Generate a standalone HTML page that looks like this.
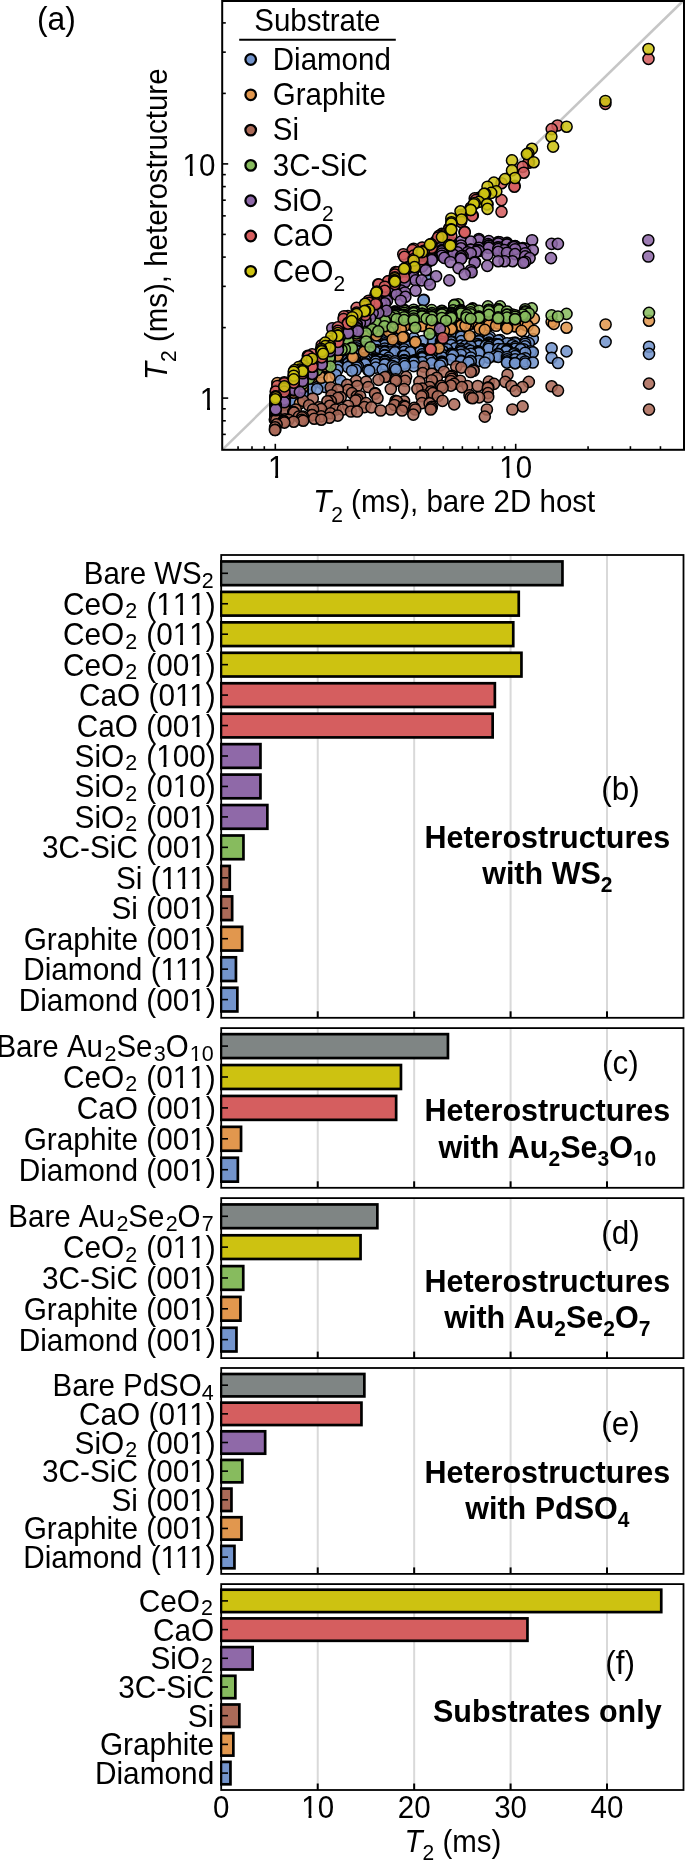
<!DOCTYPE html>
<html><head><meta charset="utf-8"><style>html,body{margin:0;padding:0;background:#fff;}svg{display:block;will-change:transform;}text{font-family:"Liberation Sans",sans-serif;font-kerning:none;font-feature-settings:"kern" 0;}</style></head>
<body><svg width="685" height="1861" viewBox="0 0 685 1861" font-family="Liberation Sans, sans-serif"><line x1="222.2" y1="449.8" x2="683.0" y2="1.0" stroke="#c6c6c6" stroke-width="2.5"/>
<circle cx="439.1" cy="253.8" r="5.55" fill="#7394cc" fill-opacity="0.87" stroke="#000" stroke-width="1.5"/>
<circle cx="427.9" cy="262.0" r="5.55" fill="#7394cc" fill-opacity="0.87" stroke="#000" stroke-width="1.5"/>
<circle cx="427.9" cy="280.4" r="5.55" fill="#7394cc" fill-opacity="0.87" stroke="#000" stroke-width="1.5"/>
<circle cx="423.8" cy="299.8" r="5.55" fill="#7394cc" fill-opacity="0.87" stroke="#000" stroke-width="1.5"/>
<circle cx="423.5" cy="300.2" r="5.55" fill="#7394cc" fill-opacity="0.87" stroke="#000" stroke-width="1.5"/>
<circle cx="459.3" cy="332.9" r="5.55" fill="#7394cc" fill-opacity="0.87" stroke="#000" stroke-width="1.5"/>
<circle cx="451.2" cy="335.5" r="5.55" fill="#7394cc" fill-opacity="0.87" stroke="#000" stroke-width="1.5"/>
<circle cx="451.2" cy="335.6" r="5.55" fill="#7394cc" fill-opacity="0.87" stroke="#000" stroke-width="1.5"/>
<circle cx="461.0" cy="335.6" r="5.55" fill="#7394cc" fill-opacity="0.87" stroke="#000" stroke-width="1.5"/>
<circle cx="375.7" cy="336.4" r="5.55" fill="#7394cc" fill-opacity="0.87" stroke="#000" stroke-width="1.5"/>
<circle cx="461.0" cy="336.7" r="5.55" fill="#7394cc" fill-opacity="0.87" stroke="#000" stroke-width="1.5"/>
<circle cx="431.7" cy="337.0" r="5.55" fill="#7394cc" fill-opacity="0.87" stroke="#000" stroke-width="1.5"/>
<circle cx="477.7" cy="337.0" r="5.55" fill="#7394cc" fill-opacity="0.87" stroke="#000" stroke-width="1.5"/>
<circle cx="489.9" cy="337.0" r="5.55" fill="#7394cc" fill-opacity="0.87" stroke="#000" stroke-width="1.5"/>
<circle cx="404.1" cy="337.8" r="5.55" fill="#7394cc" fill-opacity="0.87" stroke="#000" stroke-width="1.5"/>
<circle cx="413.7" cy="338.1" r="5.55" fill="#7394cc" fill-opacity="0.87" stroke="#000" stroke-width="1.5"/>
<circle cx="394.9" cy="338.2" r="5.55" fill="#7394cc" fill-opacity="0.87" stroke="#000" stroke-width="1.5"/>
<circle cx="470.7" cy="338.2" r="5.55" fill="#7394cc" fill-opacity="0.87" stroke="#000" stroke-width="1.5"/>
<circle cx="431.7" cy="338.4" r="5.55" fill="#7394cc" fill-opacity="0.87" stroke="#000" stroke-width="1.5"/>
<circle cx="394.9" cy="338.6" r="5.55" fill="#7394cc" fill-opacity="0.87" stroke="#000" stroke-width="1.5"/>
<circle cx="384.8" cy="338.9" r="5.55" fill="#7394cc" fill-opacity="0.87" stroke="#000" stroke-width="1.5"/>
<circle cx="532.8" cy="339.0" r="5.55" fill="#7394cc" fill-opacity="0.87" stroke="#000" stroke-width="1.5"/>
<circle cx="488.8" cy="339.1" r="5.55" fill="#7394cc" fill-opacity="0.87" stroke="#000" stroke-width="1.5"/>
<circle cx="431.7" cy="339.2" r="5.55" fill="#7394cc" fill-opacity="0.87" stroke="#000" stroke-width="1.5"/>
<circle cx="384.8" cy="339.3" r="5.55" fill="#7394cc" fill-opacity="0.87" stroke="#000" stroke-width="1.5"/>
<circle cx="404.1" cy="339.8" r="5.55" fill="#7394cc" fill-opacity="0.87" stroke="#000" stroke-width="1.5"/>
<circle cx="500.1" cy="340.1" r="5.55" fill="#7394cc" fill-opacity="0.87" stroke="#000" stroke-width="1.5"/>
<circle cx="375.7" cy="340.3" r="5.55" fill="#7394cc" fill-opacity="0.87" stroke="#000" stroke-width="1.5"/>
<circle cx="498.2" cy="340.6" r="5.55" fill="#7394cc" fill-opacity="0.87" stroke="#000" stroke-width="1.5"/>
<circle cx="404.1" cy="340.7" r="5.55" fill="#7394cc" fill-opacity="0.87" stroke="#000" stroke-width="1.5"/>
<circle cx="478.9" cy="341.0" r="5.55" fill="#7394cc" fill-opacity="0.87" stroke="#000" stroke-width="1.5"/>
<circle cx="461.3" cy="341.1" r="5.55" fill="#7394cc" fill-opacity="0.87" stroke="#000" stroke-width="1.5"/>
<circle cx="440.9" cy="341.1" r="5.55" fill="#7394cc" fill-opacity="0.87" stroke="#000" stroke-width="1.5"/>
<circle cx="422.5" cy="341.1" r="5.55" fill="#7394cc" fill-opacity="0.87" stroke="#000" stroke-width="1.5"/>
<circle cx="365.2" cy="341.2" r="5.55" fill="#7394cc" fill-opacity="0.87" stroke="#000" stroke-width="1.5"/>
<circle cx="451.2" cy="341.2" r="5.55" fill="#7394cc" fill-opacity="0.87" stroke="#000" stroke-width="1.5"/>
<circle cx="365.2" cy="341.3" r="5.55" fill="#7394cc" fill-opacity="0.87" stroke="#000" stroke-width="1.5"/>
<circle cx="478.9" cy="341.3" r="5.55" fill="#7394cc" fill-opacity="0.87" stroke="#000" stroke-width="1.5"/>
<circle cx="384.8" cy="341.4" r="5.55" fill="#7394cc" fill-opacity="0.87" stroke="#000" stroke-width="1.5"/>
<circle cx="394.9" cy="341.7" r="5.55" fill="#7394cc" fill-opacity="0.87" stroke="#000" stroke-width="1.5"/>
<circle cx="525.2" cy="341.7" r="5.55" fill="#7394cc" fill-opacity="0.87" stroke="#000" stroke-width="1.5"/>
<circle cx="375.7" cy="341.8" r="5.55" fill="#7394cc" fill-opacity="0.87" stroke="#000" stroke-width="1.5"/>
<circle cx="441.9" cy="341.9" r="5.55" fill="#7394cc" fill-opacity="0.87" stroke="#000" stroke-width="1.5"/>
<circle cx="605.6" cy="341.9" r="5.55" fill="#7394cc" fill-opacity="0.87" stroke="#000" stroke-width="1.5"/>
<circle cx="441.9" cy="342.0" r="5.55" fill="#7394cc" fill-opacity="0.87" stroke="#000" stroke-width="1.5"/>
<circle cx="451.2" cy="342.2" r="5.55" fill="#7394cc" fill-opacity="0.87" stroke="#000" stroke-width="1.5"/>
<circle cx="515.1" cy="342.5" r="5.55" fill="#7394cc" fill-opacity="0.87" stroke="#000" stroke-width="1.5"/>
<circle cx="375.7" cy="342.6" r="5.55" fill="#7394cc" fill-opacity="0.87" stroke="#000" stroke-width="1.5"/>
<circle cx="488.8" cy="342.6" r="5.55" fill="#7394cc" fill-opacity="0.87" stroke="#000" stroke-width="1.5"/>
<circle cx="528.8" cy="343.1" r="5.55" fill="#7394cc" fill-opacity="0.87" stroke="#000" stroke-width="1.5"/>
<circle cx="512.4" cy="343.1" r="5.55" fill="#7394cc" fill-opacity="0.87" stroke="#000" stroke-width="1.5"/>
<circle cx="384.8" cy="343.2" r="5.55" fill="#7394cc" fill-opacity="0.87" stroke="#000" stroke-width="1.5"/>
<circle cx="507.0" cy="343.2" r="5.55" fill="#7394cc" fill-opacity="0.87" stroke="#000" stroke-width="1.5"/>
<circle cx="375.7" cy="343.3" r="5.55" fill="#7394cc" fill-opacity="0.87" stroke="#000" stroke-width="1.5"/>
<circle cx="515.1" cy="343.4" r="5.55" fill="#7394cc" fill-opacity="0.87" stroke="#000" stroke-width="1.5"/>
<circle cx="488.8" cy="343.5" r="5.55" fill="#7394cc" fill-opacity="0.87" stroke="#000" stroke-width="1.5"/>
<circle cx="525.2" cy="343.7" r="5.55" fill="#7394cc" fill-opacity="0.87" stroke="#000" stroke-width="1.5"/>
<circle cx="441.9" cy="343.9" r="5.55" fill="#7394cc" fill-opacity="0.87" stroke="#000" stroke-width="1.5"/>
<circle cx="347.9" cy="344.1" r="5.55" fill="#7394cc" fill-opacity="0.87" stroke="#000" stroke-width="1.5"/>
<circle cx="496.1" cy="344.1" r="5.55" fill="#7394cc" fill-opacity="0.87" stroke="#000" stroke-width="1.5"/>
<circle cx="477.7" cy="344.1" r="5.55" fill="#7394cc" fill-opacity="0.87" stroke="#000" stroke-width="1.5"/>
<circle cx="498.2" cy="344.2" r="5.55" fill="#7394cc" fill-opacity="0.87" stroke="#000" stroke-width="1.5"/>
<circle cx="356.6" cy="344.5" r="5.55" fill="#7394cc" fill-opacity="0.87" stroke="#000" stroke-width="1.5"/>
<circle cx="413.7" cy="344.6" r="5.55" fill="#7394cc" fill-opacity="0.87" stroke="#000" stroke-width="1.5"/>
<circle cx="498.2" cy="344.6" r="5.55" fill="#7394cc" fill-opacity="0.87" stroke="#000" stroke-width="1.5"/>
<circle cx="488.8" cy="344.7" r="5.55" fill="#7394cc" fill-opacity="0.87" stroke="#000" stroke-width="1.5"/>
<circle cx="498.2" cy="344.7" r="5.55" fill="#7394cc" fill-opacity="0.87" stroke="#000" stroke-width="1.5"/>
<circle cx="384.8" cy="344.9" r="5.55" fill="#7394cc" fill-opacity="0.87" stroke="#000" stroke-width="1.5"/>
<circle cx="413.7" cy="344.9" r="5.55" fill="#7394cc" fill-opacity="0.87" stroke="#000" stroke-width="1.5"/>
<circle cx="451.2" cy="344.9" r="5.55" fill="#7394cc" fill-opacity="0.87" stroke="#000" stroke-width="1.5"/>
<circle cx="451.2" cy="345.0" r="5.55" fill="#7394cc" fill-opacity="0.87" stroke="#000" stroke-width="1.5"/>
<circle cx="441.9" cy="345.2" r="5.55" fill="#7394cc" fill-opacity="0.87" stroke="#000" stroke-width="1.5"/>
<circle cx="478.9" cy="345.2" r="5.55" fill="#7394cc" fill-opacity="0.87" stroke="#000" stroke-width="1.5"/>
<circle cx="485.8" cy="345.2" r="5.55" fill="#7394cc" fill-opacity="0.87" stroke="#000" stroke-width="1.5"/>
<circle cx="512.4" cy="345.2" r="5.55" fill="#7394cc" fill-opacity="0.87" stroke="#000" stroke-width="1.5"/>
<circle cx="406.1" cy="345.2" r="5.55" fill="#7394cc" fill-opacity="0.87" stroke="#000" stroke-width="1.5"/>
<circle cx="384.8" cy="345.3" r="5.55" fill="#7394cc" fill-opacity="0.87" stroke="#000" stroke-width="1.5"/>
<circle cx="347.9" cy="345.4" r="5.55" fill="#7394cc" fill-opacity="0.87" stroke="#000" stroke-width="1.5"/>
<circle cx="461.0" cy="345.6" r="5.55" fill="#7394cc" fill-opacity="0.87" stroke="#000" stroke-width="1.5"/>
<circle cx="461.0" cy="345.6" r="5.55" fill="#7394cc" fill-opacity="0.87" stroke="#000" stroke-width="1.5"/>
<circle cx="400.8" cy="345.6" r="5.55" fill="#7394cc" fill-opacity="0.87" stroke="#000" stroke-width="1.5"/>
<circle cx="375.7" cy="345.7" r="5.55" fill="#7394cc" fill-opacity="0.87" stroke="#000" stroke-width="1.5"/>
<circle cx="356.6" cy="345.8" r="5.55" fill="#7394cc" fill-opacity="0.87" stroke="#000" stroke-width="1.5"/>
<circle cx="413.7" cy="345.9" r="5.55" fill="#7394cc" fill-opacity="0.87" stroke="#000" stroke-width="1.5"/>
<circle cx="478.9" cy="346.1" r="5.55" fill="#7394cc" fill-opacity="0.87" stroke="#000" stroke-width="1.5"/>
<circle cx="485.8" cy="346.1" r="5.55" fill="#7394cc" fill-opacity="0.87" stroke="#000" stroke-width="1.5"/>
<circle cx="465.4" cy="346.1" r="5.55" fill="#7394cc" fill-opacity="0.87" stroke="#000" stroke-width="1.5"/>
<circle cx="406.1" cy="346.1" r="5.55" fill="#7394cc" fill-opacity="0.87" stroke="#000" stroke-width="1.5"/>
<circle cx="394.9" cy="346.4" r="5.55" fill="#7394cc" fill-opacity="0.87" stroke="#000" stroke-width="1.5"/>
<circle cx="470.7" cy="346.4" r="5.55" fill="#7394cc" fill-opacity="0.87" stroke="#000" stroke-width="1.5"/>
<circle cx="525.2" cy="346.4" r="5.55" fill="#7394cc" fill-opacity="0.87" stroke="#000" stroke-width="1.5"/>
<circle cx="337.9" cy="346.6" r="5.55" fill="#7394cc" fill-opacity="0.87" stroke="#000" stroke-width="1.5"/>
<circle cx="649.0" cy="346.7" r="5.55" fill="#7394cc" fill-opacity="0.87" stroke="#000" stroke-width="1.5"/>
<circle cx="488.8" cy="346.8" r="5.55" fill="#7394cc" fill-opacity="0.87" stroke="#000" stroke-width="1.5"/>
<circle cx="337.9" cy="346.9" r="5.55" fill="#7394cc" fill-opacity="0.87" stroke="#000" stroke-width="1.5"/>
<circle cx="488.8" cy="347.1" r="5.55" fill="#7394cc" fill-opacity="0.87" stroke="#000" stroke-width="1.5"/>
<circle cx="515.1" cy="347.1" r="5.55" fill="#7394cc" fill-opacity="0.87" stroke="#000" stroke-width="1.5"/>
<circle cx="365.2" cy="347.2" r="5.55" fill="#7394cc" fill-opacity="0.87" stroke="#000" stroke-width="1.5"/>
<circle cx="394.9" cy="347.7" r="5.55" fill="#7394cc" fill-opacity="0.87" stroke="#000" stroke-width="1.5"/>
<circle cx="347.9" cy="347.8" r="5.55" fill="#7394cc" fill-opacity="0.87" stroke="#000" stroke-width="1.5"/>
<circle cx="394.9" cy="347.9" r="5.55" fill="#7394cc" fill-opacity="0.87" stroke="#000" stroke-width="1.5"/>
<circle cx="356.6" cy="348.2" r="5.55" fill="#7394cc" fill-opacity="0.87" stroke="#000" stroke-width="1.5"/>
<circle cx="551.6" cy="348.2" r="5.55" fill="#7394cc" fill-opacity="0.87" stroke="#000" stroke-width="1.5"/>
<circle cx="455.2" cy="348.2" r="5.55" fill="#7394cc" fill-opacity="0.87" stroke="#000" stroke-width="1.5"/>
<circle cx="384.8" cy="348.5" r="5.55" fill="#7394cc" fill-opacity="0.87" stroke="#000" stroke-width="1.5"/>
<circle cx="394.9" cy="348.7" r="5.55" fill="#7394cc" fill-opacity="0.87" stroke="#000" stroke-width="1.5"/>
<circle cx="461.0" cy="348.7" r="5.55" fill="#7394cc" fill-opacity="0.87" stroke="#000" stroke-width="1.5"/>
<circle cx="488.8" cy="348.7" r="5.55" fill="#7394cc" fill-opacity="0.87" stroke="#000" stroke-width="1.5"/>
<circle cx="515.1" cy="348.8" r="5.55" fill="#7394cc" fill-opacity="0.87" stroke="#000" stroke-width="1.5"/>
<circle cx="441.9" cy="349.0" r="5.55" fill="#7394cc" fill-opacity="0.87" stroke="#000" stroke-width="1.5"/>
<circle cx="507.0" cy="349.0" r="5.55" fill="#7394cc" fill-opacity="0.87" stroke="#000" stroke-width="1.5"/>
<circle cx="498.2" cy="349.1" r="5.55" fill="#7394cc" fill-opacity="0.87" stroke="#000" stroke-width="1.5"/>
<circle cx="365.2" cy="349.2" r="5.55" fill="#7394cc" fill-opacity="0.87" stroke="#000" stroke-width="1.5"/>
<circle cx="523.6" cy="349.2" r="5.55" fill="#7394cc" fill-opacity="0.87" stroke="#000" stroke-width="1.5"/>
<circle cx="447.0" cy="349.2" r="5.55" fill="#7394cc" fill-opacity="0.87" stroke="#000" stroke-width="1.5"/>
<circle cx="347.9" cy="349.3" r="5.55" fill="#7394cc" fill-opacity="0.87" stroke="#000" stroke-width="1.5"/>
<circle cx="404.1" cy="349.3" r="5.55" fill="#7394cc" fill-opacity="0.87" stroke="#000" stroke-width="1.5"/>
<circle cx="467.4" cy="349.3" r="5.55" fill="#7394cc" fill-opacity="0.87" stroke="#000" stroke-width="1.5"/>
<circle cx="502.2" cy="349.3" r="5.55" fill="#7394cc" fill-opacity="0.87" stroke="#000" stroke-width="1.5"/>
<circle cx="520.6" cy="349.3" r="5.55" fill="#7394cc" fill-opacity="0.87" stroke="#000" stroke-width="1.5"/>
<circle cx="422.1" cy="349.4" r="5.55" fill="#7394cc" fill-opacity="0.87" stroke="#000" stroke-width="1.5"/>
<circle cx="347.9" cy="349.7" r="5.55" fill="#7394cc" fill-opacity="0.87" stroke="#000" stroke-width="1.5"/>
<circle cx="390.6" cy="349.7" r="5.55" fill="#7394cc" fill-opacity="0.87" stroke="#000" stroke-width="1.5"/>
<circle cx="422.1" cy="349.8" r="5.55" fill="#7394cc" fill-opacity="0.87" stroke="#000" stroke-width="1.5"/>
<circle cx="507.0" cy="350.0" r="5.55" fill="#7394cc" fill-opacity="0.87" stroke="#000" stroke-width="1.5"/>
<circle cx="347.9" cy="350.2" r="5.55" fill="#7394cc" fill-opacity="0.87" stroke="#000" stroke-width="1.5"/>
<circle cx="356.6" cy="350.2" r="5.55" fill="#7394cc" fill-opacity="0.87" stroke="#000" stroke-width="1.5"/>
<circle cx="420.4" cy="350.2" r="5.55" fill="#7394cc" fill-opacity="0.87" stroke="#000" stroke-width="1.5"/>
<circle cx="377.5" cy="350.2" r="5.55" fill="#7394cc" fill-opacity="0.87" stroke="#000" stroke-width="1.5"/>
<circle cx="375.7" cy="350.3" r="5.55" fill="#7394cc" fill-opacity="0.87" stroke="#000" stroke-width="1.5"/>
<circle cx="413.7" cy="350.5" r="5.55" fill="#7394cc" fill-opacity="0.87" stroke="#000" stroke-width="1.5"/>
<circle cx="461.0" cy="350.5" r="5.55" fill="#7394cc" fill-opacity="0.87" stroke="#000" stroke-width="1.5"/>
<circle cx="347.9" cy="350.6" r="5.55" fill="#7394cc" fill-opacity="0.87" stroke="#000" stroke-width="1.5"/>
<circle cx="356.6" cy="350.8" r="5.55" fill="#7394cc" fill-opacity="0.87" stroke="#000" stroke-width="1.5"/>
<circle cx="384.8" cy="350.8" r="5.55" fill="#7394cc" fill-opacity="0.87" stroke="#000" stroke-width="1.5"/>
<circle cx="470.7" cy="350.8" r="5.55" fill="#7394cc" fill-opacity="0.87" stroke="#000" stroke-width="1.5"/>
<circle cx="507.0" cy="350.8" r="5.55" fill="#7394cc" fill-opacity="0.87" stroke="#000" stroke-width="1.5"/>
<circle cx="413.7" cy="350.9" r="5.55" fill="#7394cc" fill-opacity="0.87" stroke="#000" stroke-width="1.5"/>
<circle cx="337.9" cy="351.1" r="5.55" fill="#7394cc" fill-opacity="0.87" stroke="#000" stroke-width="1.5"/>
<circle cx="506.3" cy="351.2" r="5.55" fill="#7394cc" fill-opacity="0.87" stroke="#000" stroke-width="1.5"/>
<circle cx="530.8" cy="351.3" r="5.55" fill="#7394cc" fill-opacity="0.87" stroke="#000" stroke-width="1.5"/>
<circle cx="442.9" cy="351.3" r="5.55" fill="#7394cc" fill-opacity="0.87" stroke="#000" stroke-width="1.5"/>
<circle cx="420.4" cy="351.3" r="5.55" fill="#7394cc" fill-opacity="0.87" stroke="#000" stroke-width="1.5"/>
<circle cx="477.7" cy="351.3" r="5.55" fill="#7394cc" fill-opacity="0.87" stroke="#000" stroke-width="1.5"/>
<circle cx="356.6" cy="351.4" r="5.55" fill="#7394cc" fill-opacity="0.87" stroke="#000" stroke-width="1.5"/>
<circle cx="356.6" cy="351.4" r="5.55" fill="#7394cc" fill-opacity="0.87" stroke="#000" stroke-width="1.5"/>
<circle cx="394.9" cy="351.4" r="5.55" fill="#7394cc" fill-opacity="0.87" stroke="#000" stroke-width="1.5"/>
<circle cx="566.5" cy="351.4" r="5.55" fill="#7394cc" fill-opacity="0.87" stroke="#000" stroke-width="1.5"/>
<circle cx="478.9" cy="351.7" r="5.55" fill="#7394cc" fill-opacity="0.87" stroke="#000" stroke-width="1.5"/>
<circle cx="365.2" cy="351.8" r="5.55" fill="#7394cc" fill-opacity="0.87" stroke="#000" stroke-width="1.5"/>
<circle cx="384.8" cy="351.8" r="5.55" fill="#7394cc" fill-opacity="0.87" stroke="#000" stroke-width="1.5"/>
<circle cx="378.3" cy="351.8" r="5.55" fill="#7394cc" fill-opacity="0.87" stroke="#000" stroke-width="1.5"/>
<circle cx="404.1" cy="351.9" r="5.55" fill="#7394cc" fill-opacity="0.87" stroke="#000" stroke-width="1.5"/>
<circle cx="461.0" cy="352.0" r="5.55" fill="#7394cc" fill-opacity="0.87" stroke="#000" stroke-width="1.5"/>
<circle cx="329.8" cy="352.1" r="5.55" fill="#7394cc" fill-opacity="0.87" stroke="#000" stroke-width="1.5"/>
<circle cx="347.9" cy="352.1" r="5.55" fill="#7394cc" fill-opacity="0.87" stroke="#000" stroke-width="1.5"/>
<circle cx="532.8" cy="352.3" r="5.55" fill="#7394cc" fill-opacity="0.87" stroke="#000" stroke-width="1.5"/>
<circle cx="410.2" cy="352.3" r="5.55" fill="#7394cc" fill-opacity="0.87" stroke="#000" stroke-width="1.5"/>
<circle cx="390.8" cy="352.3" r="5.55" fill="#7394cc" fill-opacity="0.87" stroke="#000" stroke-width="1.5"/>
<circle cx="375.7" cy="352.4" r="5.55" fill="#7394cc" fill-opacity="0.87" stroke="#000" stroke-width="1.5"/>
<circle cx="384.8" cy="352.4" r="5.55" fill="#7394cc" fill-opacity="0.87" stroke="#000" stroke-width="1.5"/>
<circle cx="394.9" cy="352.4" r="5.55" fill="#7394cc" fill-opacity="0.87" stroke="#000" stroke-width="1.5"/>
<circle cx="478.9" cy="352.5" r="5.55" fill="#7394cc" fill-opacity="0.87" stroke="#000" stroke-width="1.5"/>
<circle cx="347.9" cy="352.7" r="5.55" fill="#7394cc" fill-opacity="0.87" stroke="#000" stroke-width="1.5"/>
<circle cx="525.2" cy="352.7" r="5.55" fill="#7394cc" fill-opacity="0.87" stroke="#000" stroke-width="1.5"/>
<circle cx="365.2" cy="352.8" r="5.55" fill="#7394cc" fill-opacity="0.87" stroke="#000" stroke-width="1.5"/>
<circle cx="370.1" cy="352.8" r="5.55" fill="#7394cc" fill-opacity="0.87" stroke="#000" stroke-width="1.5"/>
<circle cx="478.9" cy="353.1" r="5.55" fill="#7394cc" fill-opacity="0.87" stroke="#000" stroke-width="1.5"/>
<circle cx="431.7" cy="353.3" r="5.55" fill="#7394cc" fill-opacity="0.87" stroke="#000" stroke-width="1.5"/>
<circle cx="514.4" cy="353.3" r="5.55" fill="#7394cc" fill-opacity="0.87" stroke="#000" stroke-width="1.5"/>
<circle cx="347.9" cy="353.5" r="5.55" fill="#7394cc" fill-opacity="0.87" stroke="#000" stroke-width="1.5"/>
<circle cx="431.7" cy="353.5" r="5.55" fill="#7394cc" fill-opacity="0.87" stroke="#000" stroke-width="1.5"/>
<circle cx="451.2" cy="353.6" r="5.55" fill="#7394cc" fill-opacity="0.87" stroke="#000" stroke-width="1.5"/>
<circle cx="470.7" cy="353.7" r="5.55" fill="#7394cc" fill-opacity="0.87" stroke="#000" stroke-width="1.5"/>
<circle cx="498.2" cy="353.7" r="5.55" fill="#7394cc" fill-opacity="0.87" stroke="#000" stroke-width="1.5"/>
<circle cx="337.9" cy="353.8" r="5.55" fill="#7394cc" fill-opacity="0.87" stroke="#000" stroke-width="1.5"/>
<circle cx="649.0" cy="353.9" r="5.55" fill="#7394cc" fill-opacity="0.87" stroke="#000" stroke-width="1.5"/>
<circle cx="356.6" cy="354.2" r="5.55" fill="#7394cc" fill-opacity="0.87" stroke="#000" stroke-width="1.5"/>
<circle cx="365.2" cy="354.2" r="5.55" fill="#7394cc" fill-opacity="0.87" stroke="#000" stroke-width="1.5"/>
<circle cx="441.9" cy="354.3" r="5.55" fill="#7394cc" fill-opacity="0.87" stroke="#000" stroke-width="1.5"/>
<circle cx="454.2" cy="354.3" r="5.55" fill="#7394cc" fill-opacity="0.87" stroke="#000" stroke-width="1.5"/>
<circle cx="465.4" cy="354.3" r="5.55" fill="#7394cc" fill-opacity="0.87" stroke="#000" stroke-width="1.5"/>
<circle cx="513.4" cy="354.3" r="5.55" fill="#7394cc" fill-opacity="0.87" stroke="#000" stroke-width="1.5"/>
<circle cx="422.1" cy="354.4" r="5.55" fill="#7394cc" fill-opacity="0.87" stroke="#000" stroke-width="1.5"/>
<circle cx="431.7" cy="354.4" r="5.55" fill="#7394cc" fill-opacity="0.87" stroke="#000" stroke-width="1.5"/>
<circle cx="451.2" cy="354.4" r="5.55" fill="#7394cc" fill-opacity="0.87" stroke="#000" stroke-width="1.5"/>
<circle cx="498.2" cy="354.4" r="5.55" fill="#7394cc" fill-opacity="0.87" stroke="#000" stroke-width="1.5"/>
<circle cx="461.0" cy="354.7" r="5.55" fill="#7394cc" fill-opacity="0.87" stroke="#000" stroke-width="1.5"/>
<circle cx="329.8" cy="355.0" r="5.55" fill="#7394cc" fill-opacity="0.87" stroke="#000" stroke-width="1.5"/>
<circle cx="384.8" cy="355.0" r="5.55" fill="#7394cc" fill-opacity="0.87" stroke="#000" stroke-width="1.5"/>
<circle cx="337.9" cy="355.3" r="5.55" fill="#7394cc" fill-opacity="0.87" stroke="#000" stroke-width="1.5"/>
<circle cx="451.2" cy="355.3" r="5.55" fill="#7394cc" fill-opacity="0.87" stroke="#000" stroke-width="1.5"/>
<circle cx="453.1" cy="355.4" r="5.55" fill="#7394cc" fill-opacity="0.87" stroke="#000" stroke-width="1.5"/>
<circle cx="356.6" cy="355.5" r="5.55" fill="#7394cc" fill-opacity="0.87" stroke="#000" stroke-width="1.5"/>
<circle cx="384.8" cy="355.5" r="5.55" fill="#7394cc" fill-opacity="0.87" stroke="#000" stroke-width="1.5"/>
<circle cx="431.7" cy="355.6" r="5.55" fill="#7394cc" fill-opacity="0.87" stroke="#000" stroke-width="1.5"/>
<circle cx="329.8" cy="355.7" r="5.55" fill="#7394cc" fill-opacity="0.87" stroke="#000" stroke-width="1.5"/>
<circle cx="356.6" cy="355.8" r="5.55" fill="#7394cc" fill-opacity="0.87" stroke="#000" stroke-width="1.5"/>
<circle cx="402.8" cy="355.8" r="5.55" fill="#7394cc" fill-opacity="0.87" stroke="#000" stroke-width="1.5"/>
<circle cx="404.1" cy="356.0" r="5.55" fill="#7394cc" fill-opacity="0.87" stroke="#000" stroke-width="1.5"/>
<circle cx="515.1" cy="356.0" r="5.55" fill="#7394cc" fill-opacity="0.87" stroke="#000" stroke-width="1.5"/>
<circle cx="337.9" cy="356.2" r="5.55" fill="#7394cc" fill-opacity="0.87" stroke="#000" stroke-width="1.5"/>
<circle cx="431.7" cy="356.3" r="5.55" fill="#7394cc" fill-opacity="0.87" stroke="#000" stroke-width="1.5"/>
<circle cx="495.0" cy="356.3" r="5.55" fill="#7394cc" fill-opacity="0.87" stroke="#000" stroke-width="1.5"/>
<circle cx="432.7" cy="356.3" r="5.55" fill="#7394cc" fill-opacity="0.87" stroke="#000" stroke-width="1.5"/>
<circle cx="347.9" cy="356.4" r="5.55" fill="#7394cc" fill-opacity="0.87" stroke="#000" stroke-width="1.5"/>
<circle cx="337.9" cy="356.5" r="5.55" fill="#7394cc" fill-opacity="0.87" stroke="#000" stroke-width="1.5"/>
<circle cx="337.9" cy="356.5" r="5.55" fill="#7394cc" fill-opacity="0.87" stroke="#000" stroke-width="1.5"/>
<circle cx="337.9" cy="356.5" r="5.55" fill="#7394cc" fill-opacity="0.87" stroke="#000" stroke-width="1.5"/>
<circle cx="422.1" cy="356.7" r="5.55" fill="#7394cc" fill-opacity="0.87" stroke="#000" stroke-width="1.5"/>
<circle cx="422.1" cy="356.9" r="5.55" fill="#7394cc" fill-opacity="0.87" stroke="#000" stroke-width="1.5"/>
<circle cx="498.2" cy="356.9" r="5.55" fill="#7394cc" fill-opacity="0.87" stroke="#000" stroke-width="1.5"/>
<circle cx="507.0" cy="357.0" r="5.55" fill="#7394cc" fill-opacity="0.87" stroke="#000" stroke-width="1.5"/>
<circle cx="441.9" cy="357.2" r="5.55" fill="#7394cc" fill-opacity="0.87" stroke="#000" stroke-width="1.5"/>
<circle cx="329.8" cy="357.3" r="5.55" fill="#7394cc" fill-opacity="0.87" stroke="#000" stroke-width="1.5"/>
<circle cx="368.3" cy="357.4" r="5.55" fill="#7394cc" fill-opacity="0.87" stroke="#000" stroke-width="1.5"/>
<circle cx="470.7" cy="357.5" r="5.55" fill="#7394cc" fill-opacity="0.87" stroke="#000" stroke-width="1.5"/>
<circle cx="422.1" cy="357.6" r="5.55" fill="#7394cc" fill-opacity="0.87" stroke="#000" stroke-width="1.5"/>
<circle cx="488.8" cy="357.7" r="5.55" fill="#7394cc" fill-opacity="0.87" stroke="#000" stroke-width="1.5"/>
<circle cx="551.6" cy="357.7" r="5.55" fill="#7394cc" fill-opacity="0.87" stroke="#000" stroke-width="1.5"/>
<circle cx="365.2" cy="357.8" r="5.55" fill="#7394cc" fill-opacity="0.87" stroke="#000" stroke-width="1.5"/>
<circle cx="388.5" cy="357.9" r="5.55" fill="#7394cc" fill-opacity="0.87" stroke="#000" stroke-width="1.5"/>
<circle cx="337.9" cy="358.0" r="5.55" fill="#7394cc" fill-opacity="0.87" stroke="#000" stroke-width="1.5"/>
<circle cx="347.9" cy="358.0" r="5.55" fill="#7394cc" fill-opacity="0.87" stroke="#000" stroke-width="1.5"/>
<circle cx="321.7" cy="358.2" r="5.55" fill="#7394cc" fill-opacity="0.87" stroke="#000" stroke-width="1.5"/>
<circle cx="329.8" cy="358.2" r="5.55" fill="#7394cc" fill-opacity="0.87" stroke="#000" stroke-width="1.5"/>
<circle cx="525.2" cy="358.2" r="5.55" fill="#7394cc" fill-opacity="0.87" stroke="#000" stroke-width="1.5"/>
<circle cx="422.1" cy="358.4" r="5.55" fill="#7394cc" fill-opacity="0.87" stroke="#000" stroke-width="1.5"/>
<circle cx="375.7" cy="358.5" r="5.55" fill="#7394cc" fill-opacity="0.87" stroke="#000" stroke-width="1.5"/>
<circle cx="365.2" cy="358.6" r="5.55" fill="#7394cc" fill-opacity="0.87" stroke="#000" stroke-width="1.5"/>
<circle cx="375.7" cy="358.6" r="5.55" fill="#7394cc" fill-opacity="0.87" stroke="#000" stroke-width="1.5"/>
<circle cx="356.6" cy="359.0" r="5.55" fill="#7394cc" fill-opacity="0.87" stroke="#000" stroke-width="1.5"/>
<circle cx="365.2" cy="359.1" r="5.55" fill="#7394cc" fill-opacity="0.87" stroke="#000" stroke-width="1.5"/>
<circle cx="431.7" cy="359.3" r="5.55" fill="#7394cc" fill-opacity="0.87" stroke="#000" stroke-width="1.5"/>
<circle cx="507.0" cy="359.3" r="5.55" fill="#7394cc" fill-opacity="0.87" stroke="#000" stroke-width="1.5"/>
<circle cx="515.1" cy="359.3" r="5.55" fill="#7394cc" fill-opacity="0.87" stroke="#000" stroke-width="1.5"/>
<circle cx="521.6" cy="359.4" r="5.55" fill="#7394cc" fill-opacity="0.87" stroke="#000" stroke-width="1.5"/>
<circle cx="378.5" cy="359.4" r="5.55" fill="#7394cc" fill-opacity="0.87" stroke="#000" stroke-width="1.5"/>
<circle cx="451.2" cy="359.5" r="5.55" fill="#7394cc" fill-opacity="0.87" stroke="#000" stroke-width="1.5"/>
<circle cx="375.7" cy="359.7" r="5.55" fill="#7394cc" fill-opacity="0.87" stroke="#000" stroke-width="1.5"/>
<circle cx="431.7" cy="359.8" r="5.55" fill="#7394cc" fill-opacity="0.87" stroke="#000" stroke-width="1.5"/>
<circle cx="431.7" cy="359.8" r="5.55" fill="#7394cc" fill-opacity="0.87" stroke="#000" stroke-width="1.5"/>
<circle cx="368.1" cy="359.9" r="5.55" fill="#7394cc" fill-opacity="0.87" stroke="#000" stroke-width="1.5"/>
<circle cx="380.4" cy="359.9" r="5.55" fill="#7394cc" fill-opacity="0.87" stroke="#000" stroke-width="1.5"/>
<circle cx="347.9" cy="360.0" r="5.55" fill="#7394cc" fill-opacity="0.87" stroke="#000" stroke-width="1.5"/>
<circle cx="404.1" cy="360.0" r="5.55" fill="#7394cc" fill-opacity="0.87" stroke="#000" stroke-width="1.5"/>
<circle cx="329.8" cy="360.2" r="5.55" fill="#7394cc" fill-opacity="0.87" stroke="#000" stroke-width="1.5"/>
<circle cx="365.2" cy="360.2" r="5.55" fill="#7394cc" fill-opacity="0.87" stroke="#000" stroke-width="1.5"/>
<circle cx="415.3" cy="360.4" r="5.55" fill="#7394cc" fill-opacity="0.87" stroke="#000" stroke-width="1.5"/>
<circle cx="429.6" cy="360.4" r="5.55" fill="#7394cc" fill-opacity="0.87" stroke="#000" stroke-width="1.5"/>
<circle cx="404.1" cy="360.4" r="5.55" fill="#7394cc" fill-opacity="0.87" stroke="#000" stroke-width="1.5"/>
<circle cx="387.7" cy="360.4" r="5.55" fill="#7394cc" fill-opacity="0.87" stroke="#000" stroke-width="1.5"/>
<circle cx="413.7" cy="360.5" r="5.55" fill="#7394cc" fill-opacity="0.87" stroke="#000" stroke-width="1.5"/>
<circle cx="461.0" cy="360.6" r="5.55" fill="#7394cc" fill-opacity="0.87" stroke="#000" stroke-width="1.5"/>
<circle cx="384.8" cy="360.7" r="5.55" fill="#7394cc" fill-opacity="0.87" stroke="#000" stroke-width="1.5"/>
<circle cx="413.7" cy="360.8" r="5.55" fill="#7394cc" fill-opacity="0.87" stroke="#000" stroke-width="1.5"/>
<circle cx="404.1" cy="360.9" r="5.55" fill="#7394cc" fill-opacity="0.87" stroke="#000" stroke-width="1.5"/>
<circle cx="375.7" cy="361.0" r="5.55" fill="#7394cc" fill-opacity="0.87" stroke="#000" stroke-width="1.5"/>
<circle cx="478.9" cy="361.0" r="5.55" fill="#7394cc" fill-opacity="0.87" stroke="#000" stroke-width="1.5"/>
<circle cx="321.7" cy="361.1" r="5.55" fill="#7394cc" fill-opacity="0.87" stroke="#000" stroke-width="1.5"/>
<circle cx="329.8" cy="361.1" r="5.55" fill="#7394cc" fill-opacity="0.87" stroke="#000" stroke-width="1.5"/>
<circle cx="470.7" cy="361.1" r="5.55" fill="#7394cc" fill-opacity="0.87" stroke="#000" stroke-width="1.5"/>
<circle cx="507.0" cy="361.3" r="5.55" fill="#7394cc" fill-opacity="0.87" stroke="#000" stroke-width="1.5"/>
<circle cx="394.9" cy="361.4" r="5.55" fill="#7394cc" fill-opacity="0.87" stroke="#000" stroke-width="1.5"/>
<circle cx="461.0" cy="361.4" r="5.55" fill="#7394cc" fill-opacity="0.87" stroke="#000" stroke-width="1.5"/>
<circle cx="470.7" cy="361.4" r="5.55" fill="#7394cc" fill-opacity="0.87" stroke="#000" stroke-width="1.5"/>
<circle cx="375.7" cy="361.5" r="5.55" fill="#7394cc" fill-opacity="0.87" stroke="#000" stroke-width="1.5"/>
<circle cx="375.7" cy="361.5" r="5.55" fill="#7394cc" fill-opacity="0.87" stroke="#000" stroke-width="1.5"/>
<circle cx="413.7" cy="361.5" r="5.55" fill="#7394cc" fill-opacity="0.87" stroke="#000" stroke-width="1.5"/>
<circle cx="441.9" cy="361.5" r="5.55" fill="#7394cc" fill-opacity="0.87" stroke="#000" stroke-width="1.5"/>
<circle cx="525.2" cy="361.5" r="5.55" fill="#7394cc" fill-opacity="0.87" stroke="#000" stroke-width="1.5"/>
<circle cx="384.8" cy="361.7" r="5.55" fill="#7394cc" fill-opacity="0.87" stroke="#000" stroke-width="1.5"/>
<circle cx="321.7" cy="361.8" r="5.55" fill="#7394cc" fill-opacity="0.87" stroke="#000" stroke-width="1.5"/>
<circle cx="413.7" cy="361.8" r="5.55" fill="#7394cc" fill-opacity="0.87" stroke="#000" stroke-width="1.5"/>
<circle cx="441.9" cy="362.2" r="5.55" fill="#7394cc" fill-opacity="0.87" stroke="#000" stroke-width="1.5"/>
<circle cx="422.1" cy="362.3" r="5.55" fill="#7394cc" fill-opacity="0.87" stroke="#000" stroke-width="1.5"/>
<circle cx="321.7" cy="362.4" r="5.55" fill="#7394cc" fill-opacity="0.87" stroke="#000" stroke-width="1.5"/>
<circle cx="356.6" cy="362.4" r="5.55" fill="#7394cc" fill-opacity="0.87" stroke="#000" stroke-width="1.5"/>
<circle cx="413.7" cy="362.5" r="5.55" fill="#7394cc" fill-opacity="0.87" stroke="#000" stroke-width="1.5"/>
<circle cx="468.5" cy="362.5" r="5.55" fill="#7394cc" fill-opacity="0.87" stroke="#000" stroke-width="1.5"/>
<circle cx="484.8" cy="362.5" r="5.55" fill="#7394cc" fill-opacity="0.87" stroke="#000" stroke-width="1.5"/>
<circle cx="532.8" cy="362.5" r="5.55" fill="#7394cc" fill-opacity="0.87" stroke="#000" stroke-width="1.5"/>
<circle cx="507.0" cy="362.6" r="5.55" fill="#7394cc" fill-opacity="0.87" stroke="#000" stroke-width="1.5"/>
<circle cx="337.9" cy="362.8" r="5.55" fill="#7394cc" fill-opacity="0.87" stroke="#000" stroke-width="1.5"/>
<circle cx="404.1" cy="362.8" r="5.55" fill="#7394cc" fill-opacity="0.87" stroke="#000" stroke-width="1.5"/>
<circle cx="347.9" cy="362.9" r="5.55" fill="#7394cc" fill-opacity="0.87" stroke="#000" stroke-width="1.5"/>
<circle cx="441.9" cy="362.9" r="5.55" fill="#7394cc" fill-opacity="0.87" stroke="#000" stroke-width="1.5"/>
<circle cx="329.8" cy="363.0" r="5.55" fill="#7394cc" fill-opacity="0.87" stroke="#000" stroke-width="1.5"/>
<circle cx="337.9" cy="363.0" r="5.55" fill="#7394cc" fill-opacity="0.87" stroke="#000" stroke-width="1.5"/>
<circle cx="558.0" cy="363.0" r="5.55" fill="#7394cc" fill-opacity="0.87" stroke="#000" stroke-width="1.5"/>
<circle cx="431.7" cy="363.1" r="5.55" fill="#7394cc" fill-opacity="0.87" stroke="#000" stroke-width="1.5"/>
<circle cx="515.1" cy="363.1" r="5.55" fill="#7394cc" fill-opacity="0.87" stroke="#000" stroke-width="1.5"/>
<circle cx="365.2" cy="363.2" r="5.55" fill="#7394cc" fill-opacity="0.87" stroke="#000" stroke-width="1.5"/>
<circle cx="515.1" cy="363.2" r="5.55" fill="#7394cc" fill-opacity="0.87" stroke="#000" stroke-width="1.5"/>
<circle cx="329.8" cy="363.3" r="5.55" fill="#7394cc" fill-opacity="0.87" stroke="#000" stroke-width="1.5"/>
<circle cx="321.7" cy="363.4" r="5.55" fill="#7394cc" fill-opacity="0.87" stroke="#000" stroke-width="1.5"/>
<circle cx="394.9" cy="363.4" r="5.55" fill="#7394cc" fill-opacity="0.87" stroke="#000" stroke-width="1.5"/>
<circle cx="356.6" cy="363.5" r="5.55" fill="#7394cc" fill-opacity="0.87" stroke="#000" stroke-width="1.5"/>
<circle cx="441.9" cy="363.6" r="5.55" fill="#7394cc" fill-opacity="0.87" stroke="#000" stroke-width="1.5"/>
<circle cx="525.2" cy="363.6" r="5.55" fill="#7394cc" fill-opacity="0.87" stroke="#000" stroke-width="1.5"/>
<circle cx="329.8" cy="363.7" r="5.55" fill="#7394cc" fill-opacity="0.87" stroke="#000" stroke-width="1.5"/>
<circle cx="384.8" cy="363.7" r="5.55" fill="#7394cc" fill-opacity="0.87" stroke="#000" stroke-width="1.5"/>
<circle cx="404.1" cy="363.8" r="5.55" fill="#7394cc" fill-opacity="0.87" stroke="#000" stroke-width="1.5"/>
<circle cx="347.9" cy="363.9" r="5.55" fill="#7394cc" fill-opacity="0.87" stroke="#000" stroke-width="1.5"/>
<circle cx="312.1" cy="364.0" r="5.55" fill="#7394cc" fill-opacity="0.87" stroke="#000" stroke-width="1.5"/>
<circle cx="321.7" cy="364.0" r="5.55" fill="#7394cc" fill-opacity="0.87" stroke="#000" stroke-width="1.5"/>
<circle cx="351.7" cy="364.0" r="5.55" fill="#7394cc" fill-opacity="0.87" stroke="#000" stroke-width="1.5"/>
<circle cx="375.7" cy="364.1" r="5.55" fill="#7394cc" fill-opacity="0.87" stroke="#000" stroke-width="1.5"/>
<circle cx="337.9" cy="364.3" r="5.55" fill="#7394cc" fill-opacity="0.87" stroke="#000" stroke-width="1.5"/>
<circle cx="365.2" cy="364.3" r="5.55" fill="#7394cc" fill-opacity="0.87" stroke="#000" stroke-width="1.5"/>
<circle cx="321.7" cy="364.5" r="5.55" fill="#7394cc" fill-opacity="0.87" stroke="#000" stroke-width="1.5"/>
<circle cx="384.8" cy="364.5" r="5.55" fill="#7394cc" fill-opacity="0.87" stroke="#000" stroke-width="1.5"/>
<circle cx="356.6" cy="364.7" r="5.55" fill="#7394cc" fill-opacity="0.87" stroke="#000" stroke-width="1.5"/>
<circle cx="329.8" cy="364.8" r="5.55" fill="#7394cc" fill-opacity="0.87" stroke="#000" stroke-width="1.5"/>
<circle cx="356.6" cy="365.0" r="5.55" fill="#7394cc" fill-opacity="0.87" stroke="#000" stroke-width="1.5"/>
<circle cx="329.8" cy="365.1" r="5.55" fill="#7394cc" fill-opacity="0.87" stroke="#000" stroke-width="1.5"/>
<circle cx="321.7" cy="365.2" r="5.55" fill="#7394cc" fill-opacity="0.87" stroke="#000" stroke-width="1.5"/>
<circle cx="329.8" cy="365.5" r="5.55" fill="#7394cc" fill-opacity="0.87" stroke="#000" stroke-width="1.5"/>
<circle cx="439.9" cy="365.5" r="5.55" fill="#7394cc" fill-opacity="0.87" stroke="#000" stroke-width="1.5"/>
<circle cx="329.8" cy="365.7" r="5.55" fill="#7394cc" fill-opacity="0.87" stroke="#000" stroke-width="1.5"/>
<circle cx="329.8" cy="366.0" r="5.55" fill="#7394cc" fill-opacity="0.87" stroke="#000" stroke-width="1.5"/>
<circle cx="337.9" cy="366.1" r="5.55" fill="#7394cc" fill-opacity="0.87" stroke="#000" stroke-width="1.5"/>
<circle cx="413.7" cy="366.1" r="5.55" fill="#7394cc" fill-opacity="0.87" stroke="#000" stroke-width="1.5"/>
<circle cx="392.6" cy="366.1" r="5.55" fill="#7394cc" fill-opacity="0.87" stroke="#000" stroke-width="1.5"/>
<circle cx="404.9" cy="366.1" r="5.55" fill="#7394cc" fill-opacity="0.87" stroke="#000" stroke-width="1.5"/>
<circle cx="312.1" cy="366.6" r="5.55" fill="#7394cc" fill-opacity="0.87" stroke="#000" stroke-width="1.5"/>
<circle cx="358.1" cy="366.6" r="5.55" fill="#7394cc" fill-opacity="0.87" stroke="#000" stroke-width="1.5"/>
<circle cx="329.8" cy="366.9" r="5.55" fill="#7394cc" fill-opacity="0.87" stroke="#000" stroke-width="1.5"/>
<circle cx="337.9" cy="367.0" r="5.55" fill="#7394cc" fill-opacity="0.87" stroke="#000" stroke-width="1.5"/>
<circle cx="347.9" cy="367.0" r="5.55" fill="#7394cc" fill-opacity="0.87" stroke="#000" stroke-width="1.5"/>
<circle cx="394.9" cy="367.2" r="5.55" fill="#7394cc" fill-opacity="0.87" stroke="#000" stroke-width="1.5"/>
<circle cx="329.8" cy="367.3" r="5.55" fill="#7394cc" fill-opacity="0.87" stroke="#000" stroke-width="1.5"/>
<circle cx="329.8" cy="367.4" r="5.55" fill="#7394cc" fill-opacity="0.87" stroke="#000" stroke-width="1.5"/>
<circle cx="356.6" cy="367.5" r="5.55" fill="#7394cc" fill-opacity="0.87" stroke="#000" stroke-width="1.5"/>
<circle cx="375.7" cy="367.6" r="5.55" fill="#7394cc" fill-opacity="0.87" stroke="#000" stroke-width="1.5"/>
<circle cx="329.8" cy="368.0" r="5.55" fill="#7394cc" fill-opacity="0.87" stroke="#000" stroke-width="1.5"/>
<circle cx="321.7" cy="368.5" r="5.55" fill="#7394cc" fill-opacity="0.87" stroke="#000" stroke-width="1.5"/>
<circle cx="312.1" cy="368.9" r="5.55" fill="#7394cc" fill-opacity="0.87" stroke="#000" stroke-width="1.5"/>
<circle cx="473.6" cy="369.6" r="5.55" fill="#7394cc" fill-opacity="0.87" stroke="#000" stroke-width="1.5"/>
<circle cx="382.6" cy="369.6" r="5.55" fill="#7394cc" fill-opacity="0.87" stroke="#000" stroke-width="1.5"/>
<circle cx="395.9" cy="369.6" r="5.55" fill="#7394cc" fill-opacity="0.87" stroke="#000" stroke-width="1.5"/>
<circle cx="321.7" cy="369.9" r="5.55" fill="#7394cc" fill-opacity="0.87" stroke="#000" stroke-width="1.5"/>
<circle cx="312.1" cy="370.0" r="5.55" fill="#7394cc" fill-opacity="0.87" stroke="#000" stroke-width="1.5"/>
<circle cx="312.1" cy="370.1" r="5.55" fill="#7394cc" fill-opacity="0.87" stroke="#000" stroke-width="1.5"/>
<circle cx="368.1" cy="370.1" r="5.55" fill="#7394cc" fill-opacity="0.87" stroke="#000" stroke-width="1.5"/>
<circle cx="355.8" cy="370.1" r="5.55" fill="#7394cc" fill-opacity="0.87" stroke="#000" stroke-width="1.5"/>
<circle cx="337.4" cy="370.1" r="5.55" fill="#7394cc" fill-opacity="0.87" stroke="#000" stroke-width="1.5"/>
<circle cx="312.1" cy="370.5" r="5.55" fill="#7394cc" fill-opacity="0.87" stroke="#000" stroke-width="1.5"/>
<circle cx="352.0" cy="370.7" r="5.55" fill="#7394cc" fill-opacity="0.87" stroke="#000" stroke-width="1.5"/>
<circle cx="369.3" cy="370.7" r="5.55" fill="#7394cc" fill-opacity="0.87" stroke="#000" stroke-width="1.5"/>
<circle cx="312.1" cy="372.0" r="5.55" fill="#7394cc" fill-opacity="0.87" stroke="#000" stroke-width="1.5"/>
<circle cx="321.7" cy="373.3" r="5.55" fill="#7394cc" fill-opacity="0.87" stroke="#000" stroke-width="1.5"/>
<circle cx="321.7" cy="373.4" r="5.55" fill="#7394cc" fill-opacity="0.87" stroke="#000" stroke-width="1.5"/>
<circle cx="321.7" cy="374.0" r="5.55" fill="#7394cc" fill-opacity="0.87" stroke="#000" stroke-width="1.5"/>
<circle cx="312.1" cy="374.3" r="5.55" fill="#7394cc" fill-opacity="0.87" stroke="#000" stroke-width="1.5"/>
<circle cx="312.1" cy="374.5" r="5.55" fill="#7394cc" fill-opacity="0.87" stroke="#000" stroke-width="1.5"/>
<circle cx="312.1" cy="374.5" r="5.55" fill="#7394cc" fill-opacity="0.87" stroke="#000" stroke-width="1.5"/>
<circle cx="321.7" cy="374.6" r="5.55" fill="#7394cc" fill-opacity="0.87" stroke="#000" stroke-width="1.5"/>
<circle cx="335.6" cy="374.7" r="5.55" fill="#7394cc" fill-opacity="0.87" stroke="#000" stroke-width="1.5"/>
<circle cx="321.7" cy="375.5" r="5.55" fill="#7394cc" fill-opacity="0.87" stroke="#000" stroke-width="1.5"/>
<circle cx="312.1" cy="376.2" r="5.55" fill="#7394cc" fill-opacity="0.87" stroke="#000" stroke-width="1.5"/>
<circle cx="312.1" cy="376.5" r="5.55" fill="#7394cc" fill-opacity="0.87" stroke="#000" stroke-width="1.5"/>
<circle cx="321.7" cy="377.0" r="5.55" fill="#7394cc" fill-opacity="0.87" stroke="#000" stroke-width="1.5"/>
<circle cx="312.1" cy="377.5" r="5.55" fill="#7394cc" fill-opacity="0.87" stroke="#000" stroke-width="1.5"/>
<circle cx="302.6" cy="377.9" r="5.55" fill="#7394cc" fill-opacity="0.87" stroke="#000" stroke-width="1.5"/>
<circle cx="312.1" cy="378.6" r="5.55" fill="#7394cc" fill-opacity="0.87" stroke="#000" stroke-width="1.5"/>
<circle cx="302.6" cy="379.3" r="5.55" fill="#7394cc" fill-opacity="0.87" stroke="#000" stroke-width="1.5"/>
<circle cx="302.6" cy="379.4" r="5.55" fill="#7394cc" fill-opacity="0.87" stroke="#000" stroke-width="1.5"/>
<circle cx="302.6" cy="379.9" r="5.55" fill="#7394cc" fill-opacity="0.87" stroke="#000" stroke-width="1.5"/>
<circle cx="293.7" cy="380.8" r="5.55" fill="#7394cc" fill-opacity="0.87" stroke="#000" stroke-width="1.5"/>
<circle cx="302.6" cy="380.9" r="5.55" fill="#7394cc" fill-opacity="0.87" stroke="#000" stroke-width="1.5"/>
<circle cx="302.6" cy="380.9" r="5.55" fill="#7394cc" fill-opacity="0.87" stroke="#000" stroke-width="1.5"/>
<circle cx="312.1" cy="380.9" r="5.55" fill="#7394cc" fill-opacity="0.87" stroke="#000" stroke-width="1.5"/>
<circle cx="340.7" cy="380.9" r="5.55" fill="#7394cc" fill-opacity="0.87" stroke="#000" stroke-width="1.5"/>
<circle cx="293.7" cy="381.8" r="5.55" fill="#7394cc" fill-opacity="0.87" stroke="#000" stroke-width="1.5"/>
<circle cx="302.6" cy="381.9" r="5.55" fill="#7394cc" fill-opacity="0.87" stroke="#000" stroke-width="1.5"/>
<circle cx="302.6" cy="382.2" r="5.55" fill="#7394cc" fill-opacity="0.87" stroke="#000" stroke-width="1.5"/>
<circle cx="312.1" cy="382.3" r="5.55" fill="#7394cc" fill-opacity="0.87" stroke="#000" stroke-width="1.5"/>
<circle cx="321.3" cy="382.9" r="5.55" fill="#7394cc" fill-opacity="0.87" stroke="#000" stroke-width="1.5"/>
<circle cx="293.7" cy="383.1" r="5.55" fill="#7394cc" fill-opacity="0.87" stroke="#000" stroke-width="1.5"/>
<circle cx="302.6" cy="384.2" r="5.55" fill="#7394cc" fill-opacity="0.87" stroke="#000" stroke-width="1.5"/>
<circle cx="302.6" cy="384.3" r="5.55" fill="#7394cc" fill-opacity="0.87" stroke="#000" stroke-width="1.5"/>
<circle cx="293.7" cy="384.4" r="5.55" fill="#7394cc" fill-opacity="0.87" stroke="#000" stroke-width="1.5"/>
<circle cx="302.6" cy="384.4" r="5.55" fill="#7394cc" fill-opacity="0.87" stroke="#000" stroke-width="1.5"/>
<circle cx="312.1" cy="384.5" r="5.55" fill="#7394cc" fill-opacity="0.87" stroke="#000" stroke-width="1.5"/>
<circle cx="302.6" cy="385.3" r="5.55" fill="#7394cc" fill-opacity="0.87" stroke="#000" stroke-width="1.5"/>
<circle cx="293.7" cy="386.3" r="5.55" fill="#7394cc" fill-opacity="0.87" stroke="#000" stroke-width="1.5"/>
<circle cx="325.4" cy="387.0" r="5.55" fill="#7394cc" fill-opacity="0.87" stroke="#000" stroke-width="1.5"/>
<circle cx="302.6" cy="387.9" r="5.55" fill="#7394cc" fill-opacity="0.87" stroke="#000" stroke-width="1.5"/>
<circle cx="293.7" cy="388.2" r="5.55" fill="#7394cc" fill-opacity="0.87" stroke="#000" stroke-width="1.5"/>
<circle cx="302.6" cy="388.2" r="5.55" fill="#7394cc" fill-opacity="0.87" stroke="#000" stroke-width="1.5"/>
<circle cx="302.6" cy="388.2" r="5.55" fill="#7394cc" fill-opacity="0.87" stroke="#000" stroke-width="1.5"/>
<circle cx="293.7" cy="389.0" r="5.55" fill="#7394cc" fill-opacity="0.87" stroke="#000" stroke-width="1.5"/>
<circle cx="310.1" cy="389.0" r="5.55" fill="#7394cc" fill-opacity="0.87" stroke="#000" stroke-width="1.5"/>
<circle cx="317.2" cy="389.0" r="5.55" fill="#7394cc" fill-opacity="0.87" stroke="#000" stroke-width="1.5"/>
<circle cx="293.7" cy="389.6" r="5.55" fill="#7394cc" fill-opacity="0.87" stroke="#000" stroke-width="1.5"/>
<circle cx="302.6" cy="389.7" r="5.55" fill="#7394cc" fill-opacity="0.87" stroke="#000" stroke-width="1.5"/>
<circle cx="302.6" cy="390.0" r="5.55" fill="#7394cc" fill-opacity="0.87" stroke="#000" stroke-width="1.5"/>
<circle cx="331.5" cy="390.1" r="5.55" fill="#7394cc" fill-opacity="0.87" stroke="#000" stroke-width="1.5"/>
<circle cx="284.3" cy="390.3" r="5.55" fill="#7394cc" fill-opacity="0.87" stroke="#000" stroke-width="1.5"/>
<circle cx="293.7" cy="390.9" r="5.55" fill="#7394cc" fill-opacity="0.87" stroke="#000" stroke-width="1.5"/>
<circle cx="284.3" cy="392.5" r="5.55" fill="#7394cc" fill-opacity="0.87" stroke="#000" stroke-width="1.5"/>
<circle cx="302.6" cy="392.6" r="5.55" fill="#7394cc" fill-opacity="0.87" stroke="#000" stroke-width="1.5"/>
<circle cx="284.3" cy="392.9" r="5.55" fill="#7394cc" fill-opacity="0.87" stroke="#000" stroke-width="1.5"/>
<circle cx="293.7" cy="393.6" r="5.55" fill="#7394cc" fill-opacity="0.87" stroke="#000" stroke-width="1.5"/>
<circle cx="293.7" cy="393.8" r="5.55" fill="#7394cc" fill-opacity="0.87" stroke="#000" stroke-width="1.5"/>
<circle cx="302.6" cy="394.0" r="5.55" fill="#7394cc" fill-opacity="0.87" stroke="#000" stroke-width="1.5"/>
<circle cx="293.7" cy="394.4" r="5.55" fill="#7394cc" fill-opacity="0.87" stroke="#000" stroke-width="1.5"/>
<circle cx="284.3" cy="395.0" r="5.55" fill="#7394cc" fill-opacity="0.87" stroke="#000" stroke-width="1.5"/>
<circle cx="296.8" cy="395.2" r="5.55" fill="#7394cc" fill-opacity="0.87" stroke="#000" stroke-width="1.5"/>
<circle cx="293.7" cy="395.4" r="5.55" fill="#7394cc" fill-opacity="0.87" stroke="#000" stroke-width="1.5"/>
<circle cx="293.7" cy="395.6" r="5.55" fill="#7394cc" fill-opacity="0.87" stroke="#000" stroke-width="1.5"/>
<circle cx="284.3" cy="395.8" r="5.55" fill="#7394cc" fill-opacity="0.87" stroke="#000" stroke-width="1.5"/>
<circle cx="284.3" cy="396.1" r="5.55" fill="#7394cc" fill-opacity="0.87" stroke="#000" stroke-width="1.5"/>
<circle cx="293.7" cy="396.5" r="5.55" fill="#7394cc" fill-opacity="0.87" stroke="#000" stroke-width="1.5"/>
<circle cx="284.3" cy="396.8" r="5.55" fill="#7394cc" fill-opacity="0.87" stroke="#000" stroke-width="1.5"/>
<circle cx="284.3" cy="396.8" r="5.55" fill="#7394cc" fill-opacity="0.87" stroke="#000" stroke-width="1.5"/>
<circle cx="284.3" cy="396.9" r="5.55" fill="#7394cc" fill-opacity="0.87" stroke="#000" stroke-width="1.5"/>
<circle cx="293.7" cy="398.1" r="5.55" fill="#7394cc" fill-opacity="0.87" stroke="#000" stroke-width="1.5"/>
<circle cx="293.7" cy="398.6" r="5.55" fill="#7394cc" fill-opacity="0.87" stroke="#000" stroke-width="1.5"/>
<circle cx="284.3" cy="398.8" r="5.55" fill="#7394cc" fill-opacity="0.87" stroke="#000" stroke-width="1.5"/>
<circle cx="290.7" cy="399.3" r="5.55" fill="#7394cc" fill-opacity="0.87" stroke="#000" stroke-width="1.5"/>
<circle cx="284.3" cy="399.9" r="5.55" fill="#7394cc" fill-opacity="0.87" stroke="#000" stroke-width="1.5"/>
<circle cx="284.3" cy="399.9" r="5.55" fill="#7394cc" fill-opacity="0.87" stroke="#000" stroke-width="1.5"/>
<circle cx="275.7" cy="400.2" r="5.55" fill="#7394cc" fill-opacity="0.87" stroke="#000" stroke-width="1.5"/>
<circle cx="293.7" cy="400.6" r="5.55" fill="#7394cc" fill-opacity="0.87" stroke="#000" stroke-width="1.5"/>
<circle cx="275.7" cy="400.9" r="5.55" fill="#7394cc" fill-opacity="0.87" stroke="#000" stroke-width="1.5"/>
<circle cx="285.5" cy="401.3" r="5.55" fill="#7394cc" fill-opacity="0.87" stroke="#000" stroke-width="1.5"/>
<circle cx="284.3" cy="401.6" r="5.55" fill="#7394cc" fill-opacity="0.87" stroke="#000" stroke-width="1.5"/>
<circle cx="293.7" cy="401.6" r="5.55" fill="#7394cc" fill-opacity="0.87" stroke="#000" stroke-width="1.5"/>
<circle cx="275.7" cy="403.7" r="5.55" fill="#7394cc" fill-opacity="0.87" stroke="#000" stroke-width="1.5"/>
<circle cx="275.7" cy="404.9" r="5.55" fill="#7394cc" fill-opacity="0.87" stroke="#000" stroke-width="1.5"/>
<circle cx="275.7" cy="404.9" r="5.55" fill="#7394cc" fill-opacity="0.87" stroke="#000" stroke-width="1.5"/>
<circle cx="284.3" cy="405.2" r="5.55" fill="#7394cc" fill-opacity="0.87" stroke="#000" stroke-width="1.5"/>
<circle cx="284.3" cy="406.3" r="5.55" fill="#7394cc" fill-opacity="0.87" stroke="#000" stroke-width="1.5"/>
<circle cx="275.7" cy="407.8" r="5.55" fill="#7394cc" fill-opacity="0.87" stroke="#000" stroke-width="1.5"/>
<circle cx="275.7" cy="408.0" r="5.55" fill="#7394cc" fill-opacity="0.87" stroke="#000" stroke-width="1.5"/>
<circle cx="284.3" cy="408.5" r="5.55" fill="#7394cc" fill-opacity="0.87" stroke="#000" stroke-width="1.5"/>
<circle cx="284.3" cy="408.6" r="5.55" fill="#7394cc" fill-opacity="0.87" stroke="#000" stroke-width="1.5"/>
<circle cx="275.7" cy="408.7" r="5.55" fill="#7394cc" fill-opacity="0.87" stroke="#000" stroke-width="1.5"/>
<circle cx="284.3" cy="409.4" r="5.55" fill="#7394cc" fill-opacity="0.87" stroke="#000" stroke-width="1.5"/>
<circle cx="275.7" cy="409.8" r="5.55" fill="#7394cc" fill-opacity="0.87" stroke="#000" stroke-width="1.5"/>
<circle cx="275.7" cy="410.1" r="5.55" fill="#7394cc" fill-opacity="0.87" stroke="#000" stroke-width="1.5"/>
<circle cx="275.7" cy="414.2" r="5.55" fill="#7394cc" fill-opacity="0.87" stroke="#000" stroke-width="1.5"/>
<circle cx="275.7" cy="414.5" r="5.55" fill="#7394cc" fill-opacity="0.87" stroke="#000" stroke-width="1.5"/>
<circle cx="275.7" cy="414.8" r="5.55" fill="#7394cc" fill-opacity="0.87" stroke="#000" stroke-width="1.5"/>
<circle cx="275.7" cy="415.1" r="5.55" fill="#7394cc" fill-opacity="0.87" stroke="#000" stroke-width="1.5"/>
<circle cx="275.7" cy="415.4" r="5.55" fill="#7394cc" fill-opacity="0.87" stroke="#000" stroke-width="1.5"/>
<circle cx="275.7" cy="416.4" r="5.55" fill="#7394cc" fill-opacity="0.87" stroke="#000" stroke-width="1.5"/>
<circle cx="275.7" cy="416.9" r="5.55" fill="#7394cc" fill-opacity="0.87" stroke="#000" stroke-width="1.5"/>
<circle cx="275.7" cy="419.2" r="5.55" fill="#7394cc" fill-opacity="0.87" stroke="#000" stroke-width="1.5"/>
<circle cx="436.0" cy="240.9" r="5.55" fill="#e1974e" fill-opacity="0.87" stroke="#000" stroke-width="1.5"/>
<circle cx="436.1" cy="241.6" r="5.55" fill="#e1974e" fill-opacity="0.87" stroke="#000" stroke-width="1.5"/>
<circle cx="430.7" cy="314.5" r="5.55" fill="#e1974e" fill-opacity="0.87" stroke="#000" stroke-width="1.5"/>
<circle cx="427.9" cy="315.1" r="5.55" fill="#e1974e" fill-opacity="0.87" stroke="#000" stroke-width="1.5"/>
<circle cx="462.6" cy="315.1" r="5.55" fill="#e1974e" fill-opacity="0.87" stroke="#000" stroke-width="1.5"/>
<circle cx="461.3" cy="315.5" r="5.55" fill="#e1974e" fill-opacity="0.87" stroke="#000" stroke-width="1.5"/>
<circle cx="502.2" cy="316.6" r="5.55" fill="#e1974e" fill-opacity="0.87" stroke="#000" stroke-width="1.5"/>
<circle cx="485.8" cy="317.6" r="5.55" fill="#e1974e" fill-opacity="0.87" stroke="#000" stroke-width="1.5"/>
<circle cx="441.9" cy="318.1" r="5.55" fill="#e1974e" fill-opacity="0.87" stroke="#000" stroke-width="1.5"/>
<circle cx="461.0" cy="318.1" r="5.55" fill="#e1974e" fill-opacity="0.87" stroke="#000" stroke-width="1.5"/>
<circle cx="488.8" cy="318.2" r="5.55" fill="#e1974e" fill-opacity="0.87" stroke="#000" stroke-width="1.5"/>
<circle cx="451.2" cy="318.3" r="5.55" fill="#e1974e" fill-opacity="0.87" stroke="#000" stroke-width="1.5"/>
<circle cx="498.2" cy="318.3" r="5.55" fill="#e1974e" fill-opacity="0.87" stroke="#000" stroke-width="1.5"/>
<circle cx="478.9" cy="318.4" r="5.55" fill="#e1974e" fill-opacity="0.87" stroke="#000" stroke-width="1.5"/>
<circle cx="413.7" cy="318.5" r="5.55" fill="#e1974e" fill-opacity="0.87" stroke="#000" stroke-width="1.5"/>
<circle cx="422.1" cy="318.5" r="5.55" fill="#e1974e" fill-opacity="0.87" stroke="#000" stroke-width="1.5"/>
<circle cx="533.9" cy="318.6" r="5.55" fill="#e1974e" fill-opacity="0.87" stroke="#000" stroke-width="1.5"/>
<circle cx="384.8" cy="318.9" r="5.55" fill="#e1974e" fill-opacity="0.87" stroke="#000" stroke-width="1.5"/>
<circle cx="422.1" cy="318.9" r="5.55" fill="#e1974e" fill-opacity="0.87" stroke="#000" stroke-width="1.5"/>
<circle cx="461.0" cy="319.0" r="5.55" fill="#e1974e" fill-opacity="0.87" stroke="#000" stroke-width="1.5"/>
<circle cx="394.9" cy="319.1" r="5.55" fill="#e1974e" fill-opacity="0.87" stroke="#000" stroke-width="1.5"/>
<circle cx="461.0" cy="319.4" r="5.55" fill="#e1974e" fill-opacity="0.87" stroke="#000" stroke-width="1.5"/>
<circle cx="498.2" cy="319.5" r="5.55" fill="#e1974e" fill-opacity="0.87" stroke="#000" stroke-width="1.5"/>
<circle cx="394.9" cy="319.7" r="5.55" fill="#e1974e" fill-opacity="0.87" stroke="#000" stroke-width="1.5"/>
<circle cx="470.7" cy="319.7" r="5.55" fill="#e1974e" fill-opacity="0.87" stroke="#000" stroke-width="1.5"/>
<circle cx="515.1" cy="320.1" r="5.55" fill="#e1974e" fill-opacity="0.87" stroke="#000" stroke-width="1.5"/>
<circle cx="384.8" cy="320.2" r="5.55" fill="#e1974e" fill-opacity="0.87" stroke="#000" stroke-width="1.5"/>
<circle cx="394.9" cy="320.3" r="5.55" fill="#e1974e" fill-opacity="0.87" stroke="#000" stroke-width="1.5"/>
<circle cx="422.1" cy="320.3" r="5.55" fill="#e1974e" fill-opacity="0.87" stroke="#000" stroke-width="1.5"/>
<circle cx="404.1" cy="320.4" r="5.55" fill="#e1974e" fill-opacity="0.87" stroke="#000" stroke-width="1.5"/>
<circle cx="431.7" cy="320.5" r="5.55" fill="#e1974e" fill-opacity="0.87" stroke="#000" stroke-width="1.5"/>
<circle cx="470.7" cy="320.5" r="5.55" fill="#e1974e" fill-opacity="0.87" stroke="#000" stroke-width="1.5"/>
<circle cx="478.9" cy="320.5" r="5.55" fill="#e1974e" fill-opacity="0.87" stroke="#000" stroke-width="1.5"/>
<circle cx="415.3" cy="320.7" r="5.55" fill="#e1974e" fill-opacity="0.87" stroke="#000" stroke-width="1.5"/>
<circle cx="649.0" cy="320.7" r="5.55" fill="#e1974e" fill-opacity="0.87" stroke="#000" stroke-width="1.5"/>
<circle cx="498.2" cy="320.9" r="5.55" fill="#e1974e" fill-opacity="0.87" stroke="#000" stroke-width="1.5"/>
<circle cx="404.1" cy="321.1" r="5.55" fill="#e1974e" fill-opacity="0.87" stroke="#000" stroke-width="1.5"/>
<circle cx="394.9" cy="321.2" r="5.55" fill="#e1974e" fill-opacity="0.87" stroke="#000" stroke-width="1.5"/>
<circle cx="488.8" cy="321.3" r="5.55" fill="#e1974e" fill-opacity="0.87" stroke="#000" stroke-width="1.5"/>
<circle cx="375.7" cy="321.4" r="5.55" fill="#e1974e" fill-opacity="0.87" stroke="#000" stroke-width="1.5"/>
<circle cx="404.1" cy="321.4" r="5.55" fill="#e1974e" fill-opacity="0.87" stroke="#000" stroke-width="1.5"/>
<circle cx="515.1" cy="321.4" r="5.55" fill="#e1974e" fill-opacity="0.87" stroke="#000" stroke-width="1.5"/>
<circle cx="525.2" cy="321.4" r="5.55" fill="#e1974e" fill-opacity="0.87" stroke="#000" stroke-width="1.5"/>
<circle cx="394.9" cy="321.6" r="5.55" fill="#e1974e" fill-opacity="0.87" stroke="#000" stroke-width="1.5"/>
<circle cx="404.1" cy="321.7" r="5.55" fill="#e1974e" fill-opacity="0.87" stroke="#000" stroke-width="1.5"/>
<circle cx="451.2" cy="321.8" r="5.55" fill="#e1974e" fill-opacity="0.87" stroke="#000" stroke-width="1.5"/>
<circle cx="551.6" cy="321.8" r="5.55" fill="#e1974e" fill-opacity="0.87" stroke="#000" stroke-width="1.5"/>
<circle cx="441.9" cy="322.0" r="5.55" fill="#e1974e" fill-opacity="0.87" stroke="#000" stroke-width="1.5"/>
<circle cx="394.9" cy="322.3" r="5.55" fill="#e1974e" fill-opacity="0.87" stroke="#000" stroke-width="1.5"/>
<circle cx="413.7" cy="322.4" r="5.55" fill="#e1974e" fill-opacity="0.87" stroke="#000" stroke-width="1.5"/>
<circle cx="375.7" cy="322.6" r="5.55" fill="#e1974e" fill-opacity="0.87" stroke="#000" stroke-width="1.5"/>
<circle cx="525.2" cy="322.6" r="5.55" fill="#e1974e" fill-opacity="0.87" stroke="#000" stroke-width="1.5"/>
<circle cx="422.1" cy="322.7" r="5.55" fill="#e1974e" fill-opacity="0.87" stroke="#000" stroke-width="1.5"/>
<circle cx="384.8" cy="322.8" r="5.55" fill="#e1974e" fill-opacity="0.87" stroke="#000" stroke-width="1.5"/>
<circle cx="478.9" cy="322.8" r="5.55" fill="#e1974e" fill-opacity="0.87" stroke="#000" stroke-width="1.5"/>
<circle cx="488.8" cy="323.3" r="5.55" fill="#e1974e" fill-opacity="0.87" stroke="#000" stroke-width="1.5"/>
<circle cx="384.8" cy="323.4" r="5.55" fill="#e1974e" fill-opacity="0.87" stroke="#000" stroke-width="1.5"/>
<circle cx="498.2" cy="323.4" r="5.55" fill="#e1974e" fill-opacity="0.87" stroke="#000" stroke-width="1.5"/>
<circle cx="470.7" cy="323.5" r="5.55" fill="#e1974e" fill-opacity="0.87" stroke="#000" stroke-width="1.5"/>
<circle cx="470.7" cy="323.7" r="5.55" fill="#e1974e" fill-opacity="0.87" stroke="#000" stroke-width="1.5"/>
<circle cx="476.6" cy="323.7" r="5.55" fill="#e1974e" fill-opacity="0.87" stroke="#000" stroke-width="1.5"/>
<circle cx="375.7" cy="323.9" r="5.55" fill="#e1974e" fill-opacity="0.87" stroke="#000" stroke-width="1.5"/>
<circle cx="384.8" cy="323.9" r="5.55" fill="#e1974e" fill-opacity="0.87" stroke="#000" stroke-width="1.5"/>
<circle cx="404.1" cy="323.9" r="5.55" fill="#e1974e" fill-opacity="0.87" stroke="#000" stroke-width="1.5"/>
<circle cx="441.9" cy="323.9" r="5.55" fill="#e1974e" fill-opacity="0.87" stroke="#000" stroke-width="1.5"/>
<circle cx="553.8" cy="323.9" r="5.55" fill="#e1974e" fill-opacity="0.87" stroke="#000" stroke-width="1.5"/>
<circle cx="384.8" cy="324.1" r="5.55" fill="#e1974e" fill-opacity="0.87" stroke="#000" stroke-width="1.5"/>
<circle cx="375.7" cy="324.2" r="5.55" fill="#e1974e" fill-opacity="0.87" stroke="#000" stroke-width="1.5"/>
<circle cx="431.7" cy="324.2" r="5.55" fill="#e1974e" fill-opacity="0.87" stroke="#000" stroke-width="1.5"/>
<circle cx="525.2" cy="324.4" r="5.55" fill="#e1974e" fill-opacity="0.87" stroke="#000" stroke-width="1.5"/>
<circle cx="384.8" cy="324.5" r="5.55" fill="#e1974e" fill-opacity="0.87" stroke="#000" stroke-width="1.5"/>
<circle cx="605.6" cy="324.5" r="5.55" fill="#e1974e" fill-opacity="0.87" stroke="#000" stroke-width="1.5"/>
<circle cx="365.2" cy="324.8" r="5.55" fill="#e1974e" fill-opacity="0.87" stroke="#000" stroke-width="1.5"/>
<circle cx="461.0" cy="324.8" r="5.55" fill="#e1974e" fill-opacity="0.87" stroke="#000" stroke-width="1.5"/>
<circle cx="525.2" cy="324.9" r="5.55" fill="#e1974e" fill-opacity="0.87" stroke="#000" stroke-width="1.5"/>
<circle cx="431.7" cy="325.1" r="5.55" fill="#e1974e" fill-opacity="0.87" stroke="#000" stroke-width="1.5"/>
<circle cx="461.0" cy="325.1" r="5.55" fill="#e1974e" fill-opacity="0.87" stroke="#000" stroke-width="1.5"/>
<circle cx="422.1" cy="325.2" r="5.55" fill="#e1974e" fill-opacity="0.87" stroke="#000" stroke-width="1.5"/>
<circle cx="507.0" cy="325.3" r="5.55" fill="#e1974e" fill-opacity="0.87" stroke="#000" stroke-width="1.5"/>
<circle cx="375.7" cy="325.5" r="5.55" fill="#e1974e" fill-opacity="0.87" stroke="#000" stroke-width="1.5"/>
<circle cx="451.2" cy="325.5" r="5.55" fill="#e1974e" fill-opacity="0.87" stroke="#000" stroke-width="1.5"/>
<circle cx="488.8" cy="325.5" r="5.55" fill="#e1974e" fill-opacity="0.87" stroke="#000" stroke-width="1.5"/>
<circle cx="413.7" cy="325.6" r="5.55" fill="#e1974e" fill-opacity="0.87" stroke="#000" stroke-width="1.5"/>
<circle cx="413.7" cy="325.6" r="5.55" fill="#e1974e" fill-opacity="0.87" stroke="#000" stroke-width="1.5"/>
<circle cx="478.9" cy="325.6" r="5.55" fill="#e1974e" fill-opacity="0.87" stroke="#000" stroke-width="1.5"/>
<circle cx="365.2" cy="325.7" r="5.55" fill="#e1974e" fill-opacity="0.87" stroke="#000" stroke-width="1.5"/>
<circle cx="394.9" cy="325.7" r="5.55" fill="#e1974e" fill-opacity="0.87" stroke="#000" stroke-width="1.5"/>
<circle cx="441.9" cy="325.7" r="5.55" fill="#e1974e" fill-opacity="0.87" stroke="#000" stroke-width="1.5"/>
<circle cx="413.7" cy="325.8" r="5.55" fill="#e1974e" fill-opacity="0.87" stroke="#000" stroke-width="1.5"/>
<circle cx="461.0" cy="325.8" r="5.55" fill="#e1974e" fill-opacity="0.87" stroke="#000" stroke-width="1.5"/>
<circle cx="465.4" cy="325.8" r="5.55" fill="#e1974e" fill-opacity="0.87" stroke="#000" stroke-width="1.5"/>
<circle cx="496.1" cy="325.8" r="5.55" fill="#e1974e" fill-opacity="0.87" stroke="#000" stroke-width="1.5"/>
<circle cx="506.3" cy="325.8" r="5.55" fill="#e1974e" fill-opacity="0.87" stroke="#000" stroke-width="1.5"/>
<circle cx="513.4" cy="325.8" r="5.55" fill="#e1974e" fill-opacity="0.87" stroke="#000" stroke-width="1.5"/>
<circle cx="527.7" cy="325.8" r="5.55" fill="#e1974e" fill-opacity="0.87" stroke="#000" stroke-width="1.5"/>
<circle cx="365.2" cy="325.9" r="5.55" fill="#e1974e" fill-opacity="0.87" stroke="#000" stroke-width="1.5"/>
<circle cx="422.1" cy="325.9" r="5.55" fill="#e1974e" fill-opacity="0.87" stroke="#000" stroke-width="1.5"/>
<circle cx="413.7" cy="326.1" r="5.55" fill="#e1974e" fill-opacity="0.87" stroke="#000" stroke-width="1.5"/>
<circle cx="515.1" cy="326.3" r="5.55" fill="#e1974e" fill-opacity="0.87" stroke="#000" stroke-width="1.5"/>
<circle cx="515.1" cy="326.3" r="5.55" fill="#e1974e" fill-opacity="0.87" stroke="#000" stroke-width="1.5"/>
<circle cx="404.1" cy="326.4" r="5.55" fill="#e1974e" fill-opacity="0.87" stroke="#000" stroke-width="1.5"/>
<circle cx="507.0" cy="326.4" r="5.55" fill="#e1974e" fill-opacity="0.87" stroke="#000" stroke-width="1.5"/>
<circle cx="431.7" cy="326.5" r="5.55" fill="#e1974e" fill-opacity="0.87" stroke="#000" stroke-width="1.5"/>
<circle cx="451.1" cy="326.8" r="5.55" fill="#e1974e" fill-opacity="0.87" stroke="#000" stroke-width="1.5"/>
<circle cx="365.2" cy="327.0" r="5.55" fill="#e1974e" fill-opacity="0.87" stroke="#000" stroke-width="1.5"/>
<circle cx="384.8" cy="327.5" r="5.55" fill="#e1974e" fill-opacity="0.87" stroke="#000" stroke-width="1.5"/>
<circle cx="365.2" cy="327.6" r="5.55" fill="#e1974e" fill-opacity="0.87" stroke="#000" stroke-width="1.5"/>
<circle cx="441.9" cy="327.6" r="5.55" fill="#e1974e" fill-opacity="0.87" stroke="#000" stroke-width="1.5"/>
<circle cx="566.5" cy="327.7" r="5.55" fill="#e1974e" fill-opacity="0.87" stroke="#000" stroke-width="1.5"/>
<circle cx="451.2" cy="327.8" r="5.55" fill="#e1974e" fill-opacity="0.87" stroke="#000" stroke-width="1.5"/>
<circle cx="375.7" cy="327.9" r="5.55" fill="#e1974e" fill-opacity="0.87" stroke="#000" stroke-width="1.5"/>
<circle cx="507.0" cy="327.9" r="5.55" fill="#e1974e" fill-opacity="0.87" stroke="#000" stroke-width="1.5"/>
<circle cx="431.7" cy="328.1" r="5.55" fill="#e1974e" fill-opacity="0.87" stroke="#000" stroke-width="1.5"/>
<circle cx="441.9" cy="328.1" r="5.55" fill="#e1974e" fill-opacity="0.87" stroke="#000" stroke-width="1.5"/>
<circle cx="451.2" cy="328.1" r="5.55" fill="#e1974e" fill-opacity="0.87" stroke="#000" stroke-width="1.5"/>
<circle cx="431.7" cy="328.2" r="5.55" fill="#e1974e" fill-opacity="0.87" stroke="#000" stroke-width="1.5"/>
<circle cx="394.9" cy="328.3" r="5.55" fill="#e1974e" fill-opacity="0.87" stroke="#000" stroke-width="1.5"/>
<circle cx="507.0" cy="328.4" r="5.55" fill="#e1974e" fill-opacity="0.87" stroke="#000" stroke-width="1.5"/>
<circle cx="479.7" cy="328.8" r="5.55" fill="#e1974e" fill-opacity="0.87" stroke="#000" stroke-width="1.5"/>
<circle cx="451.2" cy="329.1" r="5.55" fill="#e1974e" fill-opacity="0.87" stroke="#000" stroke-width="1.5"/>
<circle cx="400.8" cy="329.3" r="5.55" fill="#e1974e" fill-opacity="0.87" stroke="#000" stroke-width="1.5"/>
<circle cx="375.7" cy="329.4" r="5.55" fill="#e1974e" fill-opacity="0.87" stroke="#000" stroke-width="1.5"/>
<circle cx="484.8" cy="329.9" r="5.55" fill="#e1974e" fill-opacity="0.87" stroke="#000" stroke-width="1.5"/>
<circle cx="375.7" cy="330.1" r="5.55" fill="#e1974e" fill-opacity="0.87" stroke="#000" stroke-width="1.5"/>
<circle cx="443.9" cy="330.9" r="5.55" fill="#e1974e" fill-opacity="0.87" stroke="#000" stroke-width="1.5"/>
<circle cx="521.6" cy="330.9" r="5.55" fill="#e1974e" fill-opacity="0.87" stroke="#000" stroke-width="1.5"/>
<circle cx="533.9" cy="330.9" r="5.55" fill="#e1974e" fill-opacity="0.87" stroke="#000" stroke-width="1.5"/>
<circle cx="356.6" cy="331.0" r="5.55" fill="#e1974e" fill-opacity="0.87" stroke="#000" stroke-width="1.5"/>
<circle cx="388.5" cy="331.3" r="5.55" fill="#e1974e" fill-opacity="0.87" stroke="#000" stroke-width="1.5"/>
<circle cx="356.6" cy="331.6" r="5.55" fill="#e1974e" fill-opacity="0.87" stroke="#000" stroke-width="1.5"/>
<circle cx="356.6" cy="332.0" r="5.55" fill="#e1974e" fill-opacity="0.87" stroke="#000" stroke-width="1.5"/>
<circle cx="365.2" cy="332.0" r="5.55" fill="#e1974e" fill-opacity="0.87" stroke="#000" stroke-width="1.5"/>
<circle cx="356.6" cy="332.4" r="5.55" fill="#e1974e" fill-opacity="0.87" stroke="#000" stroke-width="1.5"/>
<circle cx="365.2" cy="332.5" r="5.55" fill="#e1974e" fill-opacity="0.87" stroke="#000" stroke-width="1.5"/>
<circle cx="365.2" cy="333.3" r="5.55" fill="#e1974e" fill-opacity="0.87" stroke="#000" stroke-width="1.5"/>
<circle cx="356.6" cy="333.5" r="5.55" fill="#e1974e" fill-opacity="0.87" stroke="#000" stroke-width="1.5"/>
<circle cx="356.6" cy="333.9" r="5.55" fill="#e1974e" fill-opacity="0.87" stroke="#000" stroke-width="1.5"/>
<circle cx="356.6" cy="334.4" r="5.55" fill="#e1974e" fill-opacity="0.87" stroke="#000" stroke-width="1.5"/>
<circle cx="347.9" cy="335.0" r="5.55" fill="#e1974e" fill-opacity="0.87" stroke="#000" stroke-width="1.5"/>
<circle cx="376.3" cy="335.4" r="5.55" fill="#e1974e" fill-opacity="0.87" stroke="#000" stroke-width="1.5"/>
<circle cx="356.6" cy="335.5" r="5.55" fill="#e1974e" fill-opacity="0.87" stroke="#000" stroke-width="1.5"/>
<circle cx="347.9" cy="335.8" r="5.55" fill="#e1974e" fill-opacity="0.87" stroke="#000" stroke-width="1.5"/>
<circle cx="469.5" cy="336.0" r="5.55" fill="#e1974e" fill-opacity="0.87" stroke="#000" stroke-width="1.5"/>
<circle cx="347.9" cy="336.2" r="5.55" fill="#e1974e" fill-opacity="0.87" stroke="#000" stroke-width="1.5"/>
<circle cx="347.9" cy="336.7" r="5.55" fill="#e1974e" fill-opacity="0.87" stroke="#000" stroke-width="1.5"/>
<circle cx="404.1" cy="337.0" r="5.55" fill="#e1974e" fill-opacity="0.87" stroke="#000" stroke-width="1.5"/>
<circle cx="402.8" cy="337.4" r="5.55" fill="#e1974e" fill-opacity="0.87" stroke="#000" stroke-width="1.5"/>
<circle cx="347.9" cy="338.3" r="5.55" fill="#e1974e" fill-opacity="0.87" stroke="#000" stroke-width="1.5"/>
<circle cx="347.9" cy="339.0" r="5.55" fill="#e1974e" fill-opacity="0.87" stroke="#000" stroke-width="1.5"/>
<circle cx="392.6" cy="339.5" r="5.55" fill="#e1974e" fill-opacity="0.87" stroke="#000" stroke-width="1.5"/>
<circle cx="337.9" cy="339.6" r="5.55" fill="#e1974e" fill-opacity="0.87" stroke="#000" stroke-width="1.5"/>
<circle cx="337.9" cy="341.1" r="5.55" fill="#e1974e" fill-opacity="0.87" stroke="#000" stroke-width="1.5"/>
<circle cx="415.3" cy="342.0" r="5.55" fill="#e1974e" fill-opacity="0.87" stroke="#000" stroke-width="1.5"/>
<circle cx="415.3" cy="342.1" r="5.55" fill="#e1974e" fill-opacity="0.87" stroke="#000" stroke-width="1.5"/>
<circle cx="347.9" cy="342.8" r="5.55" fill="#e1974e" fill-opacity="0.87" stroke="#000" stroke-width="1.5"/>
<circle cx="347.9" cy="342.9" r="5.55" fill="#e1974e" fill-opacity="0.87" stroke="#000" stroke-width="1.5"/>
<circle cx="337.9" cy="343.7" r="5.55" fill="#e1974e" fill-opacity="0.87" stroke="#000" stroke-width="1.5"/>
<circle cx="337.9" cy="344.6" r="5.55" fill="#e1974e" fill-opacity="0.87" stroke="#000" stroke-width="1.5"/>
<circle cx="337.9" cy="344.7" r="5.55" fill="#e1974e" fill-opacity="0.87" stroke="#000" stroke-width="1.5"/>
<circle cx="329.8" cy="346.0" r="5.55" fill="#e1974e" fill-opacity="0.87" stroke="#000" stroke-width="1.5"/>
<circle cx="329.8" cy="346.3" r="5.55" fill="#e1974e" fill-opacity="0.87" stroke="#000" stroke-width="1.5"/>
<circle cx="337.9" cy="346.6" r="5.55" fill="#e1974e" fill-opacity="0.87" stroke="#000" stroke-width="1.5"/>
<circle cx="329.8" cy="346.8" r="5.55" fill="#e1974e" fill-opacity="0.87" stroke="#000" stroke-width="1.5"/>
<circle cx="337.9" cy="347.9" r="5.55" fill="#e1974e" fill-opacity="0.87" stroke="#000" stroke-width="1.5"/>
<circle cx="438.8" cy="348.2" r="5.55" fill="#e1974e" fill-opacity="0.87" stroke="#000" stroke-width="1.5"/>
<circle cx="364.0" cy="351.8" r="5.55" fill="#e1974e" fill-opacity="0.87" stroke="#000" stroke-width="1.5"/>
<circle cx="329.8" cy="352.9" r="5.55" fill="#e1974e" fill-opacity="0.87" stroke="#000" stroke-width="1.5"/>
<circle cx="337.9" cy="353.0" r="5.55" fill="#e1974e" fill-opacity="0.87" stroke="#000" stroke-width="1.5"/>
<circle cx="329.8" cy="353.7" r="5.55" fill="#e1974e" fill-opacity="0.87" stroke="#000" stroke-width="1.5"/>
<circle cx="321.7" cy="354.0" r="5.55" fill="#e1974e" fill-opacity="0.87" stroke="#000" stroke-width="1.5"/>
<circle cx="321.7" cy="355.0" r="5.55" fill="#e1974e" fill-opacity="0.87" stroke="#000" stroke-width="1.5"/>
<circle cx="329.8" cy="355.8" r="5.55" fill="#e1974e" fill-opacity="0.87" stroke="#000" stroke-width="1.5"/>
<circle cx="329.8" cy="355.8" r="5.55" fill="#e1974e" fill-opacity="0.87" stroke="#000" stroke-width="1.5"/>
<circle cx="351.7" cy="355.8" r="5.55" fill="#e1974e" fill-opacity="0.87" stroke="#000" stroke-width="1.5"/>
<circle cx="337.4" cy="355.8" r="5.55" fill="#e1974e" fill-opacity="0.87" stroke="#000" stroke-width="1.5"/>
<circle cx="329.8" cy="357.2" r="5.55" fill="#e1974e" fill-opacity="0.87" stroke="#000" stroke-width="1.5"/>
<circle cx="329.8" cy="357.2" r="5.55" fill="#e1974e" fill-opacity="0.87" stroke="#000" stroke-width="1.5"/>
<circle cx="353.0" cy="357.4" r="5.55" fill="#e1974e" fill-opacity="0.87" stroke="#000" stroke-width="1.5"/>
<circle cx="321.7" cy="359.0" r="5.55" fill="#e1974e" fill-opacity="0.87" stroke="#000" stroke-width="1.5"/>
<circle cx="321.7" cy="360.5" r="5.55" fill="#e1974e" fill-opacity="0.87" stroke="#000" stroke-width="1.5"/>
<circle cx="329.8" cy="360.6" r="5.55" fill="#e1974e" fill-opacity="0.87" stroke="#000" stroke-width="1.5"/>
<circle cx="321.7" cy="360.9" r="5.55" fill="#e1974e" fill-opacity="0.87" stroke="#000" stroke-width="1.5"/>
<circle cx="321.7" cy="361.6" r="5.55" fill="#e1974e" fill-opacity="0.87" stroke="#000" stroke-width="1.5"/>
<circle cx="321.7" cy="362.5" r="5.55" fill="#e1974e" fill-opacity="0.87" stroke="#000" stroke-width="1.5"/>
<circle cx="312.1" cy="363.0" r="5.55" fill="#e1974e" fill-opacity="0.87" stroke="#000" stroke-width="1.5"/>
<circle cx="312.1" cy="364.2" r="5.55" fill="#e1974e" fill-opacity="0.87" stroke="#000" stroke-width="1.5"/>
<circle cx="321.7" cy="364.2" r="5.55" fill="#e1974e" fill-opacity="0.87" stroke="#000" stroke-width="1.5"/>
<circle cx="321.7" cy="364.4" r="5.55" fill="#e1974e" fill-opacity="0.87" stroke="#000" stroke-width="1.5"/>
<circle cx="321.7" cy="364.8" r="5.55" fill="#e1974e" fill-opacity="0.87" stroke="#000" stroke-width="1.5"/>
<circle cx="312.1" cy="365.0" r="5.55" fill="#e1974e" fill-opacity="0.87" stroke="#000" stroke-width="1.5"/>
<circle cx="312.1" cy="365.4" r="5.55" fill="#e1974e" fill-opacity="0.87" stroke="#000" stroke-width="1.5"/>
<circle cx="325.2" cy="366.1" r="5.55" fill="#e1974e" fill-opacity="0.87" stroke="#000" stroke-width="1.5"/>
<circle cx="312.1" cy="367.9" r="5.55" fill="#e1974e" fill-opacity="0.87" stroke="#000" stroke-width="1.5"/>
<circle cx="312.1" cy="369.7" r="5.55" fill="#e1974e" fill-opacity="0.87" stroke="#000" stroke-width="1.5"/>
<circle cx="302.6" cy="373.1" r="5.55" fill="#e1974e" fill-opacity="0.87" stroke="#000" stroke-width="1.5"/>
<circle cx="302.6" cy="373.8" r="5.55" fill="#e1974e" fill-opacity="0.87" stroke="#000" stroke-width="1.5"/>
<circle cx="302.6" cy="374.4" r="5.55" fill="#e1974e" fill-opacity="0.87" stroke="#000" stroke-width="1.5"/>
<circle cx="312.1" cy="375.6" r="5.55" fill="#e1974e" fill-opacity="0.87" stroke="#000" stroke-width="1.5"/>
<circle cx="312.1" cy="376.1" r="5.55" fill="#e1974e" fill-opacity="0.87" stroke="#000" stroke-width="1.5"/>
<circle cx="312.1" cy="376.9" r="5.55" fill="#e1974e" fill-opacity="0.87" stroke="#000" stroke-width="1.5"/>
<circle cx="302.6" cy="377.1" r="5.55" fill="#e1974e" fill-opacity="0.87" stroke="#000" stroke-width="1.5"/>
<circle cx="312.1" cy="377.6" r="5.55" fill="#e1974e" fill-opacity="0.87" stroke="#000" stroke-width="1.5"/>
<circle cx="321.3" cy="377.8" r="5.55" fill="#e1974e" fill-opacity="0.87" stroke="#000" stroke-width="1.5"/>
<circle cx="329.5" cy="377.8" r="5.55" fill="#e1974e" fill-opacity="0.87" stroke="#000" stroke-width="1.5"/>
<circle cx="302.6" cy="378.8" r="5.55" fill="#e1974e" fill-opacity="0.87" stroke="#000" stroke-width="1.5"/>
<circle cx="293.7" cy="380.9" r="5.55" fill="#e1974e" fill-opacity="0.87" stroke="#000" stroke-width="1.5"/>
<circle cx="302.6" cy="381.2" r="5.55" fill="#e1974e" fill-opacity="0.87" stroke="#000" stroke-width="1.5"/>
<circle cx="277.4" cy="383.0" r="5.55" fill="#e1974e" fill-opacity="0.87" stroke="#000" stroke-width="1.5"/>
<circle cx="293.7" cy="383.8" r="5.55" fill="#e1974e" fill-opacity="0.87" stroke="#000" stroke-width="1.5"/>
<circle cx="293.7" cy="384.7" r="5.55" fill="#e1974e" fill-opacity="0.87" stroke="#000" stroke-width="1.5"/>
<circle cx="293.7" cy="385.3" r="5.55" fill="#e1974e" fill-opacity="0.87" stroke="#000" stroke-width="1.5"/>
<circle cx="302.6" cy="385.7" r="5.55" fill="#e1974e" fill-opacity="0.87" stroke="#000" stroke-width="1.5"/>
<circle cx="293.7" cy="385.8" r="5.55" fill="#e1974e" fill-opacity="0.87" stroke="#000" stroke-width="1.5"/>
<circle cx="302.6" cy="386.4" r="5.55" fill="#e1974e" fill-opacity="0.87" stroke="#000" stroke-width="1.5"/>
<circle cx="302.6" cy="387.3" r="5.55" fill="#e1974e" fill-opacity="0.87" stroke="#000" stroke-width="1.5"/>
<circle cx="302.6" cy="387.6" r="5.55" fill="#e1974e" fill-opacity="0.87" stroke="#000" stroke-width="1.5"/>
<circle cx="293.7" cy="388.4" r="5.55" fill="#e1974e" fill-opacity="0.87" stroke="#000" stroke-width="1.5"/>
<circle cx="293.7" cy="388.4" r="5.55" fill="#e1974e" fill-opacity="0.87" stroke="#000" stroke-width="1.5"/>
<circle cx="284.3" cy="389.6" r="5.55" fill="#e1974e" fill-opacity="0.87" stroke="#000" stroke-width="1.5"/>
<circle cx="293.7" cy="390.7" r="5.55" fill="#e1974e" fill-opacity="0.87" stroke="#000" stroke-width="1.5"/>
<circle cx="284.3" cy="392.3" r="5.55" fill="#e1974e" fill-opacity="0.87" stroke="#000" stroke-width="1.5"/>
<circle cx="293.7" cy="392.3" r="5.55" fill="#e1974e" fill-opacity="0.87" stroke="#000" stroke-width="1.5"/>
<circle cx="293.7" cy="392.7" r="5.55" fill="#e1974e" fill-opacity="0.87" stroke="#000" stroke-width="1.5"/>
<circle cx="284.3" cy="393.0" r="5.55" fill="#e1974e" fill-opacity="0.87" stroke="#000" stroke-width="1.5"/>
<circle cx="284.3" cy="396.4" r="5.55" fill="#e1974e" fill-opacity="0.87" stroke="#000" stroke-width="1.5"/>
<circle cx="284.3" cy="397.9" r="5.55" fill="#e1974e" fill-opacity="0.87" stroke="#000" stroke-width="1.5"/>
<circle cx="275.7" cy="398.6" r="5.55" fill="#e1974e" fill-opacity="0.87" stroke="#000" stroke-width="1.5"/>
<circle cx="284.3" cy="398.6" r="5.55" fill="#e1974e" fill-opacity="0.87" stroke="#000" stroke-width="1.5"/>
<circle cx="284.3" cy="398.7" r="5.55" fill="#e1974e" fill-opacity="0.87" stroke="#000" stroke-width="1.5"/>
<circle cx="275.7" cy="400.7" r="5.55" fill="#e1974e" fill-opacity="0.87" stroke="#000" stroke-width="1.5"/>
<circle cx="284.3" cy="400.8" r="5.55" fill="#e1974e" fill-opacity="0.87" stroke="#000" stroke-width="1.5"/>
<circle cx="275.7" cy="402.2" r="5.55" fill="#e1974e" fill-opacity="0.87" stroke="#000" stroke-width="1.5"/>
<circle cx="284.3" cy="403.3" r="5.55" fill="#e1974e" fill-opacity="0.87" stroke="#000" stroke-width="1.5"/>
<circle cx="299.9" cy="403.4" r="5.55" fill="#e1974e" fill-opacity="0.87" stroke="#000" stroke-width="1.5"/>
<circle cx="275.7" cy="404.1" r="5.55" fill="#e1974e" fill-opacity="0.87" stroke="#000" stroke-width="1.5"/>
<circle cx="275.7" cy="404.3" r="5.55" fill="#e1974e" fill-opacity="0.87" stroke="#000" stroke-width="1.5"/>
<circle cx="284.3" cy="404.6" r="5.55" fill="#e1974e" fill-opacity="0.87" stroke="#000" stroke-width="1.5"/>
<circle cx="275.7" cy="406.6" r="5.55" fill="#e1974e" fill-opacity="0.87" stroke="#000" stroke-width="1.5"/>
<circle cx="275.7" cy="406.7" r="5.55" fill="#e1974e" fill-opacity="0.87" stroke="#000" stroke-width="1.5"/>
<circle cx="275.7" cy="407.2" r="5.55" fill="#e1974e" fill-opacity="0.87" stroke="#000" stroke-width="1.5"/>
<circle cx="275.3" cy="411.1" r="5.55" fill="#e1974e" fill-opacity="0.87" stroke="#000" stroke-width="1.5"/>
<circle cx="275.7" cy="413.2" r="5.55" fill="#e1974e" fill-opacity="0.87" stroke="#000" stroke-width="1.5"/>
<circle cx="275.7" cy="413.5" r="5.55" fill="#e1974e" fill-opacity="0.87" stroke="#000" stroke-width="1.5"/>
<circle cx="422.7" cy="248.1" r="5.55" fill="#ab6a58" fill-opacity="0.87" stroke="#000" stroke-width="1.5"/>
<circle cx="423.5" cy="366.6" r="5.55" fill="#ab6a58" fill-opacity="0.87" stroke="#000" stroke-width="1.5"/>
<circle cx="456.2" cy="366.6" r="5.55" fill="#ab6a58" fill-opacity="0.87" stroke="#000" stroke-width="1.5"/>
<circle cx="461.3" cy="367.6" r="5.55" fill="#ab6a58" fill-opacity="0.87" stroke="#000" stroke-width="1.5"/>
<circle cx="473.6" cy="370.7" r="5.55" fill="#ab6a58" fill-opacity="0.87" stroke="#000" stroke-width="1.5"/>
<circle cx="443.9" cy="371.7" r="5.55" fill="#ab6a58" fill-opacity="0.87" stroke="#000" stroke-width="1.5"/>
<circle cx="470.7" cy="372.0" r="5.55" fill="#ab6a58" fill-opacity="0.87" stroke="#000" stroke-width="1.5"/>
<circle cx="422.7" cy="373.1" r="5.55" fill="#ab6a58" fill-opacity="0.87" stroke="#000" stroke-width="1.5"/>
<circle cx="431.7" cy="373.7" r="5.55" fill="#ab6a58" fill-opacity="0.87" stroke="#000" stroke-width="1.5"/>
<circle cx="507.5" cy="374.7" r="5.55" fill="#ab6a58" fill-opacity="0.87" stroke="#000" stroke-width="1.5"/>
<circle cx="452.1" cy="375.8" r="5.55" fill="#ab6a58" fill-opacity="0.87" stroke="#000" stroke-width="1.5"/>
<circle cx="450.9" cy="376.7" r="5.55" fill="#ab6a58" fill-opacity="0.87" stroke="#000" stroke-width="1.5"/>
<circle cx="406.1" cy="376.8" r="5.55" fill="#ab6a58" fill-opacity="0.87" stroke="#000" stroke-width="1.5"/>
<circle cx="386.7" cy="376.8" r="5.55" fill="#ab6a58" fill-opacity="0.87" stroke="#000" stroke-width="1.5"/>
<circle cx="385.0" cy="377.0" r="5.55" fill="#ab6a58" fill-opacity="0.87" stroke="#000" stroke-width="1.5"/>
<circle cx="436.8" cy="377.8" r="5.55" fill="#ab6a58" fill-opacity="0.87" stroke="#000" stroke-width="1.5"/>
<circle cx="451.7" cy="378.9" r="5.55" fill="#ab6a58" fill-opacity="0.87" stroke="#000" stroke-width="1.5"/>
<circle cx="395.7" cy="379.2" r="5.55" fill="#ab6a58" fill-opacity="0.87" stroke="#000" stroke-width="1.5"/>
<circle cx="378.5" cy="379.9" r="5.55" fill="#ab6a58" fill-opacity="0.87" stroke="#000" stroke-width="1.5"/>
<circle cx="431.8" cy="380.2" r="5.55" fill="#ab6a58" fill-opacity="0.87" stroke="#000" stroke-width="1.5"/>
<circle cx="460.2" cy="380.7" r="5.55" fill="#ab6a58" fill-opacity="0.87" stroke="#000" stroke-width="1.5"/>
<circle cx="405.1" cy="380.9" r="5.55" fill="#ab6a58" fill-opacity="0.87" stroke="#000" stroke-width="1.5"/>
<circle cx="356.1" cy="380.9" r="5.55" fill="#ab6a58" fill-opacity="0.87" stroke="#000" stroke-width="1.5"/>
<circle cx="395.9" cy="380.9" r="5.55" fill="#ab6a58" fill-opacity="0.87" stroke="#000" stroke-width="1.5"/>
<circle cx="450.7" cy="381.0" r="5.55" fill="#ab6a58" fill-opacity="0.87" stroke="#000" stroke-width="1.5"/>
<circle cx="488.8" cy="381.6" r="5.55" fill="#ab6a58" fill-opacity="0.87" stroke="#000" stroke-width="1.5"/>
<circle cx="366.1" cy="381.7" r="5.55" fill="#ab6a58" fill-opacity="0.87" stroke="#000" stroke-width="1.5"/>
<circle cx="505.3" cy="381.9" r="5.55" fill="#ab6a58" fill-opacity="0.87" stroke="#000" stroke-width="1.5"/>
<circle cx="528.8" cy="381.9" r="5.55" fill="#ab6a58" fill-opacity="0.87" stroke="#000" stroke-width="1.5"/>
<circle cx="419.4" cy="381.9" r="5.55" fill="#ab6a58" fill-opacity="0.87" stroke="#000" stroke-width="1.5"/>
<circle cx="649.0" cy="383.6" r="5.55" fill="#ab6a58" fill-opacity="0.87" stroke="#000" stroke-width="1.5"/>
<circle cx="454.2" cy="383.9" r="5.55" fill="#ab6a58" fill-opacity="0.87" stroke="#000" stroke-width="1.5"/>
<circle cx="494.0" cy="383.9" r="5.55" fill="#ab6a58" fill-opacity="0.87" stroke="#000" stroke-width="1.5"/>
<circle cx="347.1" cy="384.8" r="5.55" fill="#ab6a58" fill-opacity="0.87" stroke="#000" stroke-width="1.5"/>
<circle cx="450.9" cy="385.6" r="5.55" fill="#ab6a58" fill-opacity="0.87" stroke="#000" stroke-width="1.5"/>
<circle cx="441.3" cy="385.8" r="5.55" fill="#ab6a58" fill-opacity="0.87" stroke="#000" stroke-width="1.5"/>
<circle cx="357.2" cy="386.0" r="5.55" fill="#ab6a58" fill-opacity="0.87" stroke="#000" stroke-width="1.5"/>
<circle cx="467.4" cy="386.0" r="5.55" fill="#ab6a58" fill-opacity="0.87" stroke="#000" stroke-width="1.5"/>
<circle cx="477.7" cy="386.0" r="5.55" fill="#ab6a58" fill-opacity="0.87" stroke="#000" stroke-width="1.5"/>
<circle cx="511.4" cy="386.0" r="5.55" fill="#ab6a58" fill-opacity="0.87" stroke="#000" stroke-width="1.5"/>
<circle cx="551.6" cy="386.3" r="5.55" fill="#ab6a58" fill-opacity="0.87" stroke="#000" stroke-width="1.5"/>
<circle cx="522.6" cy="387.0" r="5.55" fill="#ab6a58" fill-opacity="0.87" stroke="#000" stroke-width="1.5"/>
<circle cx="429.6" cy="387.0" r="5.55" fill="#ab6a58" fill-opacity="0.87" stroke="#000" stroke-width="1.5"/>
<circle cx="368.3" cy="387.0" r="5.55" fill="#ab6a58" fill-opacity="0.87" stroke="#000" stroke-width="1.5"/>
<circle cx="461.9" cy="387.1" r="5.55" fill="#ab6a58" fill-opacity="0.87" stroke="#000" stroke-width="1.5"/>
<circle cx="488.3" cy="387.4" r="5.55" fill="#ab6a58" fill-opacity="0.87" stroke="#000" stroke-width="1.5"/>
<circle cx="330.7" cy="387.5" r="5.55" fill="#ab6a58" fill-opacity="0.87" stroke="#000" stroke-width="1.5"/>
<circle cx="442.6" cy="387.9" r="5.55" fill="#ab6a58" fill-opacity="0.87" stroke="#000" stroke-width="1.5"/>
<circle cx="487.9" cy="388.0" r="5.55" fill="#ab6a58" fill-opacity="0.87" stroke="#000" stroke-width="1.5"/>
<circle cx="422.2" cy="388.6" r="5.55" fill="#ab6a58" fill-opacity="0.87" stroke="#000" stroke-width="1.5"/>
<circle cx="417.4" cy="389.0" r="5.55" fill="#ab6a58" fill-opacity="0.87" stroke="#000" stroke-width="1.5"/>
<circle cx="404.1" cy="389.0" r="5.55" fill="#ab6a58" fill-opacity="0.87" stroke="#000" stroke-width="1.5"/>
<circle cx="390.8" cy="389.0" r="5.55" fill="#ab6a58" fill-opacity="0.87" stroke="#000" stroke-width="1.5"/>
<circle cx="348.2" cy="389.8" r="5.55" fill="#ab6a58" fill-opacity="0.87" stroke="#000" stroke-width="1.5"/>
<circle cx="337.8" cy="389.9" r="5.55" fill="#ab6a58" fill-opacity="0.87" stroke="#000" stroke-width="1.5"/>
<circle cx="558.0" cy="390.6" r="5.55" fill="#ab6a58" fill-opacity="0.87" stroke="#000" stroke-width="1.5"/>
<circle cx="515.7" cy="390.9" r="5.55" fill="#ab6a58" fill-opacity="0.87" stroke="#000" stroke-width="1.5"/>
<circle cx="431.0" cy="391.5" r="5.55" fill="#ab6a58" fill-opacity="0.87" stroke="#000" stroke-width="1.5"/>
<circle cx="375.1" cy="393.1" r="5.55" fill="#ab6a58" fill-opacity="0.87" stroke="#000" stroke-width="1.5"/>
<circle cx="487.9" cy="393.1" r="5.55" fill="#ab6a58" fill-opacity="0.87" stroke="#000" stroke-width="1.5"/>
<circle cx="432.7" cy="393.1" r="5.55" fill="#ab6a58" fill-opacity="0.87" stroke="#000" stroke-width="1.5"/>
<circle cx="352.0" cy="393.1" r="5.55" fill="#ab6a58" fill-opacity="0.87" stroke="#000" stroke-width="1.5"/>
<circle cx="375.0" cy="393.7" r="5.55" fill="#ab6a58" fill-opacity="0.87" stroke="#000" stroke-width="1.5"/>
<circle cx="469.5" cy="395.2" r="5.55" fill="#ab6a58" fill-opacity="0.87" stroke="#000" stroke-width="1.5"/>
<circle cx="331.5" cy="395.2" r="5.55" fill="#ab6a58" fill-opacity="0.87" stroke="#000" stroke-width="1.5"/>
<circle cx="423.1" cy="395.3" r="5.55" fill="#ab6a58" fill-opacity="0.87" stroke="#000" stroke-width="1.5"/>
<circle cx="356.9" cy="396.2" r="5.55" fill="#ab6a58" fill-opacity="0.87" stroke="#000" stroke-width="1.5"/>
<circle cx="421.4" cy="396.2" r="5.55" fill="#ab6a58" fill-opacity="0.87" stroke="#000" stroke-width="1.5"/>
<circle cx="437.8" cy="396.2" r="5.55" fill="#ab6a58" fill-opacity="0.87" stroke="#000" stroke-width="1.5"/>
<circle cx="360.1" cy="396.2" r="5.55" fill="#ab6a58" fill-opacity="0.87" stroke="#000" stroke-width="1.5"/>
<circle cx="488.2" cy="397.0" r="5.55" fill="#ab6a58" fill-opacity="0.87" stroke="#000" stroke-width="1.5"/>
<circle cx="340.7" cy="397.2" r="5.55" fill="#ab6a58" fill-opacity="0.87" stroke="#000" stroke-width="1.5"/>
<circle cx="479.1" cy="397.4" r="5.55" fill="#ab6a58" fill-opacity="0.87" stroke="#000" stroke-width="1.5"/>
<circle cx="470.7" cy="397.5" r="5.55" fill="#ab6a58" fill-opacity="0.87" stroke="#000" stroke-width="1.5"/>
<circle cx="337.9" cy="397.9" r="5.55" fill="#ab6a58" fill-opacity="0.87" stroke="#000" stroke-width="1.5"/>
<circle cx="472.6" cy="398.2" r="5.55" fill="#ab6a58" fill-opacity="0.87" stroke="#000" stroke-width="1.5"/>
<circle cx="377.5" cy="398.2" r="5.55" fill="#ab6a58" fill-opacity="0.87" stroke="#000" stroke-width="1.5"/>
<circle cx="312.8" cy="398.5" r="5.55" fill="#ab6a58" fill-opacity="0.87" stroke="#000" stroke-width="1.5"/>
<circle cx="357.4" cy="399.5" r="5.55" fill="#ab6a58" fill-opacity="0.87" stroke="#000" stroke-width="1.5"/>
<circle cx="355.6" cy="400.5" r="5.55" fill="#ab6a58" fill-opacity="0.87" stroke="#000" stroke-width="1.5"/>
<circle cx="395.5" cy="400.8" r="5.55" fill="#ab6a58" fill-opacity="0.87" stroke="#000" stroke-width="1.5"/>
<circle cx="303.2" cy="400.9" r="5.55" fill="#ab6a58" fill-opacity="0.87" stroke="#000" stroke-width="1.5"/>
<circle cx="442.5" cy="400.9" r="5.55" fill="#ab6a58" fill-opacity="0.87" stroke="#000" stroke-width="1.5"/>
<circle cx="330.8" cy="401.1" r="5.55" fill="#ab6a58" fill-opacity="0.87" stroke="#000" stroke-width="1.5"/>
<circle cx="404.1" cy="401.3" r="5.55" fill="#ab6a58" fill-opacity="0.87" stroke="#000" stroke-width="1.5"/>
<circle cx="327.4" cy="401.3" r="5.55" fill="#ab6a58" fill-opacity="0.87" stroke="#000" stroke-width="1.5"/>
<circle cx="396.9" cy="401.3" r="5.55" fill="#ab6a58" fill-opacity="0.87" stroke="#000" stroke-width="1.5"/>
<circle cx="366.0" cy="403.1" r="5.55" fill="#ab6a58" fill-opacity="0.87" stroke="#000" stroke-width="1.5"/>
<circle cx="422.0" cy="403.1" r="5.55" fill="#ab6a58" fill-opacity="0.87" stroke="#000" stroke-width="1.5"/>
<circle cx="429.6" cy="403.4" r="5.55" fill="#ab6a58" fill-opacity="0.87" stroke="#000" stroke-width="1.5"/>
<circle cx="454.2" cy="404.4" r="5.55" fill="#ab6a58" fill-opacity="0.87" stroke="#000" stroke-width="1.5"/>
<circle cx="394.4" cy="405.0" r="5.55" fill="#ab6a58" fill-opacity="0.87" stroke="#000" stroke-width="1.5"/>
<circle cx="309.0" cy="405.4" r="5.55" fill="#ab6a58" fill-opacity="0.87" stroke="#000" stroke-width="1.5"/>
<circle cx="348.1" cy="405.7" r="5.55" fill="#ab6a58" fill-opacity="0.87" stroke="#000" stroke-width="1.5"/>
<circle cx="329.8" cy="405.8" r="5.55" fill="#ab6a58" fill-opacity="0.87" stroke="#000" stroke-width="1.5"/>
<circle cx="404.0" cy="405.8" r="5.55" fill="#ab6a58" fill-opacity="0.87" stroke="#000" stroke-width="1.5"/>
<circle cx="522.6" cy="406.4" r="5.55" fill="#ab6a58" fill-opacity="0.87" stroke="#000" stroke-width="1.5"/>
<circle cx="431.9" cy="406.7" r="5.55" fill="#ab6a58" fill-opacity="0.87" stroke="#000" stroke-width="1.5"/>
<circle cx="405.0" cy="406.8" r="5.55" fill="#ab6a58" fill-opacity="0.87" stroke="#000" stroke-width="1.5"/>
<circle cx="364.5" cy="407.1" r="5.55" fill="#ab6a58" fill-opacity="0.87" stroke="#000" stroke-width="1.5"/>
<circle cx="319.3" cy="407.4" r="5.55" fill="#ab6a58" fill-opacity="0.87" stroke="#000" stroke-width="1.5"/>
<circle cx="371.4" cy="407.4" r="5.55" fill="#ab6a58" fill-opacity="0.87" stroke="#000" stroke-width="1.5"/>
<circle cx="414.2" cy="407.8" r="5.55" fill="#ab6a58" fill-opacity="0.87" stroke="#000" stroke-width="1.5"/>
<circle cx="431.4" cy="408.2" r="5.55" fill="#ab6a58" fill-opacity="0.87" stroke="#000" stroke-width="1.5"/>
<circle cx="321.2" cy="409.1" r="5.55" fill="#ab6a58" fill-opacity="0.87" stroke="#000" stroke-width="1.5"/>
<circle cx="486.9" cy="409.5" r="5.55" fill="#ab6a58" fill-opacity="0.87" stroke="#000" stroke-width="1.5"/>
<circle cx="512.4" cy="409.5" r="5.55" fill="#ab6a58" fill-opacity="0.87" stroke="#000" stroke-width="1.5"/>
<circle cx="430.7" cy="409.5" r="5.55" fill="#ab6a58" fill-opacity="0.87" stroke="#000" stroke-width="1.5"/>
<circle cx="415.3" cy="409.5" r="5.55" fill="#ab6a58" fill-opacity="0.87" stroke="#000" stroke-width="1.5"/>
<circle cx="284.5" cy="409.5" r="5.55" fill="#ab6a58" fill-opacity="0.87" stroke="#000" stroke-width="1.5"/>
<circle cx="295.8" cy="409.5" r="5.55" fill="#ab6a58" fill-opacity="0.87" stroke="#000" stroke-width="1.5"/>
<circle cx="313.1" cy="409.5" r="5.55" fill="#ab6a58" fill-opacity="0.87" stroke="#000" stroke-width="1.5"/>
<circle cx="335.6" cy="409.5" r="5.55" fill="#ab6a58" fill-opacity="0.87" stroke="#000" stroke-width="1.5"/>
<circle cx="342.8" cy="409.5" r="5.55" fill="#ab6a58" fill-opacity="0.87" stroke="#000" stroke-width="1.5"/>
<circle cx="390.8" cy="409.5" r="5.55" fill="#ab6a58" fill-opacity="0.87" stroke="#000" stroke-width="1.5"/>
<circle cx="649.0" cy="409.6" r="5.55" fill="#ab6a58" fill-opacity="0.87" stroke="#000" stroke-width="1.5"/>
<circle cx="402.0" cy="410.5" r="5.55" fill="#ab6a58" fill-opacity="0.87" stroke="#000" stroke-width="1.5"/>
<circle cx="380.6" cy="410.5" r="5.55" fill="#ab6a58" fill-opacity="0.87" stroke="#000" stroke-width="1.5"/>
<circle cx="351.0" cy="411.5" r="5.55" fill="#ab6a58" fill-opacity="0.87" stroke="#000" stroke-width="1.5"/>
<circle cx="357.1" cy="411.5" r="5.55" fill="#ab6a58" fill-opacity="0.87" stroke="#000" stroke-width="1.5"/>
<circle cx="293.3" cy="412.0" r="5.55" fill="#ab6a58" fill-opacity="0.87" stroke="#000" stroke-width="1.5"/>
<circle cx="294.0" cy="412.6" r="5.55" fill="#ab6a58" fill-opacity="0.87" stroke="#000" stroke-width="1.5"/>
<circle cx="330.5" cy="413.3" r="5.55" fill="#ab6a58" fill-opacity="0.87" stroke="#000" stroke-width="1.5"/>
<circle cx="413.3" cy="414.6" r="5.55" fill="#ab6a58" fill-opacity="0.87" stroke="#000" stroke-width="1.5"/>
<circle cx="311.7" cy="415.1" r="5.55" fill="#ab6a58" fill-opacity="0.87" stroke="#000" stroke-width="1.5"/>
<circle cx="312.0" cy="415.1" r="5.55" fill="#ab6a58" fill-opacity="0.87" stroke="#000" stroke-width="1.5"/>
<circle cx="337.7" cy="415.6" r="5.55" fill="#ab6a58" fill-opacity="0.87" stroke="#000" stroke-width="1.5"/>
<circle cx="321.1" cy="416.4" r="5.55" fill="#ab6a58" fill-opacity="0.87" stroke="#000" stroke-width="1.5"/>
<circle cx="303.1" cy="416.6" r="5.55" fill="#ab6a58" fill-opacity="0.87" stroke="#000" stroke-width="1.5"/>
<circle cx="484.8" cy="416.6" r="5.55" fill="#ab6a58" fill-opacity="0.87" stroke="#000" stroke-width="1.5"/>
<circle cx="298.8" cy="416.6" r="5.55" fill="#ab6a58" fill-opacity="0.87" stroke="#000" stroke-width="1.5"/>
<circle cx="302.0" cy="417.4" r="5.55" fill="#ab6a58" fill-opacity="0.87" stroke="#000" stroke-width="1.5"/>
<circle cx="329.5" cy="417.7" r="5.55" fill="#ab6a58" fill-opacity="0.87" stroke="#000" stroke-width="1.5"/>
<circle cx="314.2" cy="418.7" r="5.55" fill="#ab6a58" fill-opacity="0.87" stroke="#000" stroke-width="1.5"/>
<circle cx="285.0" cy="419.3" r="5.55" fill="#ab6a58" fill-opacity="0.87" stroke="#000" stroke-width="1.5"/>
<circle cx="274.8" cy="419.6" r="5.55" fill="#ab6a58" fill-opacity="0.87" stroke="#000" stroke-width="1.5"/>
<circle cx="276.3" cy="419.7" r="5.55" fill="#ab6a58" fill-opacity="0.87" stroke="#000" stroke-width="1.5"/>
<circle cx="288.6" cy="419.7" r="5.55" fill="#ab6a58" fill-opacity="0.87" stroke="#000" stroke-width="1.5"/>
<circle cx="321.3" cy="419.7" r="5.55" fill="#ab6a58" fill-opacity="0.87" stroke="#000" stroke-width="1.5"/>
<circle cx="301.6" cy="419.9" r="5.55" fill="#ab6a58" fill-opacity="0.87" stroke="#000" stroke-width="1.5"/>
<circle cx="303.2" cy="420.7" r="5.55" fill="#ab6a58" fill-opacity="0.87" stroke="#000" stroke-width="1.5"/>
<circle cx="283.5" cy="420.7" r="5.55" fill="#ab6a58" fill-opacity="0.87" stroke="#000" stroke-width="1.5"/>
<circle cx="283.8" cy="421.6" r="5.55" fill="#ab6a58" fill-opacity="0.87" stroke="#000" stroke-width="1.5"/>
<circle cx="293.7" cy="421.7" r="5.55" fill="#ab6a58" fill-opacity="0.87" stroke="#000" stroke-width="1.5"/>
<circle cx="284.4" cy="422.6" r="5.55" fill="#ab6a58" fill-opacity="0.87" stroke="#000" stroke-width="1.5"/>
<circle cx="276.6" cy="424.4" r="5.55" fill="#ab6a58" fill-opacity="0.87" stroke="#000" stroke-width="1.5"/>
<circle cx="275.1" cy="427.3" r="5.55" fill="#ab6a58" fill-opacity="0.87" stroke="#000" stroke-width="1.5"/>
<circle cx="275.3" cy="429.9" r="5.55" fill="#ab6a58" fill-opacity="0.87" stroke="#000" stroke-width="1.5"/>
<circle cx="274.9" cy="430.0" r="5.55" fill="#ab6a58" fill-opacity="0.87" stroke="#000" stroke-width="1.5"/>
<circle cx="458.2" cy="304.3" r="5.55" fill="#87bb5e" fill-opacity="0.87" stroke="#000" stroke-width="1.5"/>
<circle cx="454.4" cy="304.9" r="5.55" fill="#87bb5e" fill-opacity="0.87" stroke="#000" stroke-width="1.5"/>
<circle cx="454.2" cy="305.3" r="5.55" fill="#87bb5e" fill-opacity="0.87" stroke="#000" stroke-width="1.5"/>
<circle cx="487.9" cy="306.4" r="5.55" fill="#87bb5e" fill-opacity="0.87" stroke="#000" stroke-width="1.5"/>
<circle cx="500.1" cy="306.4" r="5.55" fill="#87bb5e" fill-opacity="0.87" stroke="#000" stroke-width="1.5"/>
<circle cx="472.6" cy="308.4" r="5.55" fill="#87bb5e" fill-opacity="0.87" stroke="#000" stroke-width="1.5"/>
<circle cx="531.8" cy="308.4" r="5.55" fill="#87bb5e" fill-opacity="0.87" stroke="#000" stroke-width="1.5"/>
<circle cx="472.8" cy="309.0" r="5.55" fill="#87bb5e" fill-opacity="0.87" stroke="#000" stroke-width="1.5"/>
<circle cx="525.2" cy="309.2" r="5.55" fill="#87bb5e" fill-opacity="0.87" stroke="#000" stroke-width="1.5"/>
<circle cx="498.2" cy="309.4" r="5.55" fill="#87bb5e" fill-opacity="0.87" stroke="#000" stroke-width="1.5"/>
<circle cx="498.2" cy="309.4" r="5.55" fill="#87bb5e" fill-opacity="0.87" stroke="#000" stroke-width="1.5"/>
<circle cx="413.7" cy="309.7" r="5.55" fill="#87bb5e" fill-opacity="0.87" stroke="#000" stroke-width="1.5"/>
<circle cx="470.7" cy="309.7" r="5.55" fill="#87bb5e" fill-opacity="0.87" stroke="#000" stroke-width="1.5"/>
<circle cx="404.1" cy="309.8" r="5.55" fill="#87bb5e" fill-opacity="0.87" stroke="#000" stroke-width="1.5"/>
<circle cx="488.8" cy="309.8" r="5.55" fill="#87bb5e" fill-opacity="0.87" stroke="#000" stroke-width="1.5"/>
<circle cx="488.8" cy="310.0" r="5.55" fill="#87bb5e" fill-opacity="0.87" stroke="#000" stroke-width="1.5"/>
<circle cx="431.7" cy="310.1" r="5.55" fill="#87bb5e" fill-opacity="0.87" stroke="#000" stroke-width="1.5"/>
<circle cx="461.0" cy="310.1" r="5.55" fill="#87bb5e" fill-opacity="0.87" stroke="#000" stroke-width="1.5"/>
<circle cx="453.1" cy="310.4" r="5.55" fill="#87bb5e" fill-opacity="0.87" stroke="#000" stroke-width="1.5"/>
<circle cx="499.1" cy="310.4" r="5.55" fill="#87bb5e" fill-opacity="0.87" stroke="#000" stroke-width="1.5"/>
<circle cx="422.1" cy="310.5" r="5.55" fill="#87bb5e" fill-opacity="0.87" stroke="#000" stroke-width="1.5"/>
<circle cx="441.9" cy="310.7" r="5.55" fill="#87bb5e" fill-opacity="0.87" stroke="#000" stroke-width="1.5"/>
<circle cx="478.9" cy="310.7" r="5.55" fill="#87bb5e" fill-opacity="0.87" stroke="#000" stroke-width="1.5"/>
<circle cx="404.1" cy="310.9" r="5.55" fill="#87bb5e" fill-opacity="0.87" stroke="#000" stroke-width="1.5"/>
<circle cx="461.0" cy="311.0" r="5.55" fill="#87bb5e" fill-opacity="0.87" stroke="#000" stroke-width="1.5"/>
<circle cx="458.5" cy="311.1" r="5.55" fill="#87bb5e" fill-opacity="0.87" stroke="#000" stroke-width="1.5"/>
<circle cx="461.0" cy="311.2" r="5.55" fill="#87bb5e" fill-opacity="0.87" stroke="#000" stroke-width="1.5"/>
<circle cx="441.9" cy="311.3" r="5.55" fill="#87bb5e" fill-opacity="0.87" stroke="#000" stroke-width="1.5"/>
<circle cx="525.2" cy="311.3" r="5.55" fill="#87bb5e" fill-opacity="0.87" stroke="#000" stroke-width="1.5"/>
<circle cx="384.8" cy="311.4" r="5.55" fill="#87bb5e" fill-opacity="0.87" stroke="#000" stroke-width="1.5"/>
<circle cx="488.8" cy="311.4" r="5.55" fill="#87bb5e" fill-opacity="0.87" stroke="#000" stroke-width="1.5"/>
<circle cx="394.9" cy="311.5" r="5.55" fill="#87bb5e" fill-opacity="0.87" stroke="#000" stroke-width="1.5"/>
<circle cx="507.0" cy="311.5" r="5.55" fill="#87bb5e" fill-opacity="0.87" stroke="#000" stroke-width="1.5"/>
<circle cx="394.9" cy="311.6" r="5.55" fill="#87bb5e" fill-opacity="0.87" stroke="#000" stroke-width="1.5"/>
<circle cx="461.0" cy="311.8" r="5.55" fill="#87bb5e" fill-opacity="0.87" stroke="#000" stroke-width="1.5"/>
<circle cx="413.7" cy="312.1" r="5.55" fill="#87bb5e" fill-opacity="0.87" stroke="#000" stroke-width="1.5"/>
<circle cx="415.6" cy="312.1" r="5.55" fill="#87bb5e" fill-opacity="0.87" stroke="#000" stroke-width="1.5"/>
<circle cx="394.9" cy="312.2" r="5.55" fill="#87bb5e" fill-opacity="0.87" stroke="#000" stroke-width="1.5"/>
<circle cx="461.0" cy="312.2" r="5.55" fill="#87bb5e" fill-opacity="0.87" stroke="#000" stroke-width="1.5"/>
<circle cx="525.2" cy="312.3" r="5.55" fill="#87bb5e" fill-opacity="0.87" stroke="#000" stroke-width="1.5"/>
<circle cx="470.7" cy="312.4" r="5.55" fill="#87bb5e" fill-opacity="0.87" stroke="#000" stroke-width="1.5"/>
<circle cx="384.8" cy="312.5" r="5.55" fill="#87bb5e" fill-opacity="0.87" stroke="#000" stroke-width="1.5"/>
<circle cx="415.3" cy="312.5" r="5.55" fill="#87bb5e" fill-opacity="0.87" stroke="#000" stroke-width="1.5"/>
<circle cx="451.2" cy="312.8" r="5.55" fill="#87bb5e" fill-opacity="0.87" stroke="#000" stroke-width="1.5"/>
<circle cx="394.9" cy="312.9" r="5.55" fill="#87bb5e" fill-opacity="0.87" stroke="#000" stroke-width="1.5"/>
<circle cx="404.1" cy="312.9" r="5.55" fill="#87bb5e" fill-opacity="0.87" stroke="#000" stroke-width="1.5"/>
<circle cx="649.0" cy="312.9" r="5.55" fill="#87bb5e" fill-opacity="0.87" stroke="#000" stroke-width="1.5"/>
<circle cx="432.0" cy="313.1" r="5.55" fill="#87bb5e" fill-opacity="0.87" stroke="#000" stroke-width="1.5"/>
<circle cx="444.2" cy="313.1" r="5.55" fill="#87bb5e" fill-opacity="0.87" stroke="#000" stroke-width="1.5"/>
<circle cx="413.7" cy="313.2" r="5.55" fill="#87bb5e" fill-opacity="0.87" stroke="#000" stroke-width="1.5"/>
<circle cx="394.9" cy="313.3" r="5.55" fill="#87bb5e" fill-opacity="0.87" stroke="#000" stroke-width="1.5"/>
<circle cx="441.9" cy="313.3" r="5.55" fill="#87bb5e" fill-opacity="0.87" stroke="#000" stroke-width="1.5"/>
<circle cx="441.9" cy="313.4" r="5.55" fill="#87bb5e" fill-opacity="0.87" stroke="#000" stroke-width="1.5"/>
<circle cx="451.2" cy="313.5" r="5.55" fill="#87bb5e" fill-opacity="0.87" stroke="#000" stroke-width="1.5"/>
<circle cx="443.9" cy="313.5" r="5.55" fill="#87bb5e" fill-opacity="0.87" stroke="#000" stroke-width="1.5"/>
<circle cx="528.8" cy="313.5" r="5.55" fill="#87bb5e" fill-opacity="0.87" stroke="#000" stroke-width="1.5"/>
<circle cx="461.0" cy="313.6" r="5.55" fill="#87bb5e" fill-opacity="0.87" stroke="#000" stroke-width="1.5"/>
<circle cx="422.1" cy="313.7" r="5.55" fill="#87bb5e" fill-opacity="0.87" stroke="#000" stroke-width="1.5"/>
<circle cx="384.8" cy="313.8" r="5.55" fill="#87bb5e" fill-opacity="0.87" stroke="#000" stroke-width="1.5"/>
<circle cx="422.1" cy="313.8" r="5.55" fill="#87bb5e" fill-opacity="0.87" stroke="#000" stroke-width="1.5"/>
<circle cx="566.5" cy="313.9" r="5.55" fill="#87bb5e" fill-opacity="0.87" stroke="#000" stroke-width="1.5"/>
<circle cx="422.1" cy="314.0" r="5.55" fill="#87bb5e" fill-opacity="0.87" stroke="#000" stroke-width="1.5"/>
<circle cx="394.9" cy="314.3" r="5.55" fill="#87bb5e" fill-opacity="0.87" stroke="#000" stroke-width="1.5"/>
<circle cx="375.7" cy="314.4" r="5.55" fill="#87bb5e" fill-opacity="0.87" stroke="#000" stroke-width="1.5"/>
<circle cx="384.8" cy="314.4" r="5.55" fill="#87bb5e" fill-opacity="0.87" stroke="#000" stroke-width="1.5"/>
<circle cx="451.2" cy="314.4" r="5.55" fill="#87bb5e" fill-opacity="0.87" stroke="#000" stroke-width="1.5"/>
<circle cx="470.7" cy="314.4" r="5.55" fill="#87bb5e" fill-opacity="0.87" stroke="#000" stroke-width="1.5"/>
<circle cx="431.7" cy="314.5" r="5.55" fill="#87bb5e" fill-opacity="0.87" stroke="#000" stroke-width="1.5"/>
<circle cx="441.9" cy="314.5" r="5.55" fill="#87bb5e" fill-opacity="0.87" stroke="#000" stroke-width="1.5"/>
<circle cx="512.4" cy="314.5" r="5.55" fill="#87bb5e" fill-opacity="0.87" stroke="#000" stroke-width="1.5"/>
<circle cx="522.6" cy="314.5" r="5.55" fill="#87bb5e" fill-opacity="0.87" stroke="#000" stroke-width="1.5"/>
<circle cx="507.0" cy="314.6" r="5.55" fill="#87bb5e" fill-opacity="0.87" stroke="#000" stroke-width="1.5"/>
<circle cx="375.7" cy="314.7" r="5.55" fill="#87bb5e" fill-opacity="0.87" stroke="#000" stroke-width="1.5"/>
<circle cx="404.1" cy="314.7" r="5.55" fill="#87bb5e" fill-opacity="0.87" stroke="#000" stroke-width="1.5"/>
<circle cx="488.8" cy="314.9" r="5.55" fill="#87bb5e" fill-opacity="0.87" stroke="#000" stroke-width="1.5"/>
<circle cx="507.0" cy="314.9" r="5.55" fill="#87bb5e" fill-opacity="0.87" stroke="#000" stroke-width="1.5"/>
<circle cx="394.9" cy="315.0" r="5.55" fill="#87bb5e" fill-opacity="0.87" stroke="#000" stroke-width="1.5"/>
<circle cx="402.8" cy="315.0" r="5.55" fill="#87bb5e" fill-opacity="0.87" stroke="#000" stroke-width="1.5"/>
<circle cx="399.3" cy="315.1" r="5.55" fill="#87bb5e" fill-opacity="0.87" stroke="#000" stroke-width="1.5"/>
<circle cx="466.7" cy="315.1" r="5.55" fill="#87bb5e" fill-opacity="0.87" stroke="#000" stroke-width="1.5"/>
<circle cx="375.7" cy="315.2" r="5.55" fill="#87bb5e" fill-opacity="0.87" stroke="#000" stroke-width="1.5"/>
<circle cx="515.1" cy="315.2" r="5.55" fill="#87bb5e" fill-opacity="0.87" stroke="#000" stroke-width="1.5"/>
<circle cx="451.2" cy="315.3" r="5.55" fill="#87bb5e" fill-opacity="0.87" stroke="#000" stroke-width="1.5"/>
<circle cx="384.8" cy="315.4" r="5.55" fill="#87bb5e" fill-opacity="0.87" stroke="#000" stroke-width="1.5"/>
<circle cx="551.6" cy="315.4" r="5.55" fill="#87bb5e" fill-opacity="0.87" stroke="#000" stroke-width="1.5"/>
<circle cx="402.0" cy="315.5" r="5.55" fill="#87bb5e" fill-opacity="0.87" stroke="#000" stroke-width="1.5"/>
<circle cx="422.1" cy="315.6" r="5.55" fill="#87bb5e" fill-opacity="0.87" stroke="#000" stroke-width="1.5"/>
<circle cx="413.7" cy="316.0" r="5.55" fill="#87bb5e" fill-opacity="0.87" stroke="#000" stroke-width="1.5"/>
<circle cx="394.9" cy="316.1" r="5.55" fill="#87bb5e" fill-opacity="0.87" stroke="#000" stroke-width="1.5"/>
<circle cx="450.4" cy="316.2" r="5.55" fill="#87bb5e" fill-opacity="0.87" stroke="#000" stroke-width="1.5"/>
<circle cx="431.7" cy="316.3" r="5.55" fill="#87bb5e" fill-opacity="0.87" stroke="#000" stroke-width="1.5"/>
<circle cx="422.1" cy="316.5" r="5.55" fill="#87bb5e" fill-opacity="0.87" stroke="#000" stroke-width="1.5"/>
<circle cx="431.7" cy="316.5" r="5.55" fill="#87bb5e" fill-opacity="0.87" stroke="#000" stroke-width="1.5"/>
<circle cx="558.0" cy="316.5" r="5.55" fill="#87bb5e" fill-opacity="0.87" stroke="#000" stroke-width="1.5"/>
<circle cx="365.2" cy="316.6" r="5.55" fill="#87bb5e" fill-opacity="0.87" stroke="#000" stroke-width="1.5"/>
<circle cx="478.9" cy="316.6" r="5.55" fill="#87bb5e" fill-opacity="0.87" stroke="#000" stroke-width="1.5"/>
<circle cx="478.9" cy="316.7" r="5.55" fill="#87bb5e" fill-opacity="0.87" stroke="#000" stroke-width="1.5"/>
<circle cx="384.8" cy="316.9" r="5.55" fill="#87bb5e" fill-opacity="0.87" stroke="#000" stroke-width="1.5"/>
<circle cx="451.2" cy="316.9" r="5.55" fill="#87bb5e" fill-opacity="0.87" stroke="#000" stroke-width="1.5"/>
<circle cx="515.1" cy="316.9" r="5.55" fill="#87bb5e" fill-opacity="0.87" stroke="#000" stroke-width="1.5"/>
<circle cx="525.2" cy="316.9" r="5.55" fill="#87bb5e" fill-opacity="0.87" stroke="#000" stroke-width="1.5"/>
<circle cx="384.8" cy="317.0" r="5.55" fill="#87bb5e" fill-opacity="0.87" stroke="#000" stroke-width="1.5"/>
<circle cx="431.7" cy="317.0" r="5.55" fill="#87bb5e" fill-opacity="0.87" stroke="#000" stroke-width="1.5"/>
<circle cx="404.1" cy="317.2" r="5.55" fill="#87bb5e" fill-opacity="0.87" stroke="#000" stroke-width="1.5"/>
<circle cx="498.2" cy="317.2" r="5.55" fill="#87bb5e" fill-opacity="0.87" stroke="#000" stroke-width="1.5"/>
<circle cx="391.1" cy="317.2" r="5.55" fill="#87bb5e" fill-opacity="0.87" stroke="#000" stroke-width="1.5"/>
<circle cx="375.7" cy="317.3" r="5.55" fill="#87bb5e" fill-opacity="0.87" stroke="#000" stroke-width="1.5"/>
<circle cx="507.0" cy="317.6" r="5.55" fill="#87bb5e" fill-opacity="0.87" stroke="#000" stroke-width="1.5"/>
<circle cx="466.4" cy="317.6" r="5.55" fill="#87bb5e" fill-opacity="0.87" stroke="#000" stroke-width="1.5"/>
<circle cx="478.9" cy="317.7" r="5.55" fill="#87bb5e" fill-opacity="0.87" stroke="#000" stroke-width="1.5"/>
<circle cx="441.9" cy="318.0" r="5.55" fill="#87bb5e" fill-opacity="0.87" stroke="#000" stroke-width="1.5"/>
<circle cx="451.2" cy="318.0" r="5.55" fill="#87bb5e" fill-opacity="0.87" stroke="#000" stroke-width="1.5"/>
<circle cx="498.2" cy="318.3" r="5.55" fill="#87bb5e" fill-opacity="0.87" stroke="#000" stroke-width="1.5"/>
<circle cx="375.7" cy="318.5" r="5.55" fill="#87bb5e" fill-opacity="0.87" stroke="#000" stroke-width="1.5"/>
<circle cx="413.7" cy="318.5" r="5.55" fill="#87bb5e" fill-opacity="0.87" stroke="#000" stroke-width="1.5"/>
<circle cx="426.6" cy="318.6" r="5.55" fill="#87bb5e" fill-opacity="0.87" stroke="#000" stroke-width="1.5"/>
<circle cx="470.7" cy="318.7" r="5.55" fill="#87bb5e" fill-opacity="0.87" stroke="#000" stroke-width="1.5"/>
<circle cx="515.1" cy="319.0" r="5.55" fill="#87bb5e" fill-opacity="0.87" stroke="#000" stroke-width="1.5"/>
<circle cx="396.7" cy="319.0" r="5.55" fill="#87bb5e" fill-opacity="0.87" stroke="#000" stroke-width="1.5"/>
<circle cx="515.1" cy="319.2" r="5.55" fill="#87bb5e" fill-opacity="0.87" stroke="#000" stroke-width="1.5"/>
<circle cx="375.7" cy="319.3" r="5.55" fill="#87bb5e" fill-opacity="0.87" stroke="#000" stroke-width="1.5"/>
<circle cx="404.1" cy="320.1" r="5.55" fill="#87bb5e" fill-opacity="0.87" stroke="#000" stroke-width="1.5"/>
<circle cx="431.7" cy="320.1" r="5.55" fill="#87bb5e" fill-opacity="0.87" stroke="#000" stroke-width="1.5"/>
<circle cx="384.5" cy="320.1" r="5.55" fill="#87bb5e" fill-opacity="0.87" stroke="#000" stroke-width="1.5"/>
<circle cx="375.7" cy="320.2" r="5.55" fill="#87bb5e" fill-opacity="0.87" stroke="#000" stroke-width="1.5"/>
<circle cx="413.7" cy="320.2" r="5.55" fill="#87bb5e" fill-opacity="0.87" stroke="#000" stroke-width="1.5"/>
<circle cx="365.2" cy="320.5" r="5.55" fill="#87bb5e" fill-opacity="0.87" stroke="#000" stroke-width="1.5"/>
<circle cx="446.0" cy="320.7" r="5.55" fill="#87bb5e" fill-opacity="0.87" stroke="#000" stroke-width="1.5"/>
<circle cx="365.2" cy="320.8" r="5.55" fill="#87bb5e" fill-opacity="0.87" stroke="#000" stroke-width="1.5"/>
<circle cx="365.2" cy="321.0" r="5.55" fill="#87bb5e" fill-opacity="0.87" stroke="#000" stroke-width="1.5"/>
<circle cx="384.8" cy="321.0" r="5.55" fill="#87bb5e" fill-opacity="0.87" stroke="#000" stroke-width="1.5"/>
<circle cx="365.2" cy="322.1" r="5.55" fill="#87bb5e" fill-opacity="0.87" stroke="#000" stroke-width="1.5"/>
<circle cx="365.2" cy="322.4" r="5.55" fill="#87bb5e" fill-opacity="0.87" stroke="#000" stroke-width="1.5"/>
<circle cx="375.7" cy="322.7" r="5.55" fill="#87bb5e" fill-opacity="0.87" stroke="#000" stroke-width="1.5"/>
<circle cx="356.6" cy="324.7" r="5.55" fill="#87bb5e" fill-opacity="0.87" stroke="#000" stroke-width="1.5"/>
<circle cx="356.6" cy="325.0" r="5.55" fill="#87bb5e" fill-opacity="0.87" stroke="#000" stroke-width="1.5"/>
<circle cx="356.6" cy="325.2" r="5.55" fill="#87bb5e" fill-opacity="0.87" stroke="#000" stroke-width="1.5"/>
<circle cx="365.2" cy="325.3" r="5.55" fill="#87bb5e" fill-opacity="0.87" stroke="#000" stroke-width="1.5"/>
<circle cx="365.2" cy="325.3" r="5.55" fill="#87bb5e" fill-opacity="0.87" stroke="#000" stroke-width="1.5"/>
<circle cx="384.5" cy="326.2" r="5.55" fill="#87bb5e" fill-opacity="0.87" stroke="#000" stroke-width="1.5"/>
<circle cx="356.6" cy="326.4" r="5.55" fill="#87bb5e" fill-opacity="0.87" stroke="#000" stroke-width="1.5"/>
<circle cx="392.6" cy="327.2" r="5.55" fill="#87bb5e" fill-opacity="0.87" stroke="#000" stroke-width="1.5"/>
<circle cx="356.6" cy="327.7" r="5.55" fill="#87bb5e" fill-opacity="0.87" stroke="#000" stroke-width="1.5"/>
<circle cx="415.3" cy="327.8" r="5.55" fill="#87bb5e" fill-opacity="0.87" stroke="#000" stroke-width="1.5"/>
<circle cx="356.6" cy="328.4" r="5.55" fill="#87bb5e" fill-opacity="0.87" stroke="#000" stroke-width="1.5"/>
<circle cx="372.2" cy="329.3" r="5.55" fill="#87bb5e" fill-opacity="0.87" stroke="#000" stroke-width="1.5"/>
<circle cx="378.3" cy="331.3" r="5.55" fill="#87bb5e" fill-opacity="0.87" stroke="#000" stroke-width="1.5"/>
<circle cx="347.9" cy="332.6" r="5.55" fill="#87bb5e" fill-opacity="0.87" stroke="#000" stroke-width="1.5"/>
<circle cx="356.6" cy="332.7" r="5.55" fill="#87bb5e" fill-opacity="0.87" stroke="#000" stroke-width="1.5"/>
<circle cx="356.6" cy="333.4" r="5.55" fill="#87bb5e" fill-opacity="0.87" stroke="#000" stroke-width="1.5"/>
<circle cx="366.1" cy="333.4" r="5.55" fill="#87bb5e" fill-opacity="0.87" stroke="#000" stroke-width="1.5"/>
<circle cx="347.9" cy="333.6" r="5.55" fill="#87bb5e" fill-opacity="0.87" stroke="#000" stroke-width="1.5"/>
<circle cx="347.9" cy="333.8" r="5.55" fill="#87bb5e" fill-opacity="0.87" stroke="#000" stroke-width="1.5"/>
<circle cx="429.6" cy="333.9" r="5.55" fill="#87bb5e" fill-opacity="0.87" stroke="#000" stroke-width="1.5"/>
<circle cx="347.9" cy="336.0" r="5.55" fill="#87bb5e" fill-opacity="0.87" stroke="#000" stroke-width="1.5"/>
<circle cx="347.9" cy="336.6" r="5.55" fill="#87bb5e" fill-opacity="0.87" stroke="#000" stroke-width="1.5"/>
<circle cx="337.9" cy="336.8" r="5.55" fill="#87bb5e" fill-opacity="0.87" stroke="#000" stroke-width="1.5"/>
<circle cx="347.9" cy="337.4" r="5.55" fill="#87bb5e" fill-opacity="0.87" stroke="#000" stroke-width="1.5"/>
<circle cx="337.9" cy="338.4" r="5.55" fill="#87bb5e" fill-opacity="0.87" stroke="#000" stroke-width="1.5"/>
<circle cx="347.9" cy="339.5" r="5.55" fill="#87bb5e" fill-opacity="0.87" stroke="#000" stroke-width="1.5"/>
<circle cx="347.9" cy="340.8" r="5.55" fill="#87bb5e" fill-opacity="0.87" stroke="#000" stroke-width="1.5"/>
<circle cx="366.1" cy="341.5" r="5.55" fill="#87bb5e" fill-opacity="0.87" stroke="#000" stroke-width="1.5"/>
<circle cx="337.9" cy="342.6" r="5.55" fill="#87bb5e" fill-opacity="0.87" stroke="#000" stroke-width="1.5"/>
<circle cx="329.8" cy="343.6" r="5.55" fill="#87bb5e" fill-opacity="0.87" stroke="#000" stroke-width="1.5"/>
<circle cx="337.9" cy="344.5" r="5.55" fill="#87bb5e" fill-opacity="0.87" stroke="#000" stroke-width="1.5"/>
<circle cx="329.8" cy="345.1" r="5.55" fill="#87bb5e" fill-opacity="0.87" stroke="#000" stroke-width="1.5"/>
<circle cx="329.8" cy="345.2" r="5.55" fill="#87bb5e" fill-opacity="0.87" stroke="#000" stroke-width="1.5"/>
<circle cx="329.8" cy="345.2" r="5.55" fill="#87bb5e" fill-opacity="0.87" stroke="#000" stroke-width="1.5"/>
<circle cx="329.8" cy="345.8" r="5.55" fill="#87bb5e" fill-opacity="0.87" stroke="#000" stroke-width="1.5"/>
<circle cx="329.8" cy="345.9" r="5.55" fill="#87bb5e" fill-opacity="0.87" stroke="#000" stroke-width="1.5"/>
<circle cx="337.9" cy="346.8" r="5.55" fill="#87bb5e" fill-opacity="0.87" stroke="#000" stroke-width="1.5"/>
<circle cx="370.4" cy="347.2" r="5.55" fill="#87bb5e" fill-opacity="0.87" stroke="#000" stroke-width="1.5"/>
<circle cx="337.9" cy="347.7" r="5.55" fill="#87bb5e" fill-opacity="0.87" stroke="#000" stroke-width="1.5"/>
<circle cx="351.7" cy="347.7" r="5.55" fill="#87bb5e" fill-opacity="0.87" stroke="#000" stroke-width="1.5"/>
<circle cx="352.0" cy="348.2" r="5.55" fill="#87bb5e" fill-opacity="0.87" stroke="#000" stroke-width="1.5"/>
<circle cx="337.9" cy="348.4" r="5.55" fill="#87bb5e" fill-opacity="0.87" stroke="#000" stroke-width="1.5"/>
<circle cx="344.8" cy="349.2" r="5.55" fill="#87bb5e" fill-opacity="0.87" stroke="#000" stroke-width="1.5"/>
<circle cx="337.9" cy="349.7" r="5.55" fill="#87bb5e" fill-opacity="0.87" stroke="#000" stroke-width="1.5"/>
<circle cx="341.5" cy="349.7" r="5.55" fill="#87bb5e" fill-opacity="0.87" stroke="#000" stroke-width="1.5"/>
<circle cx="329.8" cy="351.3" r="5.55" fill="#87bb5e" fill-opacity="0.87" stroke="#000" stroke-width="1.5"/>
<circle cx="321.7" cy="351.9" r="5.55" fill="#87bb5e" fill-opacity="0.87" stroke="#000" stroke-width="1.5"/>
<circle cx="329.8" cy="352.0" r="5.55" fill="#87bb5e" fill-opacity="0.87" stroke="#000" stroke-width="1.5"/>
<circle cx="329.8" cy="353.4" r="5.55" fill="#87bb5e" fill-opacity="0.87" stroke="#000" stroke-width="1.5"/>
<circle cx="321.7" cy="353.5" r="5.55" fill="#87bb5e" fill-opacity="0.87" stroke="#000" stroke-width="1.5"/>
<circle cx="321.7" cy="354.7" r="5.55" fill="#87bb5e" fill-opacity="0.87" stroke="#000" stroke-width="1.5"/>
<circle cx="321.7" cy="356.8" r="5.55" fill="#87bb5e" fill-opacity="0.87" stroke="#000" stroke-width="1.5"/>
<circle cx="329.8" cy="356.9" r="5.55" fill="#87bb5e" fill-opacity="0.87" stroke="#000" stroke-width="1.5"/>
<circle cx="329.3" cy="357.9" r="5.55" fill="#87bb5e" fill-opacity="0.87" stroke="#000" stroke-width="1.5"/>
<circle cx="321.7" cy="358.8" r="5.55" fill="#87bb5e" fill-opacity="0.87" stroke="#000" stroke-width="1.5"/>
<circle cx="312.1" cy="360.7" r="5.55" fill="#87bb5e" fill-opacity="0.87" stroke="#000" stroke-width="1.5"/>
<circle cx="312.1" cy="360.9" r="5.55" fill="#87bb5e" fill-opacity="0.87" stroke="#000" stroke-width="1.5"/>
<circle cx="321.7" cy="361.1" r="5.55" fill="#87bb5e" fill-opacity="0.87" stroke="#000" stroke-width="1.5"/>
<circle cx="321.7" cy="361.6" r="5.55" fill="#87bb5e" fill-opacity="0.87" stroke="#000" stroke-width="1.5"/>
<circle cx="321.7" cy="361.6" r="5.55" fill="#87bb5e" fill-opacity="0.87" stroke="#000" stroke-width="1.5"/>
<circle cx="321.7" cy="362.1" r="5.55" fill="#87bb5e" fill-opacity="0.87" stroke="#000" stroke-width="1.5"/>
<circle cx="321.7" cy="362.8" r="5.55" fill="#87bb5e" fill-opacity="0.87" stroke="#000" stroke-width="1.5"/>
<circle cx="312.1" cy="364.0" r="5.55" fill="#87bb5e" fill-opacity="0.87" stroke="#000" stroke-width="1.5"/>
<circle cx="312.1" cy="364.1" r="5.55" fill="#87bb5e" fill-opacity="0.87" stroke="#000" stroke-width="1.5"/>
<circle cx="312.1" cy="365.8" r="5.55" fill="#87bb5e" fill-opacity="0.87" stroke="#000" stroke-width="1.5"/>
<circle cx="312.1" cy="366.0" r="5.55" fill="#87bb5e" fill-opacity="0.87" stroke="#000" stroke-width="1.5"/>
<circle cx="330.5" cy="366.6" r="5.55" fill="#87bb5e" fill-opacity="0.87" stroke="#000" stroke-width="1.5"/>
<circle cx="312.1" cy="369.2" r="5.55" fill="#87bb5e" fill-opacity="0.87" stroke="#000" stroke-width="1.5"/>
<circle cx="312.1" cy="370.0" r="5.55" fill="#87bb5e" fill-opacity="0.87" stroke="#000" stroke-width="1.5"/>
<circle cx="302.6" cy="370.1" r="5.55" fill="#87bb5e" fill-opacity="0.87" stroke="#000" stroke-width="1.5"/>
<circle cx="317.0" cy="370.1" r="5.55" fill="#87bb5e" fill-opacity="0.87" stroke="#000" stroke-width="1.5"/>
<circle cx="312.1" cy="370.7" r="5.55" fill="#87bb5e" fill-opacity="0.87" stroke="#000" stroke-width="1.5"/>
<circle cx="302.6" cy="371.4" r="5.55" fill="#87bb5e" fill-opacity="0.87" stroke="#000" stroke-width="1.5"/>
<circle cx="302.6" cy="374.0" r="5.55" fill="#87bb5e" fill-opacity="0.87" stroke="#000" stroke-width="1.5"/>
<circle cx="312.1" cy="375.1" r="5.55" fill="#87bb5e" fill-opacity="0.87" stroke="#000" stroke-width="1.5"/>
<circle cx="302.6" cy="375.4" r="5.55" fill="#87bb5e" fill-opacity="0.87" stroke="#000" stroke-width="1.5"/>
<circle cx="302.6" cy="377.0" r="5.55" fill="#87bb5e" fill-opacity="0.87" stroke="#000" stroke-width="1.5"/>
<circle cx="302.6" cy="378.2" r="5.55" fill="#87bb5e" fill-opacity="0.87" stroke="#000" stroke-width="1.5"/>
<circle cx="302.6" cy="378.3" r="5.55" fill="#87bb5e" fill-opacity="0.87" stroke="#000" stroke-width="1.5"/>
<circle cx="309.0" cy="378.8" r="5.55" fill="#87bb5e" fill-opacity="0.87" stroke="#000" stroke-width="1.5"/>
<circle cx="302.6" cy="379.3" r="5.55" fill="#87bb5e" fill-opacity="0.87" stroke="#000" stroke-width="1.5"/>
<circle cx="293.7" cy="380.2" r="5.55" fill="#87bb5e" fill-opacity="0.87" stroke="#000" stroke-width="1.5"/>
<circle cx="302.6" cy="380.6" r="5.55" fill="#87bb5e" fill-opacity="0.87" stroke="#000" stroke-width="1.5"/>
<circle cx="293.7" cy="381.7" r="5.55" fill="#87bb5e" fill-opacity="0.87" stroke="#000" stroke-width="1.5"/>
<circle cx="293.7" cy="382.9" r="5.55" fill="#87bb5e" fill-opacity="0.87" stroke="#000" stroke-width="1.5"/>
<circle cx="302.6" cy="383.9" r="5.55" fill="#87bb5e" fill-opacity="0.87" stroke="#000" stroke-width="1.5"/>
<circle cx="293.7" cy="384.2" r="5.55" fill="#87bb5e" fill-opacity="0.87" stroke="#000" stroke-width="1.5"/>
<circle cx="293.7" cy="384.5" r="5.55" fill="#87bb5e" fill-opacity="0.87" stroke="#000" stroke-width="1.5"/>
<circle cx="293.7" cy="386.9" r="5.55" fill="#87bb5e" fill-opacity="0.87" stroke="#000" stroke-width="1.5"/>
<circle cx="293.7" cy="387.4" r="5.55" fill="#87bb5e" fill-opacity="0.87" stroke="#000" stroke-width="1.5"/>
<circle cx="293.7" cy="387.6" r="5.55" fill="#87bb5e" fill-opacity="0.87" stroke="#000" stroke-width="1.5"/>
<circle cx="293.7" cy="387.9" r="5.55" fill="#87bb5e" fill-opacity="0.87" stroke="#000" stroke-width="1.5"/>
<circle cx="284.3" cy="388.1" r="5.55" fill="#87bb5e" fill-opacity="0.87" stroke="#000" stroke-width="1.5"/>
<circle cx="284.3" cy="390.2" r="5.55" fill="#87bb5e" fill-opacity="0.87" stroke="#000" stroke-width="1.5"/>
<circle cx="284.3" cy="390.3" r="5.55" fill="#87bb5e" fill-opacity="0.87" stroke="#000" stroke-width="1.5"/>
<circle cx="284.3" cy="390.3" r="5.55" fill="#87bb5e" fill-opacity="0.87" stroke="#000" stroke-width="1.5"/>
<circle cx="293.7" cy="390.4" r="5.55" fill="#87bb5e" fill-opacity="0.87" stroke="#000" stroke-width="1.5"/>
<circle cx="284.3" cy="392.1" r="5.55" fill="#87bb5e" fill-opacity="0.87" stroke="#000" stroke-width="1.5"/>
<circle cx="284.3" cy="393.3" r="5.55" fill="#87bb5e" fill-opacity="0.87" stroke="#000" stroke-width="1.5"/>
<circle cx="284.5" cy="394.2" r="5.55" fill="#87bb5e" fill-opacity="0.87" stroke="#000" stroke-width="1.5"/>
<circle cx="284.3" cy="394.6" r="5.55" fill="#87bb5e" fill-opacity="0.87" stroke="#000" stroke-width="1.5"/>
<circle cx="275.7" cy="397.0" r="5.55" fill="#87bb5e" fill-opacity="0.87" stroke="#000" stroke-width="1.5"/>
<circle cx="284.3" cy="397.2" r="5.55" fill="#87bb5e" fill-opacity="0.87" stroke="#000" stroke-width="1.5"/>
<circle cx="275.7" cy="398.4" r="5.55" fill="#87bb5e" fill-opacity="0.87" stroke="#000" stroke-width="1.5"/>
<circle cx="275.7" cy="399.0" r="5.55" fill="#87bb5e" fill-opacity="0.87" stroke="#000" stroke-width="1.5"/>
<circle cx="284.3" cy="400.3" r="5.55" fill="#87bb5e" fill-opacity="0.87" stroke="#000" stroke-width="1.5"/>
<circle cx="275.7" cy="401.2" r="5.55" fill="#87bb5e" fill-opacity="0.87" stroke="#000" stroke-width="1.5"/>
<circle cx="284.3" cy="401.2" r="5.55" fill="#87bb5e" fill-opacity="0.87" stroke="#000" stroke-width="1.5"/>
<circle cx="275.7" cy="402.0" r="5.55" fill="#87bb5e" fill-opacity="0.87" stroke="#000" stroke-width="1.5"/>
<circle cx="275.7" cy="404.5" r="5.55" fill="#87bb5e" fill-opacity="0.87" stroke="#000" stroke-width="1.5"/>
<circle cx="275.7" cy="405.2" r="5.55" fill="#87bb5e" fill-opacity="0.87" stroke="#000" stroke-width="1.5"/>
<circle cx="275.7" cy="405.5" r="5.55" fill="#87bb5e" fill-opacity="0.87" stroke="#000" stroke-width="1.5"/>
<circle cx="275.7" cy="405.8" r="5.55" fill="#87bb5e" fill-opacity="0.87" stroke="#000" stroke-width="1.5"/>
<circle cx="275.7" cy="410.2" r="5.55" fill="#87bb5e" fill-opacity="0.87" stroke="#000" stroke-width="1.5"/>
<circle cx="444.2" cy="235.4" r="5.55" fill="#8f69a8" fill-opacity="0.87" stroke="#000" stroke-width="1.5"/>
<circle cx="444.2" cy="235.8" r="5.55" fill="#8f69a8" fill-opacity="0.87" stroke="#000" stroke-width="1.5"/>
<circle cx="478.9" cy="239.0" r="5.55" fill="#8f69a8" fill-opacity="0.87" stroke="#000" stroke-width="1.5"/>
<circle cx="441.1" cy="239.9" r="5.55" fill="#8f69a8" fill-opacity="0.87" stroke="#000" stroke-width="1.5"/>
<circle cx="648.3" cy="240.2" r="5.55" fill="#8f69a8" fill-opacity="0.87" stroke="#000" stroke-width="1.5"/>
<circle cx="532.1" cy="240.2" r="5.55" fill="#8f69a8" fill-opacity="0.87" stroke="#000" stroke-width="1.5"/>
<circle cx="478.9" cy="240.4" r="5.55" fill="#8f69a8" fill-opacity="0.87" stroke="#000" stroke-width="1.5"/>
<circle cx="488.8" cy="241.1" r="5.55" fill="#8f69a8" fill-opacity="0.87" stroke="#000" stroke-width="1.5"/>
<circle cx="461.0" cy="241.6" r="5.55" fill="#8f69a8" fill-opacity="0.87" stroke="#000" stroke-width="1.5"/>
<circle cx="470.7" cy="241.6" r="5.55" fill="#8f69a8" fill-opacity="0.87" stroke="#000" stroke-width="1.5"/>
<circle cx="498.3" cy="242.0" r="5.55" fill="#8f69a8" fill-opacity="0.87" stroke="#000" stroke-width="1.5"/>
<circle cx="451.2" cy="242.2" r="5.55" fill="#8f69a8" fill-opacity="0.87" stroke="#000" stroke-width="1.5"/>
<circle cx="499.8" cy="242.4" r="5.55" fill="#8f69a8" fill-opacity="0.87" stroke="#000" stroke-width="1.5"/>
<circle cx="507.0" cy="242.9" r="5.55" fill="#8f69a8" fill-opacity="0.87" stroke="#000" stroke-width="1.5"/>
<circle cx="451.2" cy="243.3" r="5.55" fill="#8f69a8" fill-opacity="0.87" stroke="#000" stroke-width="1.5"/>
<circle cx="498.2" cy="243.5" r="5.55" fill="#8f69a8" fill-opacity="0.87" stroke="#000" stroke-width="1.5"/>
<circle cx="551.6" cy="243.9" r="5.55" fill="#8f69a8" fill-opacity="0.87" stroke="#000" stroke-width="1.5"/>
<circle cx="557.9" cy="243.9" r="5.55" fill="#8f69a8" fill-opacity="0.87" stroke="#000" stroke-width="1.5"/>
<circle cx="488.1" cy="244.0" r="5.55" fill="#8f69a8" fill-opacity="0.87" stroke="#000" stroke-width="1.5"/>
<circle cx="507.0" cy="244.2" r="5.55" fill="#8f69a8" fill-opacity="0.87" stroke="#000" stroke-width="1.5"/>
<circle cx="507.0" cy="244.5" r="5.55" fill="#8f69a8" fill-opacity="0.87" stroke="#000" stroke-width="1.5"/>
<circle cx="451.2" cy="245.1" r="5.55" fill="#8f69a8" fill-opacity="0.87" stroke="#000" stroke-width="1.5"/>
<circle cx="461.0" cy="245.5" r="5.55" fill="#8f69a8" fill-opacity="0.87" stroke="#000" stroke-width="1.5"/>
<circle cx="488.8" cy="245.5" r="5.55" fill="#8f69a8" fill-opacity="0.87" stroke="#000" stroke-width="1.5"/>
<circle cx="488.8" cy="245.7" r="5.55" fill="#8f69a8" fill-opacity="0.87" stroke="#000" stroke-width="1.5"/>
<circle cx="515.1" cy="246.1" r="5.55" fill="#8f69a8" fill-opacity="0.87" stroke="#000" stroke-width="1.5"/>
<circle cx="451.2" cy="246.2" r="5.55" fill="#8f69a8" fill-opacity="0.87" stroke="#000" stroke-width="1.5"/>
<circle cx="515.1" cy="246.3" r="5.55" fill="#8f69a8" fill-opacity="0.87" stroke="#000" stroke-width="1.5"/>
<circle cx="441.9" cy="246.9" r="5.55" fill="#8f69a8" fill-opacity="0.87" stroke="#000" stroke-width="1.5"/>
<circle cx="512.6" cy="247.1" r="5.55" fill="#8f69a8" fill-opacity="0.87" stroke="#000" stroke-width="1.5"/>
<circle cx="513.9" cy="247.1" r="5.55" fill="#8f69a8" fill-opacity="0.87" stroke="#000" stroke-width="1.5"/>
<circle cx="498.2" cy="247.3" r="5.55" fill="#8f69a8" fill-opacity="0.87" stroke="#000" stroke-width="1.5"/>
<circle cx="488.8" cy="247.5" r="5.55" fill="#8f69a8" fill-opacity="0.87" stroke="#000" stroke-width="1.5"/>
<circle cx="498.2" cy="247.5" r="5.55" fill="#8f69a8" fill-opacity="0.87" stroke="#000" stroke-width="1.5"/>
<circle cx="478.9" cy="247.8" r="5.55" fill="#8f69a8" fill-opacity="0.87" stroke="#000" stroke-width="1.5"/>
<circle cx="488.8" cy="247.9" r="5.55" fill="#8f69a8" fill-opacity="0.87" stroke="#000" stroke-width="1.5"/>
<circle cx="522.8" cy="248.1" r="5.55" fill="#8f69a8" fill-opacity="0.87" stroke="#000" stroke-width="1.5"/>
<circle cx="461.0" cy="248.3" r="5.55" fill="#8f69a8" fill-opacity="0.87" stroke="#000" stroke-width="1.5"/>
<circle cx="525.2" cy="248.7" r="5.55" fill="#8f69a8" fill-opacity="0.87" stroke="#000" stroke-width="1.5"/>
<circle cx="521.8" cy="248.7" r="5.55" fill="#8f69a8" fill-opacity="0.87" stroke="#000" stroke-width="1.5"/>
<circle cx="498.2" cy="249.1" r="5.55" fill="#8f69a8" fill-opacity="0.87" stroke="#000" stroke-width="1.5"/>
<circle cx="515.1" cy="249.2" r="5.55" fill="#8f69a8" fill-opacity="0.87" stroke="#000" stroke-width="1.5"/>
<circle cx="451.2" cy="249.3" r="5.55" fill="#8f69a8" fill-opacity="0.87" stroke="#000" stroke-width="1.5"/>
<circle cx="451.2" cy="249.5" r="5.55" fill="#8f69a8" fill-opacity="0.87" stroke="#000" stroke-width="1.5"/>
<circle cx="470.7" cy="249.5" r="5.55" fill="#8f69a8" fill-opacity="0.87" stroke="#000" stroke-width="1.5"/>
<circle cx="470.7" cy="249.7" r="5.55" fill="#8f69a8" fill-opacity="0.87" stroke="#000" stroke-width="1.5"/>
<circle cx="441.9" cy="250.1" r="5.55" fill="#8f69a8" fill-opacity="0.87" stroke="#000" stroke-width="1.5"/>
<circle cx="477.9" cy="250.1" r="5.55" fill="#8f69a8" fill-opacity="0.87" stroke="#000" stroke-width="1.5"/>
<circle cx="504.4" cy="250.1" r="5.55" fill="#8f69a8" fill-opacity="0.87" stroke="#000" stroke-width="1.5"/>
<circle cx="532.8" cy="250.2" r="5.55" fill="#8f69a8" fill-opacity="0.87" stroke="#000" stroke-width="1.5"/>
<circle cx="477.8" cy="250.2" r="5.55" fill="#8f69a8" fill-opacity="0.87" stroke="#000" stroke-width="1.5"/>
<circle cx="441.9" cy="250.8" r="5.55" fill="#8f69a8" fill-opacity="0.87" stroke="#000" stroke-width="1.5"/>
<circle cx="478.9" cy="251.0" r="5.55" fill="#8f69a8" fill-opacity="0.87" stroke="#000" stroke-width="1.5"/>
<circle cx="441.9" cy="251.3" r="5.55" fill="#8f69a8" fill-opacity="0.87" stroke="#000" stroke-width="1.5"/>
<circle cx="498.2" cy="251.8" r="5.55" fill="#8f69a8" fill-opacity="0.87" stroke="#000" stroke-width="1.5"/>
<circle cx="475.9" cy="251.8" r="5.55" fill="#8f69a8" fill-opacity="0.87" stroke="#000" stroke-width="1.5"/>
<circle cx="467.7" cy="252.2" r="5.55" fill="#8f69a8" fill-opacity="0.87" stroke="#000" stroke-width="1.5"/>
<circle cx="457.4" cy="252.2" r="5.55" fill="#8f69a8" fill-opacity="0.87" stroke="#000" stroke-width="1.5"/>
<circle cx="507.0" cy="252.7" r="5.55" fill="#8f69a8" fill-opacity="0.87" stroke="#000" stroke-width="1.5"/>
<circle cx="525.2" cy="253.2" r="5.55" fill="#8f69a8" fill-opacity="0.87" stroke="#000" stroke-width="1.5"/>
<circle cx="470.7" cy="253.3" r="5.55" fill="#8f69a8" fill-opacity="0.87" stroke="#000" stroke-width="1.5"/>
<circle cx="441.9" cy="253.5" r="5.55" fill="#8f69a8" fill-opacity="0.87" stroke="#000" stroke-width="1.5"/>
<circle cx="515.1" cy="254.1" r="5.55" fill="#8f69a8" fill-opacity="0.87" stroke="#000" stroke-width="1.5"/>
<circle cx="431.7" cy="254.5" r="5.55" fill="#8f69a8" fill-opacity="0.87" stroke="#000" stroke-width="1.5"/>
<circle cx="487.3" cy="254.9" r="5.55" fill="#8f69a8" fill-opacity="0.87" stroke="#000" stroke-width="1.5"/>
<circle cx="453.4" cy="254.9" r="5.55" fill="#8f69a8" fill-opacity="0.87" stroke="#000" stroke-width="1.5"/>
<circle cx="441.9" cy="255.7" r="5.55" fill="#8f69a8" fill-opacity="0.87" stroke="#000" stroke-width="1.5"/>
<circle cx="462.6" cy="255.9" r="5.55" fill="#8f69a8" fill-opacity="0.87" stroke="#000" stroke-width="1.5"/>
<circle cx="461.0" cy="256.4" r="5.55" fill="#8f69a8" fill-opacity="0.87" stroke="#000" stroke-width="1.5"/>
<circle cx="525.2" cy="256.4" r="5.55" fill="#8f69a8" fill-opacity="0.87" stroke="#000" stroke-width="1.5"/>
<circle cx="431.7" cy="256.5" r="5.55" fill="#8f69a8" fill-opacity="0.87" stroke="#000" stroke-width="1.5"/>
<circle cx="648.3" cy="256.5" r="5.55" fill="#8f69a8" fill-opacity="0.87" stroke="#000" stroke-width="1.5"/>
<circle cx="431.7" cy="257.5" r="5.55" fill="#8f69a8" fill-opacity="0.87" stroke="#000" stroke-width="1.5"/>
<circle cx="431.7" cy="257.8" r="5.55" fill="#8f69a8" fill-opacity="0.87" stroke="#000" stroke-width="1.5"/>
<circle cx="444.2" cy="257.9" r="5.55" fill="#8f69a8" fill-opacity="0.87" stroke="#000" stroke-width="1.5"/>
<circle cx="551.0" cy="258.1" r="5.55" fill="#8f69a8" fill-opacity="0.87" stroke="#000" stroke-width="1.5"/>
<circle cx="529.6" cy="258.1" r="5.55" fill="#8f69a8" fill-opacity="0.87" stroke="#000" stroke-width="1.5"/>
<circle cx="461.0" cy="258.4" r="5.55" fill="#8f69a8" fill-opacity="0.87" stroke="#000" stroke-width="1.5"/>
<circle cx="461.0" cy="258.9" r="5.55" fill="#8f69a8" fill-opacity="0.87" stroke="#000" stroke-width="1.5"/>
<circle cx="431.7" cy="259.4" r="5.55" fill="#8f69a8" fill-opacity="0.87" stroke="#000" stroke-width="1.5"/>
<circle cx="431.7" cy="260.1" r="5.55" fill="#8f69a8" fill-opacity="0.87" stroke="#000" stroke-width="1.5"/>
<circle cx="512.4" cy="261.2" r="5.55" fill="#8f69a8" fill-opacity="0.87" stroke="#000" stroke-width="1.5"/>
<circle cx="504.5" cy="261.2" r="5.55" fill="#8f69a8" fill-opacity="0.87" stroke="#000" stroke-width="1.5"/>
<circle cx="498.2" cy="261.2" r="5.55" fill="#8f69a8" fill-opacity="0.87" stroke="#000" stroke-width="1.5"/>
<circle cx="422.1" cy="261.4" r="5.55" fill="#8f69a8" fill-opacity="0.87" stroke="#000" stroke-width="1.5"/>
<circle cx="525.2" cy="261.7" r="5.55" fill="#8f69a8" fill-opacity="0.87" stroke="#000" stroke-width="1.5"/>
<circle cx="450.4" cy="262.0" r="5.55" fill="#8f69a8" fill-opacity="0.87" stroke="#000" stroke-width="1.5"/>
<circle cx="474.9" cy="262.0" r="5.55" fill="#8f69a8" fill-opacity="0.87" stroke="#000" stroke-width="1.5"/>
<circle cx="422.1" cy="262.5" r="5.55" fill="#8f69a8" fill-opacity="0.87" stroke="#000" stroke-width="1.5"/>
<circle cx="523.4" cy="262.8" r="5.55" fill="#8f69a8" fill-opacity="0.87" stroke="#000" stroke-width="1.5"/>
<circle cx="474.7" cy="262.8" r="5.55" fill="#8f69a8" fill-opacity="0.87" stroke="#000" stroke-width="1.5"/>
<circle cx="422.1" cy="263.6" r="5.55" fill="#8f69a8" fill-opacity="0.87" stroke="#000" stroke-width="1.5"/>
<circle cx="413.7" cy="264.4" r="5.55" fill="#8f69a8" fill-opacity="0.87" stroke="#000" stroke-width="1.5"/>
<circle cx="422.1" cy="264.9" r="5.55" fill="#8f69a8" fill-opacity="0.87" stroke="#000" stroke-width="1.5"/>
<circle cx="413.7" cy="265.6" r="5.55" fill="#8f69a8" fill-opacity="0.87" stroke="#000" stroke-width="1.5"/>
<circle cx="422.1" cy="265.7" r="5.55" fill="#8f69a8" fill-opacity="0.87" stroke="#000" stroke-width="1.5"/>
<circle cx="487.3" cy="265.9" r="5.55" fill="#8f69a8" fill-opacity="0.87" stroke="#000" stroke-width="1.5"/>
<circle cx="422.1" cy="266.5" r="5.55" fill="#8f69a8" fill-opacity="0.87" stroke="#000" stroke-width="1.5"/>
<circle cx="458.5" cy="268.1" r="5.55" fill="#8f69a8" fill-opacity="0.87" stroke="#000" stroke-width="1.5"/>
<circle cx="413.7" cy="268.5" r="5.55" fill="#8f69a8" fill-opacity="0.87" stroke="#000" stroke-width="1.5"/>
<circle cx="413.7" cy="269.9" r="5.55" fill="#8f69a8" fill-opacity="0.87" stroke="#000" stroke-width="1.5"/>
<circle cx="413.7" cy="270.1" r="5.55" fill="#8f69a8" fill-opacity="0.87" stroke="#000" stroke-width="1.5"/>
<circle cx="425.8" cy="270.2" r="5.55" fill="#8f69a8" fill-opacity="0.87" stroke="#000" stroke-width="1.5"/>
<circle cx="470.8" cy="270.2" r="5.55" fill="#8f69a8" fill-opacity="0.87" stroke="#000" stroke-width="1.5"/>
<circle cx="471.6" cy="272.2" r="5.55" fill="#8f69a8" fill-opacity="0.87" stroke="#000" stroke-width="1.5"/>
<circle cx="404.1" cy="273.2" r="5.55" fill="#8f69a8" fill-opacity="0.87" stroke="#000" stroke-width="1.5"/>
<circle cx="404.1" cy="273.6" r="5.55" fill="#8f69a8" fill-opacity="0.87" stroke="#000" stroke-width="1.5"/>
<circle cx="404.1" cy="274.2" r="5.55" fill="#8f69a8" fill-opacity="0.87" stroke="#000" stroke-width="1.5"/>
<circle cx="464.7" cy="274.3" r="5.55" fill="#8f69a8" fill-opacity="0.87" stroke="#000" stroke-width="1.5"/>
<circle cx="404.1" cy="276.1" r="5.55" fill="#8f69a8" fill-opacity="0.87" stroke="#000" stroke-width="1.5"/>
<circle cx="436.1" cy="276.3" r="5.55" fill="#8f69a8" fill-opacity="0.87" stroke="#000" stroke-width="1.5"/>
<circle cx="413.7" cy="277.5" r="5.55" fill="#8f69a8" fill-opacity="0.87" stroke="#000" stroke-width="1.5"/>
<circle cx="394.9" cy="278.8" r="5.55" fill="#8f69a8" fill-opacity="0.87" stroke="#000" stroke-width="1.5"/>
<circle cx="394.9" cy="279.7" r="5.55" fill="#8f69a8" fill-opacity="0.87" stroke="#000" stroke-width="1.5"/>
<circle cx="415.6" cy="280.4" r="5.55" fill="#8f69a8" fill-opacity="0.87" stroke="#000" stroke-width="1.5"/>
<circle cx="449.3" cy="280.4" r="5.55" fill="#8f69a8" fill-opacity="0.87" stroke="#000" stroke-width="1.5"/>
<circle cx="421.7" cy="280.4" r="5.55" fill="#8f69a8" fill-opacity="0.87" stroke="#000" stroke-width="1.5"/>
<circle cx="404.1" cy="281.5" r="5.55" fill="#8f69a8" fill-opacity="0.87" stroke="#000" stroke-width="1.5"/>
<circle cx="394.9" cy="281.6" r="5.55" fill="#8f69a8" fill-opacity="0.87" stroke="#000" stroke-width="1.5"/>
<circle cx="404.1" cy="281.7" r="5.55" fill="#8f69a8" fill-opacity="0.87" stroke="#000" stroke-width="1.5"/>
<circle cx="404.9" cy="282.3" r="5.55" fill="#8f69a8" fill-opacity="0.87" stroke="#000" stroke-width="1.5"/>
<circle cx="429.9" cy="284.5" r="5.55" fill="#8f69a8" fill-opacity="0.87" stroke="#000" stroke-width="1.5"/>
<circle cx="394.9" cy="284.6" r="5.55" fill="#8f69a8" fill-opacity="0.87" stroke="#000" stroke-width="1.5"/>
<circle cx="394.9" cy="286.3" r="5.55" fill="#8f69a8" fill-opacity="0.87" stroke="#000" stroke-width="1.5"/>
<circle cx="392.6" cy="288.4" r="5.55" fill="#8f69a8" fill-opacity="0.87" stroke="#000" stroke-width="1.5"/>
<circle cx="394.9" cy="288.7" r="5.55" fill="#8f69a8" fill-opacity="0.87" stroke="#000" stroke-width="1.5"/>
<circle cx="394.9" cy="289.2" r="5.55" fill="#8f69a8" fill-opacity="0.87" stroke="#000" stroke-width="1.5"/>
<circle cx="384.8" cy="289.4" r="5.55" fill="#8f69a8" fill-opacity="0.87" stroke="#000" stroke-width="1.5"/>
<circle cx="384.8" cy="289.5" r="5.55" fill="#8f69a8" fill-opacity="0.87" stroke="#000" stroke-width="1.5"/>
<circle cx="415.6" cy="290.6" r="5.55" fill="#8f69a8" fill-opacity="0.87" stroke="#000" stroke-width="1.5"/>
<circle cx="401.3" cy="290.6" r="5.55" fill="#8f69a8" fill-opacity="0.87" stroke="#000" stroke-width="1.5"/>
<circle cx="394.9" cy="291.1" r="5.55" fill="#8f69a8" fill-opacity="0.87" stroke="#000" stroke-width="1.5"/>
<circle cx="384.8" cy="292.1" r="5.55" fill="#8f69a8" fill-opacity="0.87" stroke="#000" stroke-width="1.5"/>
<circle cx="404.9" cy="292.5" r="5.55" fill="#8f69a8" fill-opacity="0.87" stroke="#000" stroke-width="1.5"/>
<circle cx="391.1" cy="292.7" r="5.55" fill="#8f69a8" fill-opacity="0.87" stroke="#000" stroke-width="1.5"/>
<circle cx="384.8" cy="292.9" r="5.55" fill="#8f69a8" fill-opacity="0.87" stroke="#000" stroke-width="1.5"/>
<circle cx="396.7" cy="294.5" r="5.55" fill="#8f69a8" fill-opacity="0.87" stroke="#000" stroke-width="1.5"/>
<circle cx="384.8" cy="295.4" r="5.55" fill="#8f69a8" fill-opacity="0.87" stroke="#000" stroke-width="1.5"/>
<circle cx="384.8" cy="295.5" r="5.55" fill="#8f69a8" fill-opacity="0.87" stroke="#000" stroke-width="1.5"/>
<circle cx="405.4" cy="296.8" r="5.55" fill="#8f69a8" fill-opacity="0.87" stroke="#000" stroke-width="1.5"/>
<circle cx="384.8" cy="298.1" r="5.55" fill="#8f69a8" fill-opacity="0.87" stroke="#000" stroke-width="1.5"/>
<circle cx="375.7" cy="298.9" r="5.55" fill="#8f69a8" fill-opacity="0.87" stroke="#000" stroke-width="1.5"/>
<circle cx="375.7" cy="299.6" r="5.55" fill="#8f69a8" fill-opacity="0.87" stroke="#000" stroke-width="1.5"/>
<circle cx="375.7" cy="299.7" r="5.55" fill="#8f69a8" fill-opacity="0.87" stroke="#000" stroke-width="1.5"/>
<circle cx="400.8" cy="300.7" r="5.55" fill="#8f69a8" fill-opacity="0.87" stroke="#000" stroke-width="1.5"/>
<circle cx="387.0" cy="300.8" r="5.55" fill="#8f69a8" fill-opacity="0.87" stroke="#000" stroke-width="1.5"/>
<circle cx="375.7" cy="302.8" r="5.55" fill="#8f69a8" fill-opacity="0.87" stroke="#000" stroke-width="1.5"/>
<circle cx="380.9" cy="302.9" r="5.55" fill="#8f69a8" fill-opacity="0.87" stroke="#000" stroke-width="1.5"/>
<circle cx="375.7" cy="303.1" r="5.55" fill="#8f69a8" fill-opacity="0.87" stroke="#000" stroke-width="1.5"/>
<circle cx="384.8" cy="303.3" r="5.55" fill="#8f69a8" fill-opacity="0.87" stroke="#000" stroke-width="1.5"/>
<circle cx="376.8" cy="304.9" r="5.55" fill="#8f69a8" fill-opacity="0.87" stroke="#000" stroke-width="1.5"/>
<circle cx="375.7" cy="306.7" r="5.55" fill="#8f69a8" fill-opacity="0.87" stroke="#000" stroke-width="1.5"/>
<circle cx="375.7" cy="307.6" r="5.55" fill="#8f69a8" fill-opacity="0.87" stroke="#000" stroke-width="1.5"/>
<circle cx="365.2" cy="308.2" r="5.55" fill="#8f69a8" fill-opacity="0.87" stroke="#000" stroke-width="1.5"/>
<circle cx="365.2" cy="310.6" r="5.55" fill="#8f69a8" fill-opacity="0.87" stroke="#000" stroke-width="1.5"/>
<circle cx="386.5" cy="310.9" r="5.55" fill="#8f69a8" fill-opacity="0.87" stroke="#000" stroke-width="1.5"/>
<circle cx="375.7" cy="312.6" r="5.55" fill="#8f69a8" fill-opacity="0.87" stroke="#000" stroke-width="1.5"/>
<circle cx="378.3" cy="312.9" r="5.55" fill="#8f69a8" fill-opacity="0.87" stroke="#000" stroke-width="1.5"/>
<circle cx="372.7" cy="313.1" r="5.55" fill="#8f69a8" fill-opacity="0.87" stroke="#000" stroke-width="1.5"/>
<circle cx="365.2" cy="314.7" r="5.55" fill="#8f69a8" fill-opacity="0.87" stroke="#000" stroke-width="1.5"/>
<circle cx="365.2" cy="316.0" r="5.55" fill="#8f69a8" fill-opacity="0.87" stroke="#000" stroke-width="1.5"/>
<circle cx="365.2" cy="316.4" r="5.55" fill="#8f69a8" fill-opacity="0.87" stroke="#000" stroke-width="1.5"/>
<circle cx="356.6" cy="317.0" r="5.55" fill="#8f69a8" fill-opacity="0.87" stroke="#000" stroke-width="1.5"/>
<circle cx="364.5" cy="317.2" r="5.55" fill="#8f69a8" fill-opacity="0.87" stroke="#000" stroke-width="1.5"/>
<circle cx="365.2" cy="317.6" r="5.55" fill="#8f69a8" fill-opacity="0.87" stroke="#000" stroke-width="1.5"/>
<circle cx="370.1" cy="318.0" r="5.55" fill="#8f69a8" fill-opacity="0.87" stroke="#000" stroke-width="1.5"/>
<circle cx="356.6" cy="318.7" r="5.55" fill="#8f69a8" fill-opacity="0.87" stroke="#000" stroke-width="1.5"/>
<circle cx="364.0" cy="319.0" r="5.55" fill="#8f69a8" fill-opacity="0.87" stroke="#000" stroke-width="1.5"/>
<circle cx="365.2" cy="319.9" r="5.55" fill="#8f69a8" fill-opacity="0.87" stroke="#000" stroke-width="1.5"/>
<circle cx="365.2" cy="321.0" r="5.55" fill="#8f69a8" fill-opacity="0.87" stroke="#000" stroke-width="1.5"/>
<circle cx="356.6" cy="321.2" r="5.55" fill="#8f69a8" fill-opacity="0.87" stroke="#000" stroke-width="1.5"/>
<circle cx="359.9" cy="323.1" r="5.55" fill="#8f69a8" fill-opacity="0.87" stroke="#000" stroke-width="1.5"/>
<circle cx="356.6" cy="324.1" r="5.55" fill="#8f69a8" fill-opacity="0.87" stroke="#000" stroke-width="1.5"/>
<circle cx="356.6" cy="324.9" r="5.55" fill="#8f69a8" fill-opacity="0.87" stroke="#000" stroke-width="1.5"/>
<circle cx="347.9" cy="325.4" r="5.55" fill="#8f69a8" fill-opacity="0.87" stroke="#000" stroke-width="1.5"/>
<circle cx="347.9" cy="325.8" r="5.55" fill="#8f69a8" fill-opacity="0.87" stroke="#000" stroke-width="1.5"/>
<circle cx="347.9" cy="327.4" r="5.55" fill="#8f69a8" fill-opacity="0.87" stroke="#000" stroke-width="1.5"/>
<circle cx="347.9" cy="327.6" r="5.55" fill="#8f69a8" fill-opacity="0.87" stroke="#000" stroke-width="1.5"/>
<circle cx="347.9" cy="327.7" r="5.55" fill="#8f69a8" fill-opacity="0.87" stroke="#000" stroke-width="1.5"/>
<circle cx="356.6" cy="327.8" r="5.55" fill="#8f69a8" fill-opacity="0.87" stroke="#000" stroke-width="1.5"/>
<circle cx="356.6" cy="328.2" r="5.55" fill="#8f69a8" fill-opacity="0.87" stroke="#000" stroke-width="1.5"/>
<circle cx="332.3" cy="328.2" r="5.55" fill="#8f69a8" fill-opacity="0.87" stroke="#000" stroke-width="1.5"/>
<circle cx="439.9" cy="328.8" r="5.55" fill="#8f69a8" fill-opacity="0.87" stroke="#000" stroke-width="1.5"/>
<circle cx="356.6" cy="330.4" r="5.55" fill="#8f69a8" fill-opacity="0.87" stroke="#000" stroke-width="1.5"/>
<circle cx="347.9" cy="330.7" r="5.55" fill="#8f69a8" fill-opacity="0.87" stroke="#000" stroke-width="1.5"/>
<circle cx="351.7" cy="331.3" r="5.55" fill="#8f69a8" fill-opacity="0.87" stroke="#000" stroke-width="1.5"/>
<circle cx="357.9" cy="331.3" r="5.55" fill="#8f69a8" fill-opacity="0.87" stroke="#000" stroke-width="1.5"/>
<circle cx="347.9" cy="332.4" r="5.55" fill="#8f69a8" fill-opacity="0.87" stroke="#000" stroke-width="1.5"/>
<circle cx="347.9" cy="333.2" r="5.55" fill="#8f69a8" fill-opacity="0.87" stroke="#000" stroke-width="1.5"/>
<circle cx="337.9" cy="337.1" r="5.55" fill="#8f69a8" fill-opacity="0.87" stroke="#000" stroke-width="1.5"/>
<circle cx="339.5" cy="337.4" r="5.55" fill="#8f69a8" fill-opacity="0.87" stroke="#000" stroke-width="1.5"/>
<circle cx="329.8" cy="341.2" r="5.55" fill="#8f69a8" fill-opacity="0.87" stroke="#000" stroke-width="1.5"/>
<circle cx="329.8" cy="341.7" r="5.55" fill="#8f69a8" fill-opacity="0.87" stroke="#000" stroke-width="1.5"/>
<circle cx="329.8" cy="342.0" r="5.55" fill="#8f69a8" fill-opacity="0.87" stroke="#000" stroke-width="1.5"/>
<circle cx="329.8" cy="342.8" r="5.55" fill="#8f69a8" fill-opacity="0.87" stroke="#000" stroke-width="1.5"/>
<circle cx="329.8" cy="343.1" r="5.55" fill="#8f69a8" fill-opacity="0.87" stroke="#000" stroke-width="1.5"/>
<circle cx="337.9" cy="343.2" r="5.55" fill="#8f69a8" fill-opacity="0.87" stroke="#000" stroke-width="1.5"/>
<circle cx="337.9" cy="344.6" r="5.55" fill="#8f69a8" fill-opacity="0.87" stroke="#000" stroke-width="1.5"/>
<circle cx="337.9" cy="344.8" r="5.55" fill="#8f69a8" fill-opacity="0.87" stroke="#000" stroke-width="1.5"/>
<circle cx="329.8" cy="346.1" r="5.55" fill="#8f69a8" fill-opacity="0.87" stroke="#000" stroke-width="1.5"/>
<circle cx="337.9" cy="346.1" r="5.55" fill="#8f69a8" fill-opacity="0.87" stroke="#000" stroke-width="1.5"/>
<circle cx="337.7" cy="346.1" r="5.55" fill="#8f69a8" fill-opacity="0.87" stroke="#000" stroke-width="1.5"/>
<circle cx="337.9" cy="347.0" r="5.55" fill="#8f69a8" fill-opacity="0.87" stroke="#000" stroke-width="1.5"/>
<circle cx="329.8" cy="347.2" r="5.55" fill="#8f69a8" fill-opacity="0.87" stroke="#000" stroke-width="1.5"/>
<circle cx="329.8" cy="347.6" r="5.55" fill="#8f69a8" fill-opacity="0.87" stroke="#000" stroke-width="1.5"/>
<circle cx="337.4" cy="347.7" r="5.55" fill="#8f69a8" fill-opacity="0.87" stroke="#000" stroke-width="1.5"/>
<circle cx="329.8" cy="349.4" r="5.55" fill="#8f69a8" fill-opacity="0.87" stroke="#000" stroke-width="1.5"/>
<circle cx="337.9" cy="349.7" r="5.55" fill="#8f69a8" fill-opacity="0.87" stroke="#000" stroke-width="1.5"/>
<circle cx="337.9" cy="350.0" r="5.55" fill="#8f69a8" fill-opacity="0.87" stroke="#000" stroke-width="1.5"/>
<circle cx="321.7" cy="350.1" r="5.55" fill="#8f69a8" fill-opacity="0.87" stroke="#000" stroke-width="1.5"/>
<circle cx="329.8" cy="351.2" r="5.55" fill="#8f69a8" fill-opacity="0.87" stroke="#000" stroke-width="1.5"/>
<circle cx="321.7" cy="352.1" r="5.55" fill="#8f69a8" fill-opacity="0.87" stroke="#000" stroke-width="1.5"/>
<circle cx="321.7" cy="352.3" r="5.55" fill="#8f69a8" fill-opacity="0.87" stroke="#000" stroke-width="1.5"/>
<circle cx="321.7" cy="353.1" r="5.55" fill="#8f69a8" fill-opacity="0.87" stroke="#000" stroke-width="1.5"/>
<circle cx="321.7" cy="356.3" r="5.55" fill="#8f69a8" fill-opacity="0.87" stroke="#000" stroke-width="1.5"/>
<circle cx="312.1" cy="358.3" r="5.55" fill="#8f69a8" fill-opacity="0.87" stroke="#000" stroke-width="1.5"/>
<circle cx="321.7" cy="359.1" r="5.55" fill="#8f69a8" fill-opacity="0.87" stroke="#000" stroke-width="1.5"/>
<circle cx="312.1" cy="359.4" r="5.55" fill="#8f69a8" fill-opacity="0.87" stroke="#000" stroke-width="1.5"/>
<circle cx="312.1" cy="359.8" r="5.55" fill="#8f69a8" fill-opacity="0.87" stroke="#000" stroke-width="1.5"/>
<circle cx="312.1" cy="359.9" r="5.55" fill="#8f69a8" fill-opacity="0.87" stroke="#000" stroke-width="1.5"/>
<circle cx="312.1" cy="360.2" r="5.55" fill="#8f69a8" fill-opacity="0.87" stroke="#000" stroke-width="1.5"/>
<circle cx="312.1" cy="360.3" r="5.55" fill="#8f69a8" fill-opacity="0.87" stroke="#000" stroke-width="1.5"/>
<circle cx="317.0" cy="362.0" r="5.55" fill="#8f69a8" fill-opacity="0.87" stroke="#000" stroke-width="1.5"/>
<circle cx="316.2" cy="362.5" r="5.55" fill="#8f69a8" fill-opacity="0.87" stroke="#000" stroke-width="1.5"/>
<circle cx="321.7" cy="362.9" r="5.55" fill="#8f69a8" fill-opacity="0.87" stroke="#000" stroke-width="1.5"/>
<circle cx="321.7" cy="363.0" r="5.55" fill="#8f69a8" fill-opacity="0.87" stroke="#000" stroke-width="1.5"/>
<circle cx="312.1" cy="364.0" r="5.55" fill="#8f69a8" fill-opacity="0.87" stroke="#000" stroke-width="1.5"/>
<circle cx="321.7" cy="364.2" r="5.55" fill="#8f69a8" fill-opacity="0.87" stroke="#000" stroke-width="1.5"/>
<circle cx="321.7" cy="364.5" r="5.55" fill="#8f69a8" fill-opacity="0.87" stroke="#000" stroke-width="1.5"/>
<circle cx="312.1" cy="364.6" r="5.55" fill="#8f69a8" fill-opacity="0.87" stroke="#000" stroke-width="1.5"/>
<circle cx="308.8" cy="368.1" r="5.55" fill="#8f69a8" fill-opacity="0.87" stroke="#000" stroke-width="1.5"/>
<circle cx="302.6" cy="368.6" r="5.55" fill="#8f69a8" fill-opacity="0.87" stroke="#000" stroke-width="1.5"/>
<circle cx="302.6" cy="368.6" r="5.55" fill="#8f69a8" fill-opacity="0.87" stroke="#000" stroke-width="1.5"/>
<circle cx="308.6" cy="368.6" r="5.55" fill="#8f69a8" fill-opacity="0.87" stroke="#000" stroke-width="1.5"/>
<circle cx="302.6" cy="370.5" r="5.55" fill="#8f69a8" fill-opacity="0.87" stroke="#000" stroke-width="1.5"/>
<circle cx="302.6" cy="371.2" r="5.55" fill="#8f69a8" fill-opacity="0.87" stroke="#000" stroke-width="1.5"/>
<circle cx="312.1" cy="373.2" r="5.55" fill="#8f69a8" fill-opacity="0.87" stroke="#000" stroke-width="1.5"/>
<circle cx="302.6" cy="373.4" r="5.55" fill="#8f69a8" fill-opacity="0.87" stroke="#000" stroke-width="1.5"/>
<circle cx="312.1" cy="373.9" r="5.55" fill="#8f69a8" fill-opacity="0.87" stroke="#000" stroke-width="1.5"/>
<circle cx="302.6" cy="376.3" r="5.55" fill="#8f69a8" fill-opacity="0.87" stroke="#000" stroke-width="1.5"/>
<circle cx="302.6" cy="376.7" r="5.55" fill="#8f69a8" fill-opacity="0.87" stroke="#000" stroke-width="1.5"/>
<circle cx="302.6" cy="377.4" r="5.55" fill="#8f69a8" fill-opacity="0.87" stroke="#000" stroke-width="1.5"/>
<circle cx="297.8" cy="377.8" r="5.55" fill="#8f69a8" fill-opacity="0.87" stroke="#000" stroke-width="1.5"/>
<circle cx="293.7" cy="380.2" r="5.55" fill="#8f69a8" fill-opacity="0.87" stroke="#000" stroke-width="1.5"/>
<circle cx="293.7" cy="380.7" r="5.55" fill="#8f69a8" fill-opacity="0.87" stroke="#000" stroke-width="1.5"/>
<circle cx="293.7" cy="380.7" r="5.55" fill="#8f69a8" fill-opacity="0.87" stroke="#000" stroke-width="1.5"/>
<circle cx="302.6" cy="380.7" r="5.55" fill="#8f69a8" fill-opacity="0.87" stroke="#000" stroke-width="1.5"/>
<circle cx="292.7" cy="380.9" r="5.55" fill="#8f69a8" fill-opacity="0.87" stroke="#000" stroke-width="1.5"/>
<circle cx="302.6" cy="381.0" r="5.55" fill="#8f69a8" fill-opacity="0.87" stroke="#000" stroke-width="1.5"/>
<circle cx="293.7" cy="381.2" r="5.55" fill="#8f69a8" fill-opacity="0.87" stroke="#000" stroke-width="1.5"/>
<circle cx="293.7" cy="381.4" r="5.55" fill="#8f69a8" fill-opacity="0.87" stroke="#000" stroke-width="1.5"/>
<circle cx="293.7" cy="385.1" r="5.55" fill="#8f69a8" fill-opacity="0.87" stroke="#000" stroke-width="1.5"/>
<circle cx="284.3" cy="386.1" r="5.55" fill="#8f69a8" fill-opacity="0.87" stroke="#000" stroke-width="1.5"/>
<circle cx="293.7" cy="386.4" r="5.55" fill="#8f69a8" fill-opacity="0.87" stroke="#000" stroke-width="1.5"/>
<circle cx="293.7" cy="386.5" r="5.55" fill="#8f69a8" fill-opacity="0.87" stroke="#000" stroke-width="1.5"/>
<circle cx="284.3" cy="388.3" r="5.55" fill="#8f69a8" fill-opacity="0.87" stroke="#000" stroke-width="1.5"/>
<circle cx="293.7" cy="388.4" r="5.55" fill="#8f69a8" fill-opacity="0.87" stroke="#000" stroke-width="1.5"/>
<circle cx="293.7" cy="389.8" r="5.55" fill="#8f69a8" fill-opacity="0.87" stroke="#000" stroke-width="1.5"/>
<circle cx="276.3" cy="390.1" r="5.55" fill="#8f69a8" fill-opacity="0.87" stroke="#000" stroke-width="1.5"/>
<circle cx="299.9" cy="392.1" r="5.55" fill="#8f69a8" fill-opacity="0.87" stroke="#000" stroke-width="1.5"/>
<circle cx="284.3" cy="392.4" r="5.55" fill="#8f69a8" fill-opacity="0.87" stroke="#000" stroke-width="1.5"/>
<circle cx="284.3" cy="394.7" r="5.55" fill="#8f69a8" fill-opacity="0.87" stroke="#000" stroke-width="1.5"/>
<circle cx="284.3" cy="395.6" r="5.55" fill="#8f69a8" fill-opacity="0.87" stroke="#000" stroke-width="1.5"/>
<circle cx="275.7" cy="395.9" r="5.55" fill="#8f69a8" fill-opacity="0.87" stroke="#000" stroke-width="1.5"/>
<circle cx="284.3" cy="395.9" r="5.55" fill="#8f69a8" fill-opacity="0.87" stroke="#000" stroke-width="1.5"/>
<circle cx="284.3" cy="396.2" r="5.55" fill="#8f69a8" fill-opacity="0.87" stroke="#000" stroke-width="1.5"/>
<circle cx="275.7" cy="398.3" r="5.55" fill="#8f69a8" fill-opacity="0.87" stroke="#000" stroke-width="1.5"/>
<circle cx="284.3" cy="399.2" r="5.55" fill="#8f69a8" fill-opacity="0.87" stroke="#000" stroke-width="1.5"/>
<circle cx="275.7" cy="399.5" r="5.55" fill="#8f69a8" fill-opacity="0.87" stroke="#000" stroke-width="1.5"/>
<circle cx="284.3" cy="399.5" r="5.55" fill="#8f69a8" fill-opacity="0.87" stroke="#000" stroke-width="1.5"/>
<circle cx="275.7" cy="400.5" r="5.55" fill="#8f69a8" fill-opacity="0.87" stroke="#000" stroke-width="1.5"/>
<circle cx="275.7" cy="401.7" r="5.55" fill="#8f69a8" fill-opacity="0.87" stroke="#000" stroke-width="1.5"/>
<circle cx="284.3" cy="402.3" r="5.55" fill="#8f69a8" fill-opacity="0.87" stroke="#000" stroke-width="1.5"/>
<circle cx="275.7" cy="405.0" r="5.55" fill="#8f69a8" fill-opacity="0.87" stroke="#000" stroke-width="1.5"/>
<circle cx="275.7" cy="407.4" r="5.55" fill="#8f69a8" fill-opacity="0.87" stroke="#000" stroke-width="1.5"/>
<circle cx="275.7" cy="408.0" r="5.55" fill="#8f69a8" fill-opacity="0.87" stroke="#000" stroke-width="1.5"/>
<circle cx="275.7" cy="408.8" r="5.55" fill="#8f69a8" fill-opacity="0.87" stroke="#000" stroke-width="1.5"/>
<circle cx="275.7" cy="409.3" r="5.55" fill="#8f69a8" fill-opacity="0.87" stroke="#000" stroke-width="1.5"/>
<circle cx="648.5" cy="58.9" r="5.55" fill="#d55e5f" fill-opacity="0.87" stroke="#000" stroke-width="1.5"/>
<circle cx="605.4" cy="103.9" r="5.55" fill="#d55e5f" fill-opacity="0.87" stroke="#000" stroke-width="1.5"/>
<circle cx="557.5" cy="125.5" r="5.55" fill="#d55e5f" fill-opacity="0.87" stroke="#000" stroke-width="1.5"/>
<circle cx="551.7" cy="129.1" r="5.55" fill="#d55e5f" fill-opacity="0.87" stroke="#000" stroke-width="1.5"/>
<circle cx="529.0" cy="162.3" r="5.55" fill="#d55e5f" fill-opacity="0.87" stroke="#000" stroke-width="1.5"/>
<circle cx="528.4" cy="162.8" r="5.55" fill="#d55e5f" fill-opacity="0.87" stroke="#000" stroke-width="1.5"/>
<circle cx="522.6" cy="166.9" r="5.55" fill="#d55e5f" fill-opacity="0.87" stroke="#000" stroke-width="1.5"/>
<circle cx="523.7" cy="172.7" r="5.55" fill="#d55e5f" fill-opacity="0.87" stroke="#000" stroke-width="1.5"/>
<circle cx="501.5" cy="183.2" r="5.55" fill="#d55e5f" fill-opacity="0.87" stroke="#000" stroke-width="1.5"/>
<circle cx="514.7" cy="185.8" r="5.55" fill="#d55e5f" fill-opacity="0.87" stroke="#000" stroke-width="1.5"/>
<circle cx="514.4" cy="186.7" r="5.55" fill="#d55e5f" fill-opacity="0.87" stroke="#000" stroke-width="1.5"/>
<circle cx="478.9" cy="197.7" r="5.55" fill="#d55e5f" fill-opacity="0.87" stroke="#000" stroke-width="1.5"/>
<circle cx="474.7" cy="198.4" r="5.55" fill="#d55e5f" fill-opacity="0.87" stroke="#000" stroke-width="1.5"/>
<circle cx="501.5" cy="200.1" r="5.55" fill="#d55e5f" fill-opacity="0.87" stroke="#000" stroke-width="1.5"/>
<circle cx="475.8" cy="200.1" r="5.55" fill="#d55e5f" fill-opacity="0.87" stroke="#000" stroke-width="1.5"/>
<circle cx="470.7" cy="207.7" r="5.55" fill="#d55e5f" fill-opacity="0.87" stroke="#000" stroke-width="1.5"/>
<circle cx="470.7" cy="210.5" r="5.55" fill="#d55e5f" fill-opacity="0.87" stroke="#000" stroke-width="1.5"/>
<circle cx="501.5" cy="211.8" r="5.55" fill="#d55e5f" fill-opacity="0.87" stroke="#000" stroke-width="1.5"/>
<circle cx="467.7" cy="212.3" r="5.55" fill="#d55e5f" fill-opacity="0.87" stroke="#000" stroke-width="1.5"/>
<circle cx="461.0" cy="214.8" r="5.55" fill="#d55e5f" fill-opacity="0.87" stroke="#000" stroke-width="1.5"/>
<circle cx="472.8" cy="215.4" r="5.55" fill="#d55e5f" fill-opacity="0.87" stroke="#000" stroke-width="1.5"/>
<circle cx="472.3" cy="215.9" r="5.55" fill="#d55e5f" fill-opacity="0.87" stroke="#000" stroke-width="1.5"/>
<circle cx="461.0" cy="216.5" r="5.55" fill="#d55e5f" fill-opacity="0.87" stroke="#000" stroke-width="1.5"/>
<circle cx="461.0" cy="220.4" r="5.55" fill="#d55e5f" fill-opacity="0.87" stroke="#000" stroke-width="1.5"/>
<circle cx="461.0" cy="221.9" r="5.55" fill="#d55e5f" fill-opacity="0.87" stroke="#000" stroke-width="1.5"/>
<circle cx="449.3" cy="228.3" r="5.55" fill="#d55e5f" fill-opacity="0.87" stroke="#000" stroke-width="1.5"/>
<circle cx="449.3" cy="228.7" r="5.55" fill="#d55e5f" fill-opacity="0.87" stroke="#000" stroke-width="1.5"/>
<circle cx="464.6" cy="231.7" r="5.55" fill="#d55e5f" fill-opacity="0.87" stroke="#000" stroke-width="1.5"/>
<circle cx="464.7" cy="232.4" r="5.55" fill="#d55e5f" fill-opacity="0.87" stroke="#000" stroke-width="1.5"/>
<circle cx="441.9" cy="233.9" r="5.55" fill="#d55e5f" fill-opacity="0.87" stroke="#000" stroke-width="1.5"/>
<circle cx="441.9" cy="235.3" r="5.55" fill="#d55e5f" fill-opacity="0.87" stroke="#000" stroke-width="1.5"/>
<circle cx="451.3" cy="235.8" r="5.55" fill="#d55e5f" fill-opacity="0.87" stroke="#000" stroke-width="1.5"/>
<circle cx="439.1" cy="235.8" r="5.55" fill="#d55e5f" fill-opacity="0.87" stroke="#000" stroke-width="1.5"/>
<circle cx="441.9" cy="236.7" r="5.55" fill="#d55e5f" fill-opacity="0.87" stroke="#000" stroke-width="1.5"/>
<circle cx="438.1" cy="237.5" r="5.55" fill="#d55e5f" fill-opacity="0.87" stroke="#000" stroke-width="1.5"/>
<circle cx="422.1" cy="247.5" r="5.55" fill="#d55e5f" fill-opacity="0.87" stroke="#000" stroke-width="1.5"/>
<circle cx="431.7" cy="247.8" r="5.55" fill="#d55e5f" fill-opacity="0.87" stroke="#000" stroke-width="1.5"/>
<circle cx="413.6" cy="248.7" r="5.55" fill="#d55e5f" fill-opacity="0.87" stroke="#000" stroke-width="1.5"/>
<circle cx="412.5" cy="250.1" r="5.55" fill="#d55e5f" fill-opacity="0.87" stroke="#000" stroke-width="1.5"/>
<circle cx="423.8" cy="250.8" r="5.55" fill="#d55e5f" fill-opacity="0.87" stroke="#000" stroke-width="1.5"/>
<circle cx="403.3" cy="254.2" r="5.55" fill="#d55e5f" fill-opacity="0.87" stroke="#000" stroke-width="1.5"/>
<circle cx="413.7" cy="255.6" r="5.55" fill="#d55e5f" fill-opacity="0.87" stroke="#000" stroke-width="1.5"/>
<circle cx="404.4" cy="256.9" r="5.55" fill="#d55e5f" fill-opacity="0.87" stroke="#000" stroke-width="1.5"/>
<circle cx="415.6" cy="258.9" r="5.55" fill="#d55e5f" fill-opacity="0.87" stroke="#000" stroke-width="1.5"/>
<circle cx="413.7" cy="259.0" r="5.55" fill="#d55e5f" fill-opacity="0.87" stroke="#000" stroke-width="1.5"/>
<circle cx="422.1" cy="259.3" r="5.55" fill="#d55e5f" fill-opacity="0.87" stroke="#000" stroke-width="1.5"/>
<circle cx="413.7" cy="267.0" r="5.55" fill="#d55e5f" fill-opacity="0.87" stroke="#000" stroke-width="1.5"/>
<circle cx="404.1" cy="270.1" r="5.55" fill="#d55e5f" fill-opacity="0.87" stroke="#000" stroke-width="1.5"/>
<circle cx="395.7" cy="272.0" r="5.55" fill="#d55e5f" fill-opacity="0.87" stroke="#000" stroke-width="1.5"/>
<circle cx="397.2" cy="272.2" r="5.55" fill="#d55e5f" fill-opacity="0.87" stroke="#000" stroke-width="1.5"/>
<circle cx="394.9" cy="274.6" r="5.55" fill="#d55e5f" fill-opacity="0.87" stroke="#000" stroke-width="1.5"/>
<circle cx="394.9" cy="277.4" r="5.55" fill="#d55e5f" fill-opacity="0.87" stroke="#000" stroke-width="1.5"/>
<circle cx="404.1" cy="277.4" r="5.55" fill="#d55e5f" fill-opacity="0.87" stroke="#000" stroke-width="1.5"/>
<circle cx="388.5" cy="281.2" r="5.55" fill="#d55e5f" fill-opacity="0.87" stroke="#000" stroke-width="1.5"/>
<circle cx="388.0" cy="281.4" r="5.55" fill="#d55e5f" fill-opacity="0.87" stroke="#000" stroke-width="1.5"/>
<circle cx="394.9" cy="284.1" r="5.55" fill="#d55e5f" fill-opacity="0.87" stroke="#000" stroke-width="1.5"/>
<circle cx="378.3" cy="284.3" r="5.55" fill="#d55e5f" fill-opacity="0.87" stroke="#000" stroke-width="1.5"/>
<circle cx="378.8" cy="284.5" r="5.55" fill="#d55e5f" fill-opacity="0.87" stroke="#000" stroke-width="1.5"/>
<circle cx="384.8" cy="286.7" r="5.55" fill="#d55e5f" fill-opacity="0.87" stroke="#000" stroke-width="1.5"/>
<circle cx="384.8" cy="290.8" r="5.55" fill="#d55e5f" fill-opacity="0.87" stroke="#000" stroke-width="1.5"/>
<circle cx="375.7" cy="294.1" r="5.55" fill="#d55e5f" fill-opacity="0.87" stroke="#000" stroke-width="1.5"/>
<circle cx="375.7" cy="295.2" r="5.55" fill="#d55e5f" fill-opacity="0.87" stroke="#000" stroke-width="1.5"/>
<circle cx="375.7" cy="298.5" r="5.55" fill="#d55e5f" fill-opacity="0.87" stroke="#000" stroke-width="1.5"/>
<circle cx="368.6" cy="300.8" r="5.55" fill="#d55e5f" fill-opacity="0.87" stroke="#000" stroke-width="1.5"/>
<circle cx="375.7" cy="302.6" r="5.55" fill="#d55e5f" fill-opacity="0.87" stroke="#000" stroke-width="1.5"/>
<circle cx="369.1" cy="302.7" r="5.55" fill="#d55e5f" fill-opacity="0.87" stroke="#000" stroke-width="1.5"/>
<circle cx="375.7" cy="304.2" r="5.55" fill="#d55e5f" fill-opacity="0.87" stroke="#000" stroke-width="1.5"/>
<circle cx="365.2" cy="304.3" r="5.55" fill="#d55e5f" fill-opacity="0.87" stroke="#000" stroke-width="1.5"/>
<circle cx="365.2" cy="306.3" r="5.55" fill="#d55e5f" fill-opacity="0.87" stroke="#000" stroke-width="1.5"/>
<circle cx="356.6" cy="307.9" r="5.55" fill="#d55e5f" fill-opacity="0.87" stroke="#000" stroke-width="1.5"/>
<circle cx="365.2" cy="311.9" r="5.55" fill="#d55e5f" fill-opacity="0.87" stroke="#000" stroke-width="1.5"/>
<circle cx="356.6" cy="312.6" r="5.55" fill="#d55e5f" fill-opacity="0.87" stroke="#000" stroke-width="1.5"/>
<circle cx="356.6" cy="314.3" r="5.55" fill="#d55e5f" fill-opacity="0.87" stroke="#000" stroke-width="1.5"/>
<circle cx="365.2" cy="315.0" r="5.55" fill="#d55e5f" fill-opacity="0.87" stroke="#000" stroke-width="1.5"/>
<circle cx="356.6" cy="315.8" r="5.55" fill="#d55e5f" fill-opacity="0.87" stroke="#000" stroke-width="1.5"/>
<circle cx="347.9" cy="316.0" r="5.55" fill="#d55e5f" fill-opacity="0.87" stroke="#000" stroke-width="1.5"/>
<circle cx="344.1" cy="316.2" r="5.55" fill="#d55e5f" fill-opacity="0.87" stroke="#000" stroke-width="1.5"/>
<circle cx="343.6" cy="319.0" r="5.55" fill="#d55e5f" fill-opacity="0.87" stroke="#000" stroke-width="1.5"/>
<circle cx="347.9" cy="322.9" r="5.55" fill="#d55e5f" fill-opacity="0.87" stroke="#000" stroke-width="1.5"/>
<circle cx="347.9" cy="323.7" r="5.55" fill="#d55e5f" fill-opacity="0.87" stroke="#000" stroke-width="1.5"/>
<circle cx="337.9" cy="327.2" r="5.55" fill="#d55e5f" fill-opacity="0.87" stroke="#000" stroke-width="1.5"/>
<circle cx="337.9" cy="330.8" r="5.55" fill="#d55e5f" fill-opacity="0.87" stroke="#000" stroke-width="1.5"/>
<circle cx="337.9" cy="335.5" r="5.55" fill="#d55e5f" fill-opacity="0.87" stroke="#000" stroke-width="1.5"/>
<circle cx="442.9" cy="338.0" r="5.55" fill="#d55e5f" fill-opacity="0.87" stroke="#000" stroke-width="1.5"/>
<circle cx="337.9" cy="341.3" r="5.55" fill="#d55e5f" fill-opacity="0.87" stroke="#000" stroke-width="1.5"/>
<circle cx="329.8" cy="341.6" r="5.55" fill="#d55e5f" fill-opacity="0.87" stroke="#000" stroke-width="1.5"/>
<circle cx="337.9" cy="341.9" r="5.55" fill="#d55e5f" fill-opacity="0.87" stroke="#000" stroke-width="1.5"/>
<circle cx="329.8" cy="345.0" r="5.55" fill="#d55e5f" fill-opacity="0.87" stroke="#000" stroke-width="1.5"/>
<circle cx="321.7" cy="345.2" r="5.55" fill="#d55e5f" fill-opacity="0.87" stroke="#000" stroke-width="1.5"/>
<circle cx="329.8" cy="347.0" r="5.55" fill="#d55e5f" fill-opacity="0.87" stroke="#000" stroke-width="1.5"/>
<circle cx="329.8" cy="347.0" r="5.55" fill="#d55e5f" fill-opacity="0.87" stroke="#000" stroke-width="1.5"/>
<circle cx="429.6" cy="349.2" r="5.55" fill="#d55e5f" fill-opacity="0.87" stroke="#000" stroke-width="1.5"/>
<circle cx="430.7" cy="349.3" r="5.55" fill="#d55e5f" fill-opacity="0.87" stroke="#000" stroke-width="1.5"/>
<circle cx="321.7" cy="350.5" r="5.55" fill="#d55e5f" fill-opacity="0.87" stroke="#000" stroke-width="1.5"/>
<circle cx="321.7" cy="351.9" r="5.55" fill="#d55e5f" fill-opacity="0.87" stroke="#000" stroke-width="1.5"/>
<circle cx="321.7" cy="353.0" r="5.55" fill="#d55e5f" fill-opacity="0.87" stroke="#000" stroke-width="1.5"/>
<circle cx="312.1" cy="354.4" r="5.55" fill="#d55e5f" fill-opacity="0.87" stroke="#000" stroke-width="1.5"/>
<circle cx="321.7" cy="354.8" r="5.55" fill="#d55e5f" fill-opacity="0.87" stroke="#000" stroke-width="1.5"/>
<circle cx="307.8" cy="355.8" r="5.55" fill="#d55e5f" fill-opacity="0.87" stroke="#000" stroke-width="1.5"/>
<circle cx="321.7" cy="356.1" r="5.55" fill="#d55e5f" fill-opacity="0.87" stroke="#000" stroke-width="1.5"/>
<circle cx="308.6" cy="356.3" r="5.55" fill="#d55e5f" fill-opacity="0.87" stroke="#000" stroke-width="1.5"/>
<circle cx="321.7" cy="357.4" r="5.55" fill="#d55e5f" fill-opacity="0.87" stroke="#000" stroke-width="1.5"/>
<circle cx="312.1" cy="362.4" r="5.55" fill="#d55e5f" fill-opacity="0.87" stroke="#000" stroke-width="1.5"/>
<circle cx="312.1" cy="362.6" r="5.55" fill="#d55e5f" fill-opacity="0.87" stroke="#000" stroke-width="1.5"/>
<circle cx="312.1" cy="364.8" r="5.55" fill="#d55e5f" fill-opacity="0.87" stroke="#000" stroke-width="1.5"/>
<circle cx="312.1" cy="365.0" r="5.55" fill="#d55e5f" fill-opacity="0.87" stroke="#000" stroke-width="1.5"/>
<circle cx="302.6" cy="365.6" r="5.55" fill="#d55e5f" fill-opacity="0.87" stroke="#000" stroke-width="1.5"/>
<circle cx="312.1" cy="366.7" r="5.55" fill="#d55e5f" fill-opacity="0.87" stroke="#000" stroke-width="1.5"/>
<circle cx="312.1" cy="366.7" r="5.55" fill="#d55e5f" fill-opacity="0.87" stroke="#000" stroke-width="1.5"/>
<circle cx="302.6" cy="368.8" r="5.55" fill="#d55e5f" fill-opacity="0.87" stroke="#000" stroke-width="1.5"/>
<circle cx="302.6" cy="369.4" r="5.55" fill="#d55e5f" fill-opacity="0.87" stroke="#000" stroke-width="1.5"/>
<circle cx="302.6" cy="370.7" r="5.55" fill="#d55e5f" fill-opacity="0.87" stroke="#000" stroke-width="1.5"/>
<circle cx="302.6" cy="373.3" r="5.55" fill="#d55e5f" fill-opacity="0.87" stroke="#000" stroke-width="1.5"/>
<circle cx="293.7" cy="375.2" r="5.55" fill="#d55e5f" fill-opacity="0.87" stroke="#000" stroke-width="1.5"/>
<circle cx="293.7" cy="378.3" r="5.55" fill="#d55e5f" fill-opacity="0.87" stroke="#000" stroke-width="1.5"/>
<circle cx="293.7" cy="380.2" r="5.55" fill="#d55e5f" fill-opacity="0.87" stroke="#000" stroke-width="1.5"/>
<circle cx="293.7" cy="381.8" r="5.55" fill="#d55e5f" fill-opacity="0.87" stroke="#000" stroke-width="1.5"/>
<circle cx="284.3" cy="382.2" r="5.55" fill="#d55e5f" fill-opacity="0.87" stroke="#000" stroke-width="1.5"/>
<circle cx="293.7" cy="382.2" r="5.55" fill="#d55e5f" fill-opacity="0.87" stroke="#000" stroke-width="1.5"/>
<circle cx="293.7" cy="382.6" r="5.55" fill="#d55e5f" fill-opacity="0.87" stroke="#000" stroke-width="1.5"/>
<circle cx="284.3" cy="383.2" r="5.55" fill="#d55e5f" fill-opacity="0.87" stroke="#000" stroke-width="1.5"/>
<circle cx="277.4" cy="386.0" r="5.55" fill="#d55e5f" fill-opacity="0.87" stroke="#000" stroke-width="1.5"/>
<circle cx="284.3" cy="387.7" r="5.55" fill="#d55e5f" fill-opacity="0.87" stroke="#000" stroke-width="1.5"/>
<circle cx="284.3" cy="388.6" r="5.55" fill="#d55e5f" fill-opacity="0.87" stroke="#000" stroke-width="1.5"/>
<circle cx="275.7" cy="391.6" r="5.55" fill="#d55e5f" fill-opacity="0.87" stroke="#000" stroke-width="1.5"/>
<circle cx="284.3" cy="391.6" r="5.55" fill="#d55e5f" fill-opacity="0.87" stroke="#000" stroke-width="1.5"/>
<circle cx="275.7" cy="396.3" r="5.55" fill="#d55e5f" fill-opacity="0.87" stroke="#000" stroke-width="1.5"/>
<circle cx="275.7" cy="396.6" r="5.55" fill="#d55e5f" fill-opacity="0.87" stroke="#000" stroke-width="1.5"/>
<circle cx="648.5" cy="49.0" r="5.55" fill="#cdc211" fill-opacity="0.87" stroke="#000" stroke-width="1.5"/>
<circle cx="605.4" cy="101.0" r="5.55" fill="#cdc211" fill-opacity="0.87" stroke="#000" stroke-width="1.5"/>
<circle cx="566.6" cy="126.7" r="5.55" fill="#cdc211" fill-opacity="0.87" stroke="#000" stroke-width="1.5"/>
<circle cx="551.4" cy="136.6" r="5.55" fill="#cdc211" fill-opacity="0.87" stroke="#000" stroke-width="1.5"/>
<circle cx="553.1" cy="146.6" r="5.55" fill="#cdc211" fill-opacity="0.87" stroke="#000" stroke-width="1.5"/>
<circle cx="531.9" cy="148.8" r="5.55" fill="#cdc211" fill-opacity="0.87" stroke="#000" stroke-width="1.5"/>
<circle cx="528.4" cy="153.4" r="5.55" fill="#cdc211" fill-opacity="0.87" stroke="#000" stroke-width="1.5"/>
<circle cx="526.9" cy="154.1" r="5.55" fill="#cdc211" fill-opacity="0.87" stroke="#000" stroke-width="1.5"/>
<circle cx="512.0" cy="160.4" r="5.55" fill="#cdc211" fill-opacity="0.87" stroke="#000" stroke-width="1.5"/>
<circle cx="533.6" cy="162.2" r="5.55" fill="#cdc211" fill-opacity="0.87" stroke="#000" stroke-width="1.5"/>
<circle cx="512.0" cy="170.4" r="5.55" fill="#cdc211" fill-opacity="0.87" stroke="#000" stroke-width="1.5"/>
<circle cx="515.0" cy="178.0" r="5.55" fill="#cdc211" fill-opacity="0.87" stroke="#000" stroke-width="1.5"/>
<circle cx="505.0" cy="179.1" r="5.55" fill="#cdc211" fill-opacity="0.87" stroke="#000" stroke-width="1.5"/>
<circle cx="493.9" cy="182.6" r="5.55" fill="#cdc211" fill-opacity="0.87" stroke="#000" stroke-width="1.5"/>
<circle cx="487.5" cy="186.7" r="5.55" fill="#cdc211" fill-opacity="0.87" stroke="#000" stroke-width="1.5"/>
<circle cx="496.3" cy="191.4" r="5.55" fill="#cdc211" fill-opacity="0.87" stroke="#000" stroke-width="1.5"/>
<circle cx="491.2" cy="192.9" r="5.55" fill="#cdc211" fill-opacity="0.87" stroke="#000" stroke-width="1.5"/>
<circle cx="485.2" cy="193.7" r="5.55" fill="#cdc211" fill-opacity="0.87" stroke="#000" stroke-width="1.5"/>
<circle cx="484.0" cy="193.9" r="5.55" fill="#cdc211" fill-opacity="0.87" stroke="#000" stroke-width="1.5"/>
<circle cx="478.9" cy="201.9" r="5.55" fill="#cdc211" fill-opacity="0.87" stroke="#000" stroke-width="1.5"/>
<circle cx="474.7" cy="203.1" r="5.55" fill="#cdc211" fill-opacity="0.87" stroke="#000" stroke-width="1.5"/>
<circle cx="487.5" cy="204.2" r="5.55" fill="#cdc211" fill-opacity="0.87" stroke="#000" stroke-width="1.5"/>
<circle cx="487.1" cy="204.2" r="5.55" fill="#cdc211" fill-opacity="0.87" stroke="#000" stroke-width="1.5"/>
<circle cx="473.8" cy="204.2" r="5.55" fill="#cdc211" fill-opacity="0.87" stroke="#000" stroke-width="1.5"/>
<circle cx="487.5" cy="208.9" r="5.55" fill="#cdc211" fill-opacity="0.87" stroke="#000" stroke-width="1.5"/>
<circle cx="470.7" cy="209.9" r="5.55" fill="#cdc211" fill-opacity="0.87" stroke="#000" stroke-width="1.5"/>
<circle cx="470.7" cy="210.0" r="5.55" fill="#cdc211" fill-opacity="0.87" stroke="#000" stroke-width="1.5"/>
<circle cx="460.5" cy="211.3" r="5.55" fill="#cdc211" fill-opacity="0.87" stroke="#000" stroke-width="1.5"/>
<circle cx="451.3" cy="218.5" r="5.55" fill="#cdc211" fill-opacity="0.87" stroke="#000" stroke-width="1.5"/>
<circle cx="461.5" cy="219.5" r="5.55" fill="#cdc211" fill-opacity="0.87" stroke="#000" stroke-width="1.5"/>
<circle cx="451.4" cy="222.2" r="5.55" fill="#cdc211" fill-opacity="0.87" stroke="#000" stroke-width="1.5"/>
<circle cx="451.3" cy="223.6" r="5.55" fill="#cdc211" fill-opacity="0.87" stroke="#000" stroke-width="1.5"/>
<circle cx="451.2" cy="229.3" r="5.55" fill="#cdc211" fill-opacity="0.87" stroke="#000" stroke-width="1.5"/>
<circle cx="451.2" cy="229.7" r="5.55" fill="#cdc211" fill-opacity="0.87" stroke="#000" stroke-width="1.5"/>
<circle cx="441.9" cy="237.1" r="5.55" fill="#cdc211" fill-opacity="0.87" stroke="#000" stroke-width="1.5"/>
<circle cx="430.9" cy="244.0" r="5.55" fill="#cdc211" fill-opacity="0.87" stroke="#000" stroke-width="1.5"/>
<circle cx="429.9" cy="244.6" r="5.55" fill="#cdc211" fill-opacity="0.87" stroke="#000" stroke-width="1.5"/>
<circle cx="449.3" cy="245.0" r="5.55" fill="#cdc211" fill-opacity="0.87" stroke="#000" stroke-width="1.5"/>
<circle cx="450.4" cy="245.7" r="5.55" fill="#cdc211" fill-opacity="0.87" stroke="#000" stroke-width="1.5"/>
<circle cx="422.1" cy="252.1" r="5.55" fill="#cdc211" fill-opacity="0.87" stroke="#000" stroke-width="1.5"/>
<circle cx="418.6" cy="252.2" r="5.55" fill="#cdc211" fill-opacity="0.87" stroke="#000" stroke-width="1.5"/>
<circle cx="413.7" cy="260.5" r="5.55" fill="#cdc211" fill-opacity="0.87" stroke="#000" stroke-width="1.5"/>
<circle cx="414.6" cy="267.1" r="5.55" fill="#cdc211" fill-opacity="0.87" stroke="#000" stroke-width="1.5"/>
<circle cx="405.4" cy="268.1" r="5.55" fill="#cdc211" fill-opacity="0.87" stroke="#000" stroke-width="1.5"/>
<circle cx="404.1" cy="268.8" r="5.55" fill="#cdc211" fill-opacity="0.87" stroke="#000" stroke-width="1.5"/>
<circle cx="394.7" cy="278.2" r="5.55" fill="#cdc211" fill-opacity="0.87" stroke="#000" stroke-width="1.5"/>
<circle cx="394.2" cy="280.4" r="5.55" fill="#cdc211" fill-opacity="0.87" stroke="#000" stroke-width="1.5"/>
<circle cx="394.9" cy="280.5" r="5.55" fill="#cdc211" fill-opacity="0.87" stroke="#000" stroke-width="1.5"/>
<circle cx="394.9" cy="281.6" r="5.55" fill="#cdc211" fill-opacity="0.87" stroke="#000" stroke-width="1.5"/>
<circle cx="376.8" cy="291.6" r="5.55" fill="#cdc211" fill-opacity="0.87" stroke="#000" stroke-width="1.5"/>
<circle cx="376.3" cy="292.5" r="5.55" fill="#cdc211" fill-opacity="0.87" stroke="#000" stroke-width="1.5"/>
<circle cx="365.2" cy="303.8" r="5.55" fill="#cdc211" fill-opacity="0.87" stroke="#000" stroke-width="1.5"/>
<circle cx="369.1" cy="309.9" r="5.55" fill="#cdc211" fill-opacity="0.87" stroke="#000" stroke-width="1.5"/>
<circle cx="365.2" cy="310.8" r="5.55" fill="#cdc211" fill-opacity="0.87" stroke="#000" stroke-width="1.5"/>
<circle cx="364.5" cy="311.1" r="5.55" fill="#cdc211" fill-opacity="0.87" stroke="#000" stroke-width="1.5"/>
<circle cx="356.6" cy="314.1" r="5.55" fill="#cdc211" fill-opacity="0.87" stroke="#000" stroke-width="1.5"/>
<circle cx="352.3" cy="317.2" r="5.55" fill="#cdc211" fill-opacity="0.87" stroke="#000" stroke-width="1.5"/>
<circle cx="351.7" cy="321.1" r="5.55" fill="#cdc211" fill-opacity="0.87" stroke="#000" stroke-width="1.5"/>
<circle cx="337.9" cy="333.1" r="5.55" fill="#cdc211" fill-opacity="0.87" stroke="#000" stroke-width="1.5"/>
<circle cx="337.9" cy="335.3" r="5.55" fill="#cdc211" fill-opacity="0.87" stroke="#000" stroke-width="1.5"/>
<circle cx="337.9" cy="335.7" r="5.55" fill="#cdc211" fill-opacity="0.87" stroke="#000" stroke-width="1.5"/>
<circle cx="331.3" cy="336.4" r="5.55" fill="#cdc211" fill-opacity="0.87" stroke="#000" stroke-width="1.5"/>
<circle cx="325.2" cy="342.6" r="5.55" fill="#cdc211" fill-opacity="0.87" stroke="#000" stroke-width="1.5"/>
<circle cx="329.8" cy="346.1" r="5.55" fill="#cdc211" fill-opacity="0.87" stroke="#000" stroke-width="1.5"/>
<circle cx="325.4" cy="346.1" r="5.55" fill="#cdc211" fill-opacity="0.87" stroke="#000" stroke-width="1.5"/>
<circle cx="329.8" cy="348.0" r="5.55" fill="#cdc211" fill-opacity="0.87" stroke="#000" stroke-width="1.5"/>
<circle cx="321.1" cy="348.7" r="5.55" fill="#cdc211" fill-opacity="0.87" stroke="#000" stroke-width="1.5"/>
<circle cx="321.3" cy="350.2" r="5.55" fill="#cdc211" fill-opacity="0.87" stroke="#000" stroke-width="1.5"/>
<circle cx="321.7" cy="351.3" r="5.55" fill="#cdc211" fill-opacity="0.87" stroke="#000" stroke-width="1.5"/>
<circle cx="323.1" cy="353.8" r="5.55" fill="#cdc211" fill-opacity="0.87" stroke="#000" stroke-width="1.5"/>
<circle cx="312.1" cy="358.7" r="5.55" fill="#cdc211" fill-opacity="0.87" stroke="#000" stroke-width="1.5"/>
<circle cx="306.8" cy="360.9" r="5.55" fill="#cdc211" fill-opacity="0.87" stroke="#000" stroke-width="1.5"/>
<circle cx="298.6" cy="367.1" r="5.55" fill="#cdc211" fill-opacity="0.87" stroke="#000" stroke-width="1.5"/>
<circle cx="299.9" cy="369.6" r="5.55" fill="#cdc211" fill-opacity="0.87" stroke="#000" stroke-width="1.5"/>
<circle cx="294.5" cy="370.1" r="5.55" fill="#cdc211" fill-opacity="0.87" stroke="#000" stroke-width="1.5"/>
<circle cx="302.6" cy="370.2" r="5.55" fill="#cdc211" fill-opacity="0.87" stroke="#000" stroke-width="1.5"/>
<circle cx="302.6" cy="371.3" r="5.55" fill="#cdc211" fill-opacity="0.87" stroke="#000" stroke-width="1.5"/>
<circle cx="293.7" cy="371.7" r="5.55" fill="#cdc211" fill-opacity="0.87" stroke="#000" stroke-width="1.5"/>
<circle cx="293.7" cy="375.7" r="5.55" fill="#cdc211" fill-opacity="0.87" stroke="#000" stroke-width="1.5"/>
<circle cx="293.7" cy="379.4" r="5.55" fill="#cdc211" fill-opacity="0.87" stroke="#000" stroke-width="1.5"/>
<circle cx="284.3" cy="386.4" r="5.55" fill="#cdc211" fill-opacity="0.87" stroke="#000" stroke-width="1.5"/>
<circle cx="275.7" cy="397.4" r="5.55" fill="#cdc211" fill-opacity="0.87" stroke="#000" stroke-width="1.5"/>
<circle cx="275.3" cy="399.3" r="5.55" fill="#cdc211" fill-opacity="0.87" stroke="#000" stroke-width="1.5"/>
<rect x="222.2" y="1.0" width="461.80" height="448.80" fill="none" stroke="#000" stroke-width="2"/>
<line x1="222.2" y1="398.10" x2="228.20" y2="398.10" stroke="#000" stroke-width="1.6"/>
<line x1="222.2" y1="327.60" x2="225.80" y2="327.60" stroke="#000" stroke-width="1.6"/>
<line x1="222.2" y1="286.36" x2="225.80" y2="286.36" stroke="#000" stroke-width="1.6"/>
<line x1="222.2" y1="257.10" x2="225.80" y2="257.10" stroke="#000" stroke-width="1.6"/>
<line x1="222.2" y1="234.40" x2="225.80" y2="234.40" stroke="#000" stroke-width="1.6"/>
<line x1="222.2" y1="215.86" x2="225.80" y2="215.86" stroke="#000" stroke-width="1.6"/>
<line x1="222.2" y1="200.18" x2="225.80" y2="200.18" stroke="#000" stroke-width="1.6"/>
<line x1="222.2" y1="186.60" x2="225.80" y2="186.60" stroke="#000" stroke-width="1.6"/>
<line x1="222.2" y1="174.62" x2="225.80" y2="174.62" stroke="#000" stroke-width="1.6"/>
<line x1="222.2" y1="163.90" x2="228.20" y2="163.90" stroke="#000" stroke-width="1.6"/>
<line x1="222.2" y1="93.40" x2="225.80" y2="93.40" stroke="#000" stroke-width="1.6"/>
<line x1="222.2" y1="52.16" x2="225.80" y2="52.16" stroke="#000" stroke-width="1.6"/>
<line x1="222.2" y1="22.90" x2="225.80" y2="22.90" stroke="#000" stroke-width="1.6"/>
<line x1="222.2" y1="434.38" x2="225.80" y2="434.38" stroke="#000" stroke-width="1.6"/>
<line x1="222.2" y1="420.80" x2="225.80" y2="420.80" stroke="#000" stroke-width="1.6"/>
<line x1="222.2" y1="408.82" x2="225.80" y2="408.82" stroke="#000" stroke-width="1.6"/>
<line x1="238.06" y1="449.8" x2="238.06" y2="446.20" stroke="#000" stroke-width="1.6"/>
<line x1="252.00" y1="449.8" x2="252.00" y2="446.20" stroke="#000" stroke-width="1.6"/>
<line x1="264.30" y1="449.8" x2="264.30" y2="446.20" stroke="#000" stroke-width="1.6"/>
<line x1="275.30" y1="449.8" x2="275.30" y2="443.80" stroke="#000" stroke-width="1.6"/>
<line x1="347.67" y1="449.8" x2="347.67" y2="446.20" stroke="#000" stroke-width="1.6"/>
<line x1="390.00" y1="449.8" x2="390.00" y2="446.20" stroke="#000" stroke-width="1.6"/>
<line x1="420.04" y1="449.8" x2="420.04" y2="446.20" stroke="#000" stroke-width="1.6"/>
<line x1="443.33" y1="449.8" x2="443.33" y2="446.20" stroke="#000" stroke-width="1.6"/>
<line x1="462.37" y1="449.8" x2="462.37" y2="446.20" stroke="#000" stroke-width="1.6"/>
<line x1="478.46" y1="449.8" x2="478.46" y2="446.20" stroke="#000" stroke-width="1.6"/>
<line x1="492.40" y1="449.8" x2="492.40" y2="446.20" stroke="#000" stroke-width="1.6"/>
<line x1="504.70" y1="449.8" x2="504.70" y2="446.20" stroke="#000" stroke-width="1.6"/>
<line x1="515.70" y1="449.8" x2="515.70" y2="443.80" stroke="#000" stroke-width="1.6"/>
<line x1="588.07" y1="449.8" x2="588.07" y2="446.20" stroke="#000" stroke-width="1.6"/>
<line x1="630.40" y1="449.8" x2="630.40" y2="446.20" stroke="#000" stroke-width="1.6"/>
<line x1="660.44" y1="449.8" x2="660.44" y2="446.20" stroke="#000" stroke-width="1.6"/>
<text transform="translate(215.40,175.70) scale(1,1.05)" font-size="29.5" text-anchor="end" >10</text>
<text transform="translate(216.20,409.90) scale(1,1.05)" font-size="29.5" text-anchor="end" >1</text>
<text transform="translate(276.10,478.20) scale(1,1.05)" font-size="29.5" text-anchor="middle" >1</text>
<text transform="translate(515.70,478.20) scale(1,1.05)" font-size="29.5" text-anchor="middle" >10</text>
<text transform="translate(313.2,511.9) scale(1,1.05)" font-size="29.5"><tspan font-style="italic">T</tspan><tspan font-size="21" dy="9.2">2</tspan><tspan dy="-9.2"> (ms), bare 2D host</tspan></text>
<text transform="translate(166.6,380.0) rotate(-90) scale(1,1.05)" font-size="29.5"><tspan font-style="italic">T</tspan><tspan font-size="21" dy="9.2">2</tspan><tspan dy="-9.2"> (ms), heterostructure</tspan></text>
<text transform="translate(36.90,29.80) scale(1,1.05)" font-size="31.8" text-anchor="start" >(a)</text>
<text transform="translate(254.30,31.00) scale(1,1.05)" font-size="29.5" text-anchor="start" >Substrate</text>
<line x1="239.2" y1="39.8" x2="395.8" y2="39.8" stroke="#000" stroke-width="2"/>
<circle cx="250.7" cy="59.50" r="5.3" fill="#7394cc" stroke="#000" stroke-width="2.25"/>
<text transform="translate(272.80,69.80) scale(1,1.05)" font-size="29.5" text-anchor="start" >Diamond</text>
<circle cx="250.7" cy="94.80" r="5.3" fill="#e1974e" stroke="#000" stroke-width="2.25"/>
<text transform="translate(272.80,105.10) scale(1,1.05)" font-size="29.5" text-anchor="start" >Graphite</text>
<circle cx="250.7" cy="130.10" r="5.3" fill="#ab6a58" stroke="#000" stroke-width="2.25"/>
<text transform="translate(272.80,140.40) scale(1,1.05)" font-size="29.5" text-anchor="start" >Si</text>
<circle cx="250.7" cy="165.40" r="5.3" fill="#87bb5e" stroke="#000" stroke-width="2.25"/>
<text transform="translate(272.80,175.70) scale(1,1.05)" font-size="29.5" text-anchor="start" >3C-SiC</text>
<circle cx="250.7" cy="200.70" r="5.3" fill="#8f69a8" stroke="#000" stroke-width="2.25"/>
<text transform="translate(272.80,211.00) scale(1,1.05)" font-size="29.5" text-anchor="start" >SiO<tspan font-size="21" dy="9.2">2</tspan></text>
<circle cx="250.7" cy="236.00" r="5.3" fill="#d55e5f" stroke="#000" stroke-width="2.25"/>
<text transform="translate(272.80,246.30) scale(1,1.05)" font-size="29.5" text-anchor="start" >CaO</text>
<circle cx="250.7" cy="271.30" r="5.3" fill="#cdc211" stroke="#000" stroke-width="2.25"/>
<text transform="translate(272.80,281.60) scale(1,1.05)" font-size="29.5" text-anchor="start" >CeO<tspan font-size="21" dy="9.2">2</tspan></text>
<line x1="317.73" y1="556.0" x2="317.73" y2="1016.8" stroke="#d9d9d9" stroke-width="2"/>
<line x1="414.16" y1="556.0" x2="414.16" y2="1016.8" stroke="#d9d9d9" stroke-width="2"/>
<line x1="510.59" y1="556.0" x2="510.59" y2="1016.8" stroke="#d9d9d9" stroke-width="2"/>
<line x1="607.02" y1="556.0" x2="607.02" y2="1016.8" stroke="#d9d9d9" stroke-width="2"/>
<rect x="220.00" y="560.10" width="343.80" height="26.40" fill="#000"/>
<rect x="222.2" y="562.80" width="338.90" height="21.00" fill="#7f8584"/>
<line x1="221.2" y1="573.30" x2="228.0" y2="573.30" stroke="#000" stroke-width="1.6"/>
<text transform="translate(213.70,584.30) scale(1,1.05)" font-size="29.5" text-anchor="end" >Bare WS<tspan dy="3.3" font-size="21.5">2</tspan></text>
<rect x="220.00" y="590.55" width="300.10" height="26.40" fill="#000"/>
<rect x="222.2" y="593.25" width="295.20" height="21.00" fill="#cdc211"/>
<line x1="221.2" y1="603.75" x2="228.0" y2="603.75" stroke="#000" stroke-width="1.6"/>
<text transform="translate(215.80,614.75) scale(1,1.05)" font-size="29.8" text-anchor="end" >CeO<tspan dy="3.3" font-size="21.5" dx="1.0">2</tspan><tspan dy="-3.3" dx="0.8"> (111)</tspan></text>
<rect x="220.00" y="621.00" width="294.60" height="26.40" fill="#000"/>
<rect x="222.2" y="623.70" width="289.70" height="21.00" fill="#cdc211"/>
<line x1="221.2" y1="634.20" x2="228.0" y2="634.20" stroke="#000" stroke-width="1.6"/>
<text transform="translate(215.80,645.20) scale(1,1.05)" font-size="29.8" text-anchor="end" >CeO<tspan dy="3.3" font-size="21.5" dx="1.0">2</tspan><tspan dy="-3.3" dx="0.8"> (011)</tspan></text>
<rect x="220.00" y="651.45" width="302.80" height="26.40" fill="#000"/>
<rect x="222.2" y="654.15" width="297.90" height="21.00" fill="#cdc211"/>
<line x1="221.2" y1="664.65" x2="228.0" y2="664.65" stroke="#000" stroke-width="1.6"/>
<text transform="translate(215.80,675.65) scale(1,1.05)" font-size="29.8" text-anchor="end" >CeO<tspan dy="3.3" font-size="21.5" dx="1.0">2</tspan><tspan dy="-3.3" dx="0.8"> (001)</tspan></text>
<rect x="220.00" y="681.90" width="276.20" height="26.40" fill="#000"/>
<rect x="222.2" y="684.60" width="271.30" height="21.00" fill="#d55e5f"/>
<line x1="221.2" y1="695.10" x2="228.0" y2="695.10" stroke="#000" stroke-width="1.6"/>
<text transform="translate(215.80,706.10) scale(1,1.05)" font-size="29.8" text-anchor="end"  style="font-kerning:normal;font-feature-settings:normal">CaO (011)</text>
<rect x="220.00" y="712.35" width="274.00" height="26.40" fill="#000"/>
<rect x="222.2" y="715.05" width="269.10" height="21.00" fill="#d55e5f"/>
<line x1="221.2" y1="725.55" x2="228.0" y2="725.55" stroke="#000" stroke-width="1.6"/>
<text transform="translate(215.80,736.55) scale(1,1.05)" font-size="29.8" text-anchor="end" >CaO (001)</text>
<rect x="220.00" y="742.80" width="41.80" height="26.40" fill="#000"/>
<rect x="222.2" y="745.50" width="36.90" height="21.00" fill="#8f69a8"/>
<line x1="221.2" y1="756.00" x2="228.0" y2="756.00" stroke="#000" stroke-width="1.6"/>
<text transform="translate(215.80,767.00) scale(1,1.05)" font-size="29.8" text-anchor="end" >SiO<tspan dy="3.3" font-size="21.5" dx="1.0">2</tspan><tspan dy="-3.3" dx="0.8"> (100)</tspan></text>
<rect x="220.00" y="773.25" width="41.80" height="26.40" fill="#000"/>
<rect x="222.2" y="775.95" width="36.90" height="21.00" fill="#8f69a8"/>
<line x1="221.2" y1="786.45" x2="228.0" y2="786.45" stroke="#000" stroke-width="1.6"/>
<text transform="translate(215.80,797.45) scale(1,1.05)" font-size="29.8" text-anchor="end" >SiO<tspan dy="3.3" font-size="21.5" dx="1.0">2</tspan><tspan dy="-3.3" dx="0.8"> (010)</tspan></text>
<rect x="220.00" y="803.70" width="48.70" height="26.40" fill="#000"/>
<rect x="222.2" y="806.40" width="43.80" height="21.00" fill="#8f69a8"/>
<line x1="221.2" y1="816.90" x2="228.0" y2="816.90" stroke="#000" stroke-width="1.6"/>
<text transform="translate(215.80,827.90) scale(1,1.05)" font-size="29.8" text-anchor="end" >SiO<tspan dy="3.3" font-size="21.5" dx="1.0">2</tspan><tspan dy="-3.3" dx="0.8"> (001)</tspan></text>
<rect x="220.00" y="834.15" width="24.80" height="26.40" fill="#000"/>
<rect x="222.2" y="836.85" width="19.90" height="21.00" fill="#87bb5e"/>
<line x1="221.2" y1="847.35" x2="228.0" y2="847.35" stroke="#000" stroke-width="1.6"/>
<text transform="translate(215.80,858.35) scale(1,1.05)" font-size="29.8" text-anchor="end" >3C-SiC (001)</text>
<rect x="220.00" y="864.60" width="11.10" height="26.40" fill="#000"/>
<rect x="222.2" y="867.30" width="6.20" height="21.00" fill="#ab6a58"/>
<line x1="221.2" y1="877.80" x2="228.0" y2="877.80" stroke="#000" stroke-width="1.6"/>
<text transform="translate(215.80,888.80) scale(1,1.05)" font-size="29.8" text-anchor="end"  style="font-kerning:normal;font-feature-settings:normal">Si (111)</text>
<rect x="220.00" y="895.05" width="13.50" height="26.40" fill="#000"/>
<rect x="222.2" y="897.75" width="8.60" height="21.00" fill="#ab6a58"/>
<line x1="221.2" y1="908.25" x2="228.0" y2="908.25" stroke="#000" stroke-width="1.6"/>
<text transform="translate(215.80,919.25) scale(1,1.05)" font-size="29.8" text-anchor="end" >Si (001)</text>
<rect x="220.00" y="925.50" width="23.50" height="26.40" fill="#000"/>
<rect x="222.2" y="928.20" width="18.60" height="21.00" fill="#e1974e"/>
<line x1="221.2" y1="938.70" x2="228.0" y2="938.70" stroke="#000" stroke-width="1.6"/>
<text transform="translate(215.80,949.70) scale(1,1.05)" font-size="29.8" text-anchor="end" >Graphite (001)</text>
<rect x="220.00" y="955.95" width="17.30" height="26.40" fill="#000"/>
<rect x="222.2" y="958.65" width="12.40" height="21.00" fill="#7394cc"/>
<line x1="221.2" y1="969.15" x2="228.0" y2="969.15" stroke="#000" stroke-width="1.6"/>
<text transform="translate(215.80,980.15) scale(1,1.05)" font-size="29.8" text-anchor="end"  style="font-kerning:normal;font-feature-settings:normal">Diamond (111)</text>
<rect x="220.00" y="986.40" width="18.70" height="26.40" fill="#000"/>
<rect x="222.2" y="989.10" width="13.80" height="21.00" fill="#7394cc"/>
<line x1="221.2" y1="999.60" x2="228.0" y2="999.60" stroke="#000" stroke-width="1.6"/>
<text transform="translate(215.80,1010.60) scale(1,1.05)" font-size="29.8" text-anchor="end" >Diamond (001)</text>
<rect x="221.2" y="555.00" width="462.30" height="462.80" fill="none" stroke="#000" stroke-width="1.8"/>
<line x1="317.73" y1="1017.80" x2="317.73" y2="1011.30" stroke="#000" stroke-width="2"/>
<line x1="414.16" y1="1017.80" x2="414.16" y2="1011.30" stroke="#000" stroke-width="2"/>
<line x1="510.59" y1="1017.80" x2="510.59" y2="1011.30" stroke="#000" stroke-width="2"/>
<line x1="607.02" y1="1017.80" x2="607.02" y2="1011.30" stroke="#000" stroke-width="2"/>
<line x1="317.73" y1="1029.1" x2="317.73" y2="1186.8" stroke="#d9d9d9" stroke-width="2"/>
<line x1="414.16" y1="1029.1" x2="414.16" y2="1186.8" stroke="#d9d9d9" stroke-width="2"/>
<line x1="510.59" y1="1029.1" x2="510.59" y2="1186.8" stroke="#d9d9d9" stroke-width="2"/>
<line x1="607.02" y1="1029.1" x2="607.02" y2="1186.8" stroke="#d9d9d9" stroke-width="2"/>
<rect x="220.00" y="1032.80" width="229.30" height="26.60" fill="#000"/>
<rect x="222.2" y="1035.50" width="224.40" height="21.20" fill="#7f8584"/>
<line x1="221.2" y1="1046.10" x2="228.0" y2="1046.10" stroke="#000" stroke-width="1.6"/>
<text transform="translate(213.70,1057.10) scale(1,1.05)" font-size="29.5" text-anchor="end" >Bare Au<tspan dy="3.3" font-size="21.5" dx="1.5">2</tspan><tspan dy="-3.3">Se</tspan><tspan dy="3.3" font-size="21.5" dx="1.2">3</tspan><tspan dy="-3.3">O</tspan><tspan dy="3.3" font-size="21.5" dx="1.2">10</tspan></text>
<rect x="220.00" y="1063.70" width="182.30" height="26.60" fill="#000"/>
<rect x="222.2" y="1066.40" width="177.40" height="21.20" fill="#cdc211"/>
<line x1="221.2" y1="1077.00" x2="228.0" y2="1077.00" stroke="#000" stroke-width="1.6"/>
<text transform="translate(215.80,1088.00) scale(1,1.05)" font-size="29.8" text-anchor="end" >CeO<tspan dy="3.3" font-size="21.5" dx="1.0">2</tspan><tspan dy="-3.3" dx="0.8"> (011)</tspan></text>
<rect x="220.00" y="1094.60" width="177.50" height="26.60" fill="#000"/>
<rect x="222.2" y="1097.30" width="172.60" height="21.20" fill="#d55e5f"/>
<line x1="221.2" y1="1107.90" x2="228.0" y2="1107.90" stroke="#000" stroke-width="1.6"/>
<text transform="translate(215.80,1118.90) scale(1,1.05)" font-size="29.8" text-anchor="end" >CaO (001)</text>
<rect x="220.00" y="1125.50" width="22.40" height="26.60" fill="#000"/>
<rect x="222.2" y="1128.20" width="17.50" height="21.20" fill="#e1974e"/>
<line x1="221.2" y1="1138.80" x2="228.0" y2="1138.80" stroke="#000" stroke-width="1.6"/>
<text transform="translate(215.80,1149.80) scale(1,1.05)" font-size="29.8" text-anchor="end" >Graphite (001)</text>
<rect x="220.00" y="1156.40" width="19.20" height="26.60" fill="#000"/>
<rect x="222.2" y="1159.10" width="14.30" height="21.20" fill="#7394cc"/>
<line x1="221.2" y1="1169.70" x2="228.0" y2="1169.70" stroke="#000" stroke-width="1.6"/>
<text transform="translate(215.80,1180.70) scale(1,1.05)" font-size="29.8" text-anchor="end" >Diamond (001)</text>
<rect x="221.2" y="1028.10" width="462.30" height="159.70" fill="none" stroke="#000" stroke-width="1.8"/>
<line x1="317.73" y1="1187.80" x2="317.73" y2="1181.30" stroke="#000" stroke-width="2"/>
<line x1="414.16" y1="1187.80" x2="414.16" y2="1181.30" stroke="#000" stroke-width="2"/>
<line x1="510.59" y1="1187.80" x2="510.59" y2="1181.30" stroke="#000" stroke-width="2"/>
<line x1="607.02" y1="1187.80" x2="607.02" y2="1181.30" stroke="#000" stroke-width="2"/>
<line x1="317.73" y1="1199.1" x2="317.73" y2="1357.1" stroke="#d9d9d9" stroke-width="2"/>
<line x1="414.16" y1="1199.1" x2="414.16" y2="1357.1" stroke="#d9d9d9" stroke-width="2"/>
<line x1="510.59" y1="1199.1" x2="510.59" y2="1357.1" stroke="#d9d9d9" stroke-width="2"/>
<line x1="607.02" y1="1199.1" x2="607.02" y2="1357.1" stroke="#d9d9d9" stroke-width="2"/>
<rect x="220.00" y="1203.10" width="158.70" height="26.40" fill="#000"/>
<rect x="222.2" y="1205.80" width="153.80" height="21.00" fill="#7f8584"/>
<line x1="221.2" y1="1216.30" x2="228.0" y2="1216.30" stroke="#000" stroke-width="1.6"/>
<text transform="translate(213.70,1227.30) scale(1,1.05)" font-size="29.5" text-anchor="end" >Bare Au<tspan dy="3.3" font-size="21.5" dx="1.5">2</tspan><tspan dy="-3.3">Se</tspan><tspan dy="3.3" font-size="21.5" dx="1.2">2</tspan><tspan dy="-3.3">O</tspan><tspan dy="3.3" font-size="21.5" dx="1.2">7</tspan></text>
<rect x="220.00" y="1233.93" width="141.90" height="26.40" fill="#000"/>
<rect x="222.2" y="1236.63" width="137.00" height="21.00" fill="#cdc211"/>
<line x1="221.2" y1="1247.13" x2="228.0" y2="1247.13" stroke="#000" stroke-width="1.6"/>
<text transform="translate(215.80,1258.13) scale(1,1.05)" font-size="29.8" text-anchor="end" >CeO<tspan dy="3.3" font-size="21.5" dx="1.0">2</tspan><tspan dy="-3.3" dx="0.8"> (011)</tspan></text>
<rect x="220.00" y="1264.76" width="24.60" height="26.40" fill="#000"/>
<rect x="222.2" y="1267.46" width="19.70" height="21.00" fill="#87bb5e"/>
<line x1="221.2" y1="1277.96" x2="228.0" y2="1277.96" stroke="#000" stroke-width="1.6"/>
<text transform="translate(215.80,1288.96) scale(1,1.05)" font-size="29.8" text-anchor="end" >3C-SiC (001)</text>
<rect x="220.00" y="1295.59" width="21.80" height="26.40" fill="#000"/>
<rect x="222.2" y="1298.29" width="16.90" height="21.00" fill="#e1974e"/>
<line x1="221.2" y1="1308.79" x2="228.0" y2="1308.79" stroke="#000" stroke-width="1.6"/>
<text transform="translate(215.80,1319.79) scale(1,1.05)" font-size="29.8" text-anchor="end" >Graphite (001)</text>
<rect x="220.00" y="1326.42" width="17.80" height="26.40" fill="#000"/>
<rect x="222.2" y="1329.12" width="12.90" height="21.00" fill="#7394cc"/>
<line x1="221.2" y1="1339.62" x2="228.0" y2="1339.62" stroke="#000" stroke-width="1.6"/>
<text transform="translate(215.80,1350.62) scale(1,1.05)" font-size="29.8" text-anchor="end" >Diamond (001)</text>
<rect x="221.2" y="1198.10" width="462.30" height="160.00" fill="none" stroke="#000" stroke-width="1.8"/>
<line x1="317.73" y1="1358.10" x2="317.73" y2="1351.60" stroke="#000" stroke-width="2"/>
<line x1="414.16" y1="1358.10" x2="414.16" y2="1351.60" stroke="#000" stroke-width="2"/>
<line x1="510.59" y1="1358.10" x2="510.59" y2="1351.60" stroke="#000" stroke-width="2"/>
<line x1="607.02" y1="1358.10" x2="607.02" y2="1351.60" stroke="#000" stroke-width="2"/>
<line x1="317.73" y1="1369.0" x2="317.73" y2="1572.9" stroke="#d9d9d9" stroke-width="2"/>
<line x1="414.16" y1="1369.0" x2="414.16" y2="1572.9" stroke="#d9d9d9" stroke-width="2"/>
<line x1="510.59" y1="1369.0" x2="510.59" y2="1572.9" stroke="#d9d9d9" stroke-width="2"/>
<line x1="607.02" y1="1369.0" x2="607.02" y2="1572.9" stroke="#d9d9d9" stroke-width="2"/>
<rect x="220.00" y="1372.65" width="145.70" height="25.10" fill="#000"/>
<rect x="222.2" y="1375.35" width="140.80" height="19.70" fill="#7f8584"/>
<line x1="221.2" y1="1385.20" x2="228.0" y2="1385.20" stroke="#000" stroke-width="1.6"/>
<text transform="translate(213.70,1396.20) scale(1,1.05)" font-size="29.5" text-anchor="end" >Bare PdSO<tspan dy="3.3" font-size="21.5">4</tspan></text>
<rect x="220.00" y="1401.30" width="142.80" height="25.10" fill="#000"/>
<rect x="222.2" y="1404.00" width="137.90" height="19.70" fill="#d55e5f"/>
<line x1="221.2" y1="1413.85" x2="228.0" y2="1413.85" stroke="#000" stroke-width="1.6"/>
<text transform="translate(215.80,1424.85) scale(1,1.05)" font-size="29.8" text-anchor="end"  style="font-kerning:normal;font-feature-settings:normal">CaO (011)</text>
<rect x="220.00" y="1429.95" width="46.50" height="25.10" fill="#000"/>
<rect x="222.2" y="1432.65" width="41.60" height="19.70" fill="#8f69a8"/>
<line x1="221.2" y1="1442.50" x2="228.0" y2="1442.50" stroke="#000" stroke-width="1.6"/>
<text transform="translate(215.80,1453.50) scale(1,1.05)" font-size="29.8" text-anchor="end" >SiO<tspan dy="3.3" font-size="21.5" dx="1.0">2</tspan><tspan dy="-3.3" dx="0.8"> (001)</tspan></text>
<rect x="220.00" y="1458.60" width="23.70" height="25.10" fill="#000"/>
<rect x="222.2" y="1461.30" width="18.80" height="19.70" fill="#87bb5e"/>
<line x1="221.2" y1="1471.15" x2="228.0" y2="1471.15" stroke="#000" stroke-width="1.6"/>
<text transform="translate(215.80,1482.15) scale(1,1.05)" font-size="29.8" text-anchor="end" >3C-SiC (001)</text>
<rect x="220.00" y="1487.25" width="12.80" height="25.10" fill="#000"/>
<rect x="222.2" y="1489.95" width="7.90" height="19.70" fill="#ab6a58"/>
<line x1="221.2" y1="1499.80" x2="228.0" y2="1499.80" stroke="#000" stroke-width="1.6"/>
<text transform="translate(215.80,1510.80) scale(1,1.05)" font-size="29.8" text-anchor="end" >Si (001)</text>
<rect x="220.00" y="1515.90" width="22.80" height="25.10" fill="#000"/>
<rect x="222.2" y="1518.60" width="17.90" height="19.70" fill="#e1974e"/>
<line x1="221.2" y1="1528.45" x2="228.0" y2="1528.45" stroke="#000" stroke-width="1.6"/>
<text transform="translate(215.80,1539.45) scale(1,1.05)" font-size="29.8" text-anchor="end" >Graphite (001)</text>
<rect x="220.00" y="1544.55" width="15.80" height="25.10" fill="#000"/>
<rect x="222.2" y="1547.25" width="10.90" height="19.70" fill="#7394cc"/>
<line x1="221.2" y1="1557.10" x2="228.0" y2="1557.10" stroke="#000" stroke-width="1.6"/>
<text transform="translate(215.80,1568.10) scale(1,1.05)" font-size="29.8" text-anchor="end"  style="font-kerning:normal;font-feature-settings:normal">Diamond (111)</text>
<rect x="221.2" y="1368.00" width="462.30" height="205.90" fill="none" stroke="#000" stroke-width="1.8"/>
<line x1="317.73" y1="1573.90" x2="317.73" y2="1567.40" stroke="#000" stroke-width="2"/>
<line x1="414.16" y1="1573.90" x2="414.16" y2="1567.40" stroke="#000" stroke-width="2"/>
<line x1="510.59" y1="1573.90" x2="510.59" y2="1567.40" stroke="#000" stroke-width="2"/>
<line x1="607.02" y1="1573.90" x2="607.02" y2="1567.40" stroke="#000" stroke-width="2"/>
<line x1="317.73" y1="1585.1" x2="317.73" y2="1789.0" stroke="#d9d9d9" stroke-width="2"/>
<line x1="414.16" y1="1585.1" x2="414.16" y2="1789.0" stroke="#d9d9d9" stroke-width="2"/>
<line x1="510.59" y1="1585.1" x2="510.59" y2="1789.0" stroke="#d9d9d9" stroke-width="2"/>
<line x1="607.02" y1="1585.1" x2="607.02" y2="1789.0" stroke="#d9d9d9" stroke-width="2"/>
<rect x="220.00" y="1588.35" width="442.60" height="25.10" fill="#000"/>
<rect x="222.2" y="1591.05" width="437.70" height="19.70" fill="#cdc211"/>
<line x1="221.2" y1="1600.90" x2="228.0" y2="1600.90" stroke="#000" stroke-width="1.6"/>
<text transform="translate(213.00,1611.90) scale(1,1.05)" font-size="29.8" text-anchor="end" >CeO<tspan dy="3.3" font-size="21.5" dx="1.0">2</tspan></text>
<rect x="220.00" y="1617.05" width="308.80" height="25.10" fill="#000"/>
<rect x="222.2" y="1619.75" width="303.90" height="19.70" fill="#d55e5f"/>
<line x1="221.2" y1="1629.60" x2="228.0" y2="1629.60" stroke="#000" stroke-width="1.6"/>
<text transform="translate(214.20,1640.60) scale(1,1.05)" font-size="29.8" text-anchor="end" >CaO</text>
<rect x="220.00" y="1645.75" width="34.00" height="25.10" fill="#000"/>
<rect x="222.2" y="1648.45" width="29.10" height="19.70" fill="#8f69a8"/>
<line x1="221.2" y1="1658.30" x2="228.0" y2="1658.30" stroke="#000" stroke-width="1.6"/>
<text transform="translate(213.00,1669.30) scale(1,1.05)" font-size="29.8" text-anchor="end" >SiO<tspan dy="3.3" font-size="21.5" dx="1.0">2</tspan></text>
<rect x="220.00" y="1674.45" width="16.70" height="25.10" fill="#000"/>
<rect x="222.2" y="1677.15" width="11.80" height="19.70" fill="#87bb5e"/>
<line x1="221.2" y1="1687.00" x2="228.0" y2="1687.00" stroke="#000" stroke-width="1.6"/>
<text transform="translate(214.20,1698.00) scale(1,1.05)" font-size="29.8" text-anchor="end" >3C-SiC</text>
<rect x="220.00" y="1703.15" width="20.70" height="25.10" fill="#000"/>
<rect x="222.2" y="1705.85" width="15.80" height="19.70" fill="#ab6a58"/>
<line x1="221.2" y1="1715.70" x2="228.0" y2="1715.70" stroke="#000" stroke-width="1.6"/>
<text transform="translate(214.20,1726.70) scale(1,1.05)" font-size="29.8" text-anchor="end" >Si</text>
<rect x="220.00" y="1731.85" width="14.70" height="25.10" fill="#000"/>
<rect x="222.2" y="1734.55" width="9.80" height="19.70" fill="#e1974e"/>
<line x1="221.2" y1="1744.40" x2="228.0" y2="1744.40" stroke="#000" stroke-width="1.6"/>
<text transform="translate(214.20,1755.40) scale(1,1.05)" font-size="29.8" text-anchor="end" >Graphite</text>
<rect x="220.00" y="1760.55" width="11.80" height="25.10" fill="#000"/>
<rect x="222.2" y="1763.25" width="6.90" height="19.70" fill="#7394cc"/>
<line x1="221.2" y1="1773.10" x2="228.0" y2="1773.10" stroke="#000" stroke-width="1.6"/>
<text transform="translate(214.20,1784.10) scale(1,1.05)" font-size="29.8" text-anchor="end" >Diamond</text>
<rect x="221.2" y="1584.10" width="462.30" height="205.90" fill="none" stroke="#000" stroke-width="1.8"/>
<line x1="317.73" y1="1790.00" x2="317.73" y2="1783.50" stroke="#000" stroke-width="2"/>
<line x1="414.16" y1="1790.00" x2="414.16" y2="1783.50" stroke="#000" stroke-width="2"/>
<line x1="510.59" y1="1790.00" x2="510.59" y2="1783.50" stroke="#000" stroke-width="2"/>
<line x1="607.02" y1="1790.00" x2="607.02" y2="1783.50" stroke="#000" stroke-width="2"/>
<text transform="translate(221.30,1817.50) scale(1,1.05)" font-size="29.5" text-anchor="middle" >0</text>
<text transform="translate(317.73,1817.50) scale(1,1.05)" font-size="29.5" text-anchor="middle" >10</text>
<text transform="translate(414.16,1817.50) scale(1,1.05)" font-size="29.5" text-anchor="middle" >20</text>
<text transform="translate(510.59,1817.50) scale(1,1.05)" font-size="29.5" text-anchor="middle" >30</text>
<text transform="translate(607.02,1817.50) scale(1,1.05)" font-size="29.5" text-anchor="middle" >40</text>
<text transform="translate(404.5,1851.7) scale(1,1.05)" font-size="29.5"><tspan font-style="italic">T</tspan><tspan font-size="21" dy="8.3">2</tspan><tspan dy="-8.3"> (ms)</tspan></text>
<text transform="translate(620.40,800.20) scale(1,1.05)" font-size="31.5" text-anchor="middle" >(b)</text>
<text transform="translate(547.30,847.60) scale(1,1.05)" font-size="30.5" text-anchor="middle" font-weight="bold">Heterostructures</text>
<text transform="translate(547.30,884.40) scale(1,1.05)" font-size="30.5" text-anchor="middle" font-weight="bold">with WS<tspan dy="7.7" font-size="21">2</tspan></text>
<text transform="translate(620.40,1074.30) scale(1,1.05)" font-size="31.5" text-anchor="middle" >(c)</text>
<text transform="translate(547.30,1121.40) scale(1,1.05)" font-size="30.5" text-anchor="middle" font-weight="bold">Heterostructures</text>
<text transform="translate(547.30,1157.90) scale(1,1.05)" font-size="30.5" text-anchor="middle" font-weight="bold">with Au<tspan dy="7.7" font-size="21">2</tspan><tspan dy="-7.7">Se</tspan><tspan dy="7.7" font-size="21">3</tspan><tspan dy="-7.7">O</tspan><tspan dy="7.7" font-size="21">10</tspan></text>
<text transform="translate(620.40,1244.30) scale(1,1.05)" font-size="31.5" text-anchor="middle" >(d)</text>
<text transform="translate(547.30,1291.50) scale(1,1.05)" font-size="30.5" text-anchor="middle" font-weight="bold">Heterostructures</text>
<text transform="translate(547.30,1328.00) scale(1,1.05)" font-size="30.5" text-anchor="middle" font-weight="bold">with Au<tspan dy="7.7" font-size="21">2</tspan><tspan dy="-7.7">Se</tspan><tspan dy="7.7" font-size="21">2</tspan><tspan dy="-7.7">O</tspan><tspan dy="7.7" font-size="21">7</tspan></text>
<text transform="translate(620.40,1435.10) scale(1,1.05)" font-size="31.5" text-anchor="middle" >(e)</text>
<text transform="translate(547.30,1482.80) scale(1,1.05)" font-size="30.5" text-anchor="middle" font-weight="bold">Heterostructures</text>
<text transform="translate(547.30,1519.30) scale(1,1.05)" font-size="30.5" text-anchor="middle" font-weight="bold">with PdSO<tspan dy="7.7" font-size="21">4</tspan></text>
<text transform="translate(620.20,1673.70) scale(1,1.05)" font-size="31.5" text-anchor="middle" >(f)</text>
<text transform="translate(547.30,1721.60) scale(1,1.05)" font-size="30.5" text-anchor="middle" font-weight="bold">Substrates only</text>
<g transform="translate(215.40,175.70) scale(1,1.05)"><rect x="-31.36" y="-3.30" width="5.77" height="4.30" fill="#fff"/><rect x="-22.59" y="-3.30" width="5.54" height="4.30" fill="#fff"/></g>
<g transform="translate(216.20,409.90) scale(1,1.05)"><rect x="-14.96" y="-3.30" width="5.77" height="4.30" fill="#fff"/><rect x="-6.19" y="-3.30" width="5.54" height="4.30" fill="#fff"/></g>
<g transform="translate(276.10,478.20) scale(1,1.05)"><rect x="-6.76" y="-3.30" width="5.77" height="4.30" fill="#fff"/><rect x="2.02" y="-3.30" width="5.54" height="4.30" fill="#fff"/></g>
<g transform="translate(515.70,478.20) scale(1,1.05)"><rect x="-14.96" y="-3.30" width="5.77" height="4.30" fill="#fff"/><rect x="-6.18" y="-3.30" width="5.54" height="4.30" fill="#fff"/></g>
<g transform="translate(215.80,614.75) scale(1,1.05)"><rect x="-58.18" y="-3.33" width="5.82" height="4.33" fill="#fff"/><rect x="-49.32" y="-3.33" width="5.59" height="4.33" fill="#fff"/></g>
<g transform="translate(215.80,614.75) scale(1,1.05)"><rect x="-41.61" y="-3.33" width="5.82" height="4.33" fill="#fff"/><rect x="-32.76" y="-3.33" width="5.59" height="4.33" fill="#fff"/></g>
<g transform="translate(215.80,614.75) scale(1,1.05)"><rect x="-25.05" y="-3.33" width="5.82" height="4.33" fill="#fff"/><rect x="-16.19" y="-3.33" width="5.59" height="4.33" fill="#fff"/></g>
<g transform="translate(215.80,645.20) scale(1,1.05)"><rect x="-41.61" y="-3.33" width="5.82" height="4.33" fill="#fff"/><rect x="-32.76" y="-3.33" width="5.59" height="4.33" fill="#fff"/></g>
<g transform="translate(215.80,645.20) scale(1,1.05)"><rect x="-25.05" y="-3.33" width="5.82" height="4.33" fill="#fff"/><rect x="-16.19" y="-3.33" width="5.59" height="4.33" fill="#fff"/></g>
<g transform="translate(215.80,675.65) scale(1,1.05)"><rect x="-25.05" y="-3.33" width="5.82" height="4.33" fill="#fff"/><rect x="-16.19" y="-3.33" width="5.59" height="4.33" fill="#fff"/></g>
<g transform="translate(215.80,706.10) scale(1,1.05)"><rect x="-39.39" y="-3.33" width="5.82" height="4.33" fill="#fff"/><rect x="-30.53" y="-3.33" width="5.59" height="4.33" fill="#fff"/></g>
<g transform="translate(215.80,706.10) scale(1,1.05)"><rect x="-25.03" y="-3.33" width="5.82" height="4.33" fill="#fff"/><rect x="-16.18" y="-3.33" width="5.59" height="4.33" fill="#fff"/></g>
<g transform="translate(215.80,736.55) scale(1,1.05)"><rect x="-25.03" y="-3.33" width="5.82" height="4.33" fill="#fff"/><rect x="-16.18" y="-3.33" width="5.59" height="4.33" fill="#fff"/></g>
<g transform="translate(215.80,767.00) scale(1,1.05)"><rect x="-58.18" y="-3.33" width="5.82" height="4.33" fill="#fff"/><rect x="-49.32" y="-3.33" width="5.59" height="4.33" fill="#fff"/></g>
<g transform="translate(215.80,797.45) scale(1,1.05)"><rect x="-41.61" y="-3.33" width="5.82" height="4.33" fill="#fff"/><rect x="-32.76" y="-3.33" width="5.59" height="4.33" fill="#fff"/></g>
<g transform="translate(215.80,827.90) scale(1,1.05)"><rect x="-25.05" y="-3.33" width="5.82" height="4.33" fill="#fff"/><rect x="-16.19" y="-3.33" width="5.59" height="4.33" fill="#fff"/></g>
<g transform="translate(215.80,858.35) scale(1,1.05)"><rect x="-25.03" y="-3.33" width="5.82" height="4.33" fill="#fff"/><rect x="-16.18" y="-3.33" width="5.59" height="4.33" fill="#fff"/></g>
<g transform="translate(215.80,888.80) scale(1,1.05)"><rect x="-53.76" y="-3.33" width="5.82" height="4.33" fill="#fff"/><rect x="-44.90" y="-3.33" width="5.59" height="4.33" fill="#fff"/></g>
<g transform="translate(215.80,888.80) scale(1,1.05)"><rect x="-39.40" y="-3.33" width="5.82" height="4.33" fill="#fff"/><rect x="-30.55" y="-3.33" width="5.59" height="4.33" fill="#fff"/></g>
<g transform="translate(215.80,888.80) scale(1,1.05)"><rect x="-25.05" y="-3.33" width="5.82" height="4.33" fill="#fff"/><rect x="-16.19" y="-3.33" width="5.59" height="4.33" fill="#fff"/></g>
<g transform="translate(215.80,919.25) scale(1,1.05)"><rect x="-25.03" y="-3.33" width="5.82" height="4.33" fill="#fff"/><rect x="-16.18" y="-3.33" width="5.59" height="4.33" fill="#fff"/></g>
<g transform="translate(215.80,949.70) scale(1,1.05)"><rect x="-25.03" y="-3.33" width="5.82" height="4.33" fill="#fff"/><rect x="-16.18" y="-3.33" width="5.59" height="4.33" fill="#fff"/></g>
<g transform="translate(215.80,980.15) scale(1,1.05)"><rect x="-53.74" y="-3.33" width="5.82" height="4.33" fill="#fff"/><rect x="-44.89" y="-3.33" width="5.59" height="4.33" fill="#fff"/></g>
<g transform="translate(215.80,980.15) scale(1,1.05)"><rect x="-39.39" y="-3.33" width="5.82" height="4.33" fill="#fff"/><rect x="-30.53" y="-3.33" width="5.59" height="4.33" fill="#fff"/></g>
<g transform="translate(215.80,980.15) scale(1,1.05)"><rect x="-25.03" y="-3.33" width="5.82" height="4.33" fill="#fff"/><rect x="-16.18" y="-3.33" width="5.59" height="4.33" fill="#fff"/></g>
<g transform="translate(215.80,1010.60) scale(1,1.05)"><rect x="-25.03" y="-3.33" width="5.82" height="4.33" fill="#fff"/><rect x="-16.18" y="-3.33" width="5.59" height="4.33" fill="#fff"/></g>
<g transform="translate(213.70,1057.10) scale(1,1.05)"><rect x="-23.07" y="0.59" width="4.37" height="3.71" fill="#fff"/><rect x="-16.40" y="0.59" width="4.20" height="3.71" fill="#fff"/></g>
<g transform="translate(215.80,1088.00) scale(1,1.05)"><rect x="-41.61" y="-3.33" width="5.82" height="4.33" fill="#fff"/><rect x="-32.76" y="-3.33" width="5.59" height="4.33" fill="#fff"/></g>
<g transform="translate(215.80,1088.00) scale(1,1.05)"><rect x="-25.05" y="-3.33" width="5.82" height="4.33" fill="#fff"/><rect x="-16.19" y="-3.33" width="5.59" height="4.33" fill="#fff"/></g>
<g transform="translate(215.80,1118.90) scale(1,1.05)"><rect x="-25.03" y="-3.33" width="5.82" height="4.33" fill="#fff"/><rect x="-16.18" y="-3.33" width="5.59" height="4.33" fill="#fff"/></g>
<g transform="translate(215.80,1149.80) scale(1,1.05)"><rect x="-25.03" y="-3.33" width="5.82" height="4.33" fill="#fff"/><rect x="-16.18" y="-3.33" width="5.59" height="4.33" fill="#fff"/></g>
<g transform="translate(215.80,1180.70) scale(1,1.05)"><rect x="-25.03" y="-3.33" width="5.82" height="4.33" fill="#fff"/><rect x="-16.18" y="-3.33" width="5.59" height="4.33" fill="#fff"/></g>
<g transform="translate(215.80,1258.13) scale(1,1.05)"><rect x="-41.61" y="-3.33" width="5.82" height="4.33" fill="#fff"/><rect x="-32.76" y="-3.33" width="5.59" height="4.33" fill="#fff"/></g>
<g transform="translate(215.80,1258.13) scale(1,1.05)"><rect x="-25.05" y="-3.33" width="5.82" height="4.33" fill="#fff"/><rect x="-16.19" y="-3.33" width="5.59" height="4.33" fill="#fff"/></g>
<g transform="translate(215.80,1288.96) scale(1,1.05)"><rect x="-25.03" y="-3.33" width="5.82" height="4.33" fill="#fff"/><rect x="-16.18" y="-3.33" width="5.59" height="4.33" fill="#fff"/></g>
<g transform="translate(215.80,1319.79) scale(1,1.05)"><rect x="-25.03" y="-3.33" width="5.82" height="4.33" fill="#fff"/><rect x="-16.18" y="-3.33" width="5.59" height="4.33" fill="#fff"/></g>
<g transform="translate(215.80,1350.62) scale(1,1.05)"><rect x="-25.03" y="-3.33" width="5.82" height="4.33" fill="#fff"/><rect x="-16.18" y="-3.33" width="5.59" height="4.33" fill="#fff"/></g>
<g transform="translate(215.80,1424.85) scale(1,1.05)"><rect x="-39.39" y="-3.33" width="5.82" height="4.33" fill="#fff"/><rect x="-30.53" y="-3.33" width="5.59" height="4.33" fill="#fff"/></g>
<g transform="translate(215.80,1424.85) scale(1,1.05)"><rect x="-25.03" y="-3.33" width="5.82" height="4.33" fill="#fff"/><rect x="-16.18" y="-3.33" width="5.59" height="4.33" fill="#fff"/></g>
<g transform="translate(215.80,1453.50) scale(1,1.05)"><rect x="-25.05" y="-3.33" width="5.82" height="4.33" fill="#fff"/><rect x="-16.19" y="-3.33" width="5.59" height="4.33" fill="#fff"/></g>
<g transform="translate(215.80,1482.15) scale(1,1.05)"><rect x="-25.03" y="-3.33" width="5.82" height="4.33" fill="#fff"/><rect x="-16.18" y="-3.33" width="5.59" height="4.33" fill="#fff"/></g>
<g transform="translate(215.80,1510.80) scale(1,1.05)"><rect x="-25.03" y="-3.33" width="5.82" height="4.33" fill="#fff"/><rect x="-16.18" y="-3.33" width="5.59" height="4.33" fill="#fff"/></g>
<g transform="translate(215.80,1539.45) scale(1,1.05)"><rect x="-25.03" y="-3.33" width="5.82" height="4.33" fill="#fff"/><rect x="-16.18" y="-3.33" width="5.59" height="4.33" fill="#fff"/></g>
<g transform="translate(215.80,1568.10) scale(1,1.05)"><rect x="-53.74" y="-3.33" width="5.82" height="4.33" fill="#fff"/><rect x="-44.89" y="-3.33" width="5.59" height="4.33" fill="#fff"/></g>
<g transform="translate(215.80,1568.10) scale(1,1.05)"><rect x="-39.39" y="-3.33" width="5.82" height="4.33" fill="#fff"/><rect x="-30.53" y="-3.33" width="5.59" height="4.33" fill="#fff"/></g>
<g transform="translate(215.80,1568.10) scale(1,1.05)"><rect x="-25.03" y="-3.33" width="5.82" height="4.33" fill="#fff"/><rect x="-16.18" y="-3.33" width="5.59" height="4.33" fill="#fff"/></g>
<g transform="translate(317.73,1817.50) scale(1,1.05)"><rect x="-14.96" y="-3.30" width="5.77" height="4.30" fill="#fff"/><rect x="-6.18" y="-3.30" width="5.54" height="4.30" fill="#fff"/></g>
<g transform="translate(547.30,1157.90) scale(1,1.05)"><rect x="86.09" y="4.46" width="4.18" height="4.24" fill="#fff"/><rect x="93.55" y="4.46" width="3.91" height="4.24" fill="#fff"/></g></svg></body></html>
